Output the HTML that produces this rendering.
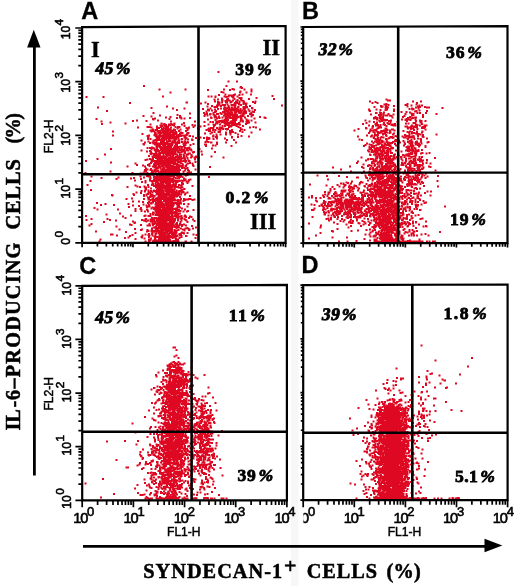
<!DOCTYPE html>
<html lang="en">
<head>
<meta charset="utf-8">
<title>Flow cytometry: IL-6-producing vs syndecan-1+ cells</title>
<style>
html,body{margin:0;padding:0;background:#fff}
body{width:520px;height:586px;overflow:hidden}
svg{display:block}
text{fill:#000}
</style>
</head>
<body>
<svg width="520" height="586" viewBox="0 0 520 586">
<rect width="520" height="586" fill="#fff"/>
<rect x="291" y="0" width="7.5" height="586" fill="#f7f7f7"/>
<path d="M84.5 173h2.0M85 161h2.0M85 216h2.0M85.5 97h2.0M85.5 220h2.0M86.5 185h2.0M88.5 225.5h2.0M89.5 181h2.0M90 190h2.0M90.5 176.5h2.0M90.5 219h2.0M90.5 224h2.0M93.5 208h2.0M95 231.5h2.0M95.5 119h2.0M96 203h2.0M96.5 159h2.0M96.5 209.5h2.0M97 107.5h2.0M98.5 241.5h2.0M99.5 239.5h2.0M100 205h2.0M100.5 121.5h2.0M100.5 178h2.0M101 124h2.0M102.5 97h2.0M103 222h2.0M104 154.5h2.0M104.5 204h2.0M105.5 214.5h2.0M106 111h2.0M106.5 219h2.0M109 220h2.0M109.5 122.5h2.0M109.5 171.5h2.0M110 149h2.0M110 162.5h2.0M110 234.5h2.0M111 195h2.0M111.5 195.5h2.0M111.5 234.5h2.0M112 131.5h2.0M112 135.5h2.0M113 205h2.0M115 220.5h2.0M115.5 179h2.0M115.5 226.5h2.0M116 235.5h2.0M117 209.5h2.0M117.5 177.5h2.0M118.5 229.5h2.0M119 213.5h2.0M122 216.5h2.0M124 238h2.0M124.5 123.5h2.0M124.5 218h2.0M125 232h2.0M125.5 199h2.0M126.5 166.5h2.0M126.5 187h2.0M127.5 204h2.0M127.5 237.5h2.0M128 207h2.0M129 103h2.0M129 224.5h2.0M129 236h2.0M130 178.5h2.0M130 215.5h2.0M130.5 225h2.0M131 198.5h2.0M131.5 173h2.0M131.5 235h2.0M132 121h2.0M132 201.5h2.0M132 205.5h2.0M132 221.5h2.0M132.5 194h2.0M133 178h2.0M133 195h2.0M133.5 223h2.0M134 180.5h2.0M134 222.5h2.0M134 229h2.0M134.5 163.5h2.0M134.5 185.5h2.0M134.5 209h2.0M134.5 211h2.0M134.5 233h2.0M134.5 239h2.0M135.5 192.5h2.0M136 120.5h2.0M136 165h2.0M136.5 186.5h2.0M137 127.5h2.0M138 201.5h2.0M138 206h2.0M139 187h2.0M139.5 173.5h2.0M139.5 176.5h2.0M139.5 209h2.0M140 179h2.0M140 193h2.0M140 208h2.0M140 225h2.0M140 230h2.0M140.5 140.5h2.0M140.5 150.5h2.0M140.5 173.5h2.0M140.5 191h2.0M140.5 210h2.0M140.5 211h2.0M140.5 237h2.0M141 182h2.0M141 220h2.0M141 229.5h2.0M141 237.5h2.0M141.5 134h2.0M141.5 235.5h2.0M142 165.5h2.0M142 202h2.0M142.5 116h2.0M142.5 144h2.0M142.5 173.5h2.0M142.5 204.5h2.0M143 86h2.0M143 144.5h2.0M143 177.5h2.0M143 195h2.0M143 196h2.0M143 199h2.0M143 220.5h2.0M143.5 171.5h2.0M143.5 186.5h2.0M143.5 216h2.0M143.5 238.5h2.0M144 142.5h2.0M144 166.5h2.0M144 170h2.0M144 187.5h2.0M144 190.5h2.0M144 191.5h2.0M144 211.5h2.0M144.5 160h2.0M144.5 181h2.0M144.5 182.5h2.0M144.5 215.5h2.0M144.5 219.5h2.0M144.5 221h2.0M144.5 234.5h2.0M144.5 241.5h2.0M145 168.5h2.0M145 171h2.0M145 173.5h2.0M145 187.5h2.0M145 189.5h2.0M145 219h2.0M145.5 121h2.0M145.5 169.5h2.0M145.5 194.5h2.0M145.5 195.5h2.0M145.5 205.5h2.0M145.5 221.5h2.0M146 151.5h2.0M146 176h2.0M146 207h2.0M146 209.5h2.0M146 231.5h2.0M146.5 127h2.0M146.5 136h2.0M146.5 148h2.0M146.5 159.5h2.0M146.5 169.5h2.0M146.5 173h2.0M146.5 210h2.0M146.5 225.5h2.0M146.5 230h2.0M147 137h2.0M147 139h2.0M147 165h2.0M147 185h2.0M147 194h2.0M147 197.5h2.0M147 203h2.0M147 211.5h2.0M147 220.5h2.0M147 225.5h2.0M147.5 136h2.0M147.5 137h2.0M147.5 137.5h2.0M147.5 141.5h2.0M147.5 176.5h2.0M147.5 187h2.0M147.5 190.5h2.0M147.5 191h2.0M147.5 192.5h2.0M147.5 199.5h2.0M147.5 206.5h2.0M147.5 216h2.0M147.5 231h2.0M147.5 235h2.0M148 135.5h2.0M148 156h2.0M148 175.5h2.0M148 198h2.0M148 202h2.0M148 205h2.0M148 225.5h2.0M148 234h2.0M148 237h2.0M148 239.5h2.0M148 241.5h2.0M148.5 127h2.0M148.5 164h2.0M148.5 166h2.0M148.5 176.5h2.0M148.5 206.5h2.0M148.5 224h2.0M148.5 235.5h2.0M148.5 239.5h2.0M148.5 241.5h2.0M149 143h2.0M149 148h2.0M149 151h2.0M149 159h2.0M149 176.5h2.0M149 179.5h2.0M149 180.5h2.0M149 192.5h2.0M149 197h2.0M149 225.5h2.0M149.5 124.5h2.0M149.5 130.5h2.0M149.5 139h2.0M149.5 153.5h2.0M149.5 170h2.0M149.5 178h2.0M149.5 193.5h2.0M149.5 195h2.0M149.5 200h2.0M149.5 200.5h2.0M149.5 203.5h2.0M149.5 214h2.0M149.5 216h2.0M149.5 219.5h2.0M149.5 221.5h2.0M149.5 240h2.0M150 152h2.0M150 154h2.0M150 159.5h2.0M150 163h2.0M150 169h2.0M150 188.5h2.0M150 191h2.0M150 238.5h2.0M150.5 108h2.0M150.5 116.5h2.0M150.5 127.5h2.0M150.5 131.5h2.0M150.5 149.5h2.0M150.5 162h2.0M150.5 173h2.0M150.5 181h2.0M150.5 196.5h2.0M150.5 203h2.0M150.5 203.5h2.0M150.5 208.5h2.0M150.5 220h2.0M150.5 230.5h2.0M150.5 231.5h2.0M151 147.5h2.0M151 153.5h2.0M151 161.5h2.0M151 170.5h2.0M151 171.5h2.0M151 184.5h2.0M151 185h2.0M151 195h2.0M151 196h2.0M151 199.5h2.0M151 218h2.0M151 221.5h2.0M151 228.5h2.0M151 230h2.0M151 234h2.0M151.5 130h2.0M151.5 142.5h2.0M151.5 156.5h2.0M151.5 161h2.0M151.5 174h2.0M151.5 174.5h2.0M151.5 182h2.0M151.5 192.5h2.0M151.5 195h2.0M151.5 207.5h2.0M151.5 219.5h2.0M151.5 223.5h2.0M151.5 233h2.0M151.5 235.5h2.0M152 119h2.0M152 129.5h2.0M152 131h2.0M152 148h2.0M152 157h2.0M152 158.5h2.0M152 159.5h2.0M152 166.5h2.0M152 173h2.0M152 184h2.0M152 196h2.0M152 199h2.0M152 201.5h2.0M152 202.5h2.0M152 212.5h2.0M152 213h2.0M152 214.5h2.0M152 225h2.0M152 231h2.0M152 241.5h2.0M152.5 113h2.0M152.5 119.5h2.0M152.5 140.5h2.0M152.5 142.5h2.0M152.5 143.5h2.0M152.5 161h2.0M152.5 181h2.0M152.5 191h2.0M152.5 197h2.0M152.5 199.5h2.0M152.5 213h2.0M152.5 227.5h2.0M152.5 240.5h2.0M153 143h2.0M153 154h2.0M153 155h2.0M153 156h2.0M153 157h2.0M153 164.5h2.0M153 165h2.0M153 171.5h2.0M153 176.5h2.0M153 177.5h2.0M153 180h2.0M153 186h2.0M153 190.5h2.0M153 201h2.0M153 209h2.0M153 218.5h2.0M153 221h2.0M153 221.5h2.0M153 224h2.0M153 231.5h2.0M153 241.5h2.0M153.5 131.5h2.0M153.5 135h2.0M153.5 148.5h2.0M153.5 149.5h2.0M153.5 164h2.0M153.5 166h2.0M153.5 167h2.0M153.5 169.5h2.0M153.5 178.5h2.0M153.5 180.5h2.0M153.5 196h2.0M153.5 208h2.0M153.5 218h2.0M153.5 219h2.0M153.5 227.5h2.0M153.5 236.5h2.0M153.5 240.5h2.0M154 118.5h2.0M154 133.5h2.0M154 134h2.0M154 135h2.0M154 144.5h2.0M154 150h2.0M154 155.5h2.0M154 162h2.0M154 163.5h2.0M154 167h2.0M154 170h2.0M154 199.5h2.0M154 222.5h2.0M154 231h2.0M154 238.5h2.0M154 240h2.0M154 241h2.0M154.5 130h2.0M154.5 133h2.0M154.5 136h2.0M154.5 140h2.0M154.5 142.5h2.0M154.5 144h2.0M154.5 144.5h2.0M154.5 151.5h2.0M154.5 161h2.0M154.5 163.5h2.0M154.5 172.5h2.0M154.5 173.5h2.0M154.5 177h2.0M154.5 179.5h2.0M154.5 181h2.0M154.5 183.5h2.0M154.5 185.5h2.0M154.5 191.5h2.0M154.5 201h2.0M154.5 204.5h2.0M154.5 207h2.0M154.5 207.5h2.0M154.5 210.5h2.0M154.5 211.5h2.0M154.5 214.5h2.0M154.5 215h2.0M154.5 223h2.0M154.5 227h2.0M154.5 228.5h2.0M154.5 233.5h2.0M154.5 235h2.0M154.5 239.5h2.0M155 142.5h2.0M155 150.5h2.0M155 153h2.0M155 154.5h2.0M155 156.5h2.0M155 157h2.0M155 158h2.0M155 162.5h2.0M155 164.5h2.0M155 165.5h2.0M155 167.5h2.0M155 170.5h2.0M155 178.5h2.0M155 179h2.0M155 181.5h2.0M155 182.5h2.0M155 187.5h2.0M155 191h2.0M155 192h2.0M155 198.5h2.0M155 199.5h2.0M155 202.5h2.0M155 207.5h2.0M155 208.5h2.0M155 218h2.0M155 221.5h2.0M155 229h2.0M155 230.5h2.0M155 233.5h2.0M155 240.5h2.0M155.5 134.5h2.0M155.5 136.5h2.0M155.5 137.5h2.0M155.5 140.5h2.0M155.5 142h2.0M155.5 144h2.0M155.5 146.5h2.0M155.5 150.5h2.0M155.5 153h2.0M155.5 153.5h2.0M155.5 154h2.0M155.5 155h2.0M155.5 164h2.0M155.5 169h2.0M155.5 169.5h2.0M155.5 171.5h2.0M155.5 177h2.0M155.5 182h2.0M155.5 185h2.0M155.5 194.5h2.0M155.5 200h2.0M155.5 202.5h2.0M155.5 203h2.0M155.5 204h2.0M155.5 206h2.0M155.5 208h2.0M155.5 213h2.0M155.5 224h2.0M155.5 225.5h2.0M155.5 227h2.0M155.5 227.5h2.0M155.5 231h2.0M155.5 231.5h2.0M155.5 233.5h2.0M155.5 237h2.0M155.5 241.5h2.0M156 126.5h2.0M156 128.5h2.0M156 130h2.0M156 138.5h2.0M156 147.5h2.0M156 149.5h2.0M156 162.5h2.0M156 175h2.0M156 176h2.0M156 176.5h2.0M156 186.5h2.0M156 190h2.0M156 193h2.0M156 198.5h2.0M156 205h2.0M156 208h2.0M156 210h2.0M156 213.5h2.0M156 218.5h2.0M156 220h2.0M156 221.5h2.0M156 224.5h2.0M156 229h2.0M156 231.5h2.0M156.5 131.5h2.0M156.5 144.5h2.0M156.5 151h2.0M156.5 154.5h2.0M156.5 155.5h2.0M156.5 157.5h2.0M156.5 159.5h2.0M156.5 160.5h2.0M156.5 164.5h2.0M156.5 167.5h2.0M156.5 171.5h2.0M156.5 174.5h2.0M156.5 177.5h2.0M156.5 181h2.0M156.5 181.5h2.0M156.5 182h2.0M156.5 185.5h2.0M156.5 187h2.0M156.5 189h2.0M156.5 191h2.0M156.5 194.5h2.0M156.5 198h2.0M156.5 208h2.0M156.5 209h2.0M156.5 210.5h2.0M156.5 212h2.0M156.5 213h2.0M156.5 213.5h2.0M156.5 215h2.0M156.5 219.5h2.0M156.5 237h2.0M156.5 240.5h2.0M156.5 241.5h2.0M157 120.5h2.0M157 136.5h2.0M157 139h2.0M157 144h2.0M157 146.5h2.0M157 150h2.0M157 151h2.0M157 159h2.0M157 160h2.0M157 163.5h2.0M157 168.5h2.0M157 171h2.0M157 171.5h2.0M157 179.5h2.0M157 180h2.0M157 183h2.0M157 184h2.0M157 190.5h2.0M157 198h2.0M157 200.5h2.0M157 202h2.0M157 203.5h2.0M157 204h2.0M157 207h2.0M157 208.5h2.0M157 212h2.0M157 214.5h2.0M157 220h2.0M157 220.5h2.0M157 222.5h2.0M157 229h2.0M157 230.5h2.0M157 241.5h2.0M157.5 128h2.0M157.5 131h2.0M157.5 132h2.0M157.5 133.5h2.0M157.5 137h2.0M157.5 137.5h2.0M157.5 140h2.0M157.5 143.5h2.0M157.5 145.5h2.0M157.5 146h2.0M157.5 154.5h2.0M157.5 155.5h2.0M157.5 159.5h2.0M157.5 161h2.0M157.5 164.5h2.0M157.5 167h2.0M157.5 177h2.0M157.5 179.5h2.0M157.5 180.5h2.0M157.5 186.5h2.0M157.5 187.5h2.0M157.5 188h2.0M157.5 188.5h2.0M157.5 191.5h2.0M157.5 194h2.0M157.5 197h2.0M157.5 199h2.0M157.5 200.5h2.0M157.5 204h2.0M157.5 205.5h2.0M157.5 206h2.0M157.5 210h2.0M157.5 210.5h2.0M157.5 213h2.0M157.5 217.5h2.0M157.5 219.5h2.0M157.5 220.5h2.0M157.5 222h2.0M157.5 224.5h2.0M157.5 225h2.0M157.5 228h2.0M157.5 229h2.0M157.5 229.5h2.0M157.5 231.5h2.0M157.5 237h2.0M157.5 241.5h2.0M158 128h2.0M158 136h2.0M158 138h2.0M158 139.5h2.0M158 146h2.0M158 146.5h2.0M158 151h2.0M158 151.5h2.0M158 154h2.0M158 154.5h2.0M158 156h2.0M158 157h2.0M158 162.5h2.0M158 166h2.0M158 173h2.0M158 174.5h2.0M158 178h2.0M158 179.5h2.0M158 180.5h2.0M158 184.5h2.0M158 185.5h2.0M158 186h2.0M158 189h2.0M158 190.5h2.0M158 192h2.0M158 195h2.0M158 197.5h2.0M158 198.5h2.0M158 205.5h2.0M158 208.5h2.0M158 209.5h2.0M158 210h2.0M158 211.5h2.0M158 220h2.0M158 225h2.0M158 226.5h2.0M158 232h2.0M158 233.5h2.0M158 237.5h2.0M158 238.5h2.0M158 240.5h2.0M158 241.5h2.0M158.5 89.5h2.0M158.5 132h2.0M158.5 132.5h2.0M158.5 133.5h2.0M158.5 138h2.0M158.5 143.5h2.0M158.5 145h2.0M158.5 145.5h2.0M158.5 146.5h2.0M158.5 153.5h2.0M158.5 158.5h2.0M158.5 163.5h2.0M158.5 172.5h2.0M158.5 173h2.0M158.5 176.5h2.0M158.5 178.5h2.0M158.5 184h2.0M158.5 187h2.0M158.5 194h2.0M158.5 196.5h2.0M158.5 202h2.0M158.5 205h2.0M158.5 212h2.0M158.5 214.5h2.0M158.5 215.5h2.0M158.5 217.5h2.0M158.5 218h2.0M158.5 218.5h2.0M158.5 219h2.0M158.5 222h2.0M158.5 224h2.0M158.5 231h2.0M158.5 236h2.0M158.5 237.5h2.0M158.5 238h2.0M158.5 241.5h2.0M159 115.5h2.0M159 132.5h2.0M159 134.5h2.0M159 143.5h2.0M159 144h2.0M159 146h2.0M159 147.5h2.0M159 152.5h2.0M159 155h2.0M159 163.5h2.0M159 172.5h2.0M159 173.5h2.0M159 177h2.0M159 177.5h2.0M159 179.5h2.0M159 184h2.0M159 184.5h2.0M159 191h2.0M159 192h2.0M159 193.5h2.0M159 196h2.0M159 196.5h2.0M159 197h2.0M159 198.5h2.0M159 199h2.0M159 208h2.0M159 212h2.0M159 213h2.0M159 215.5h2.0M159 218h2.0M159 218.5h2.0M159 219h2.0M159 219.5h2.0M159 223.5h2.0M159 228h2.0M159 234.5h2.0M159 235h2.0M159.5 125.5h2.0M159.5 131h2.0M159.5 133h2.0M159.5 140h2.0M159.5 153h2.0M159.5 156.5h2.0M159.5 157.5h2.0M159.5 160.5h2.0M159.5 164.5h2.0M159.5 167h2.0M159.5 168.5h2.0M159.5 171.5h2.0M159.5 180.5h2.0M159.5 182.5h2.0M159.5 184.5h2.0M159.5 186.5h2.0M159.5 189.5h2.0M159.5 194h2.0M159.5 194.5h2.0M159.5 197.5h2.0M159.5 199h2.0M159.5 200.5h2.0M159.5 203.5h2.0M159.5 204h2.0M159.5 204.5h2.0M159.5 207h2.0M159.5 211h2.0M159.5 212.5h2.0M159.5 214h2.0M159.5 215.5h2.0M159.5 219h2.0M159.5 227h2.0M159.5 233h2.0M159.5 233.5h2.0M159.5 237h2.0M159.5 241h2.0M159.5 241.5h2.0M160 127h2.0M160 130.5h2.0M160 133h2.0M160 136.5h2.0M160 141h2.0M160 142.5h2.0M160 144h2.0M160 148.5h2.0M160 150h2.0M160 152.5h2.0M160 157h2.0M160 158h2.0M160 158.5h2.0M160 162.5h2.0M160 163.5h2.0M160 164h2.0M160 164.5h2.0M160 172h2.0M160 173.5h2.0M160 174h2.0M160 174.5h2.0M160 175h2.0M160 176h2.0M160 177.5h2.0M160 186h2.0M160 187.5h2.0M160 190h2.0M160 192.5h2.0M160 193.5h2.0M160 195.5h2.0M160 196.5h2.0M160 197h2.0M160 198.5h2.0M160 200h2.0M160 200.5h2.0M160 202h2.0M160 206.5h2.0M160 210h2.0M160 217.5h2.0M160 218.5h2.0M160 219.5h2.0M160 221h2.0M160 222h2.0M160 223h2.0M160 224.5h2.0M160 225.5h2.0M160 228.5h2.0M160 230h2.0M160 231.5h2.0M160 233.5h2.0M160 240h2.0M160 241.5h2.0M160.5 123.5h2.0M160.5 130.5h2.0M160.5 136.5h2.0M160.5 142h2.0M160.5 143h2.0M160.5 143.5h2.0M160.5 147h2.0M160.5 149.5h2.0M160.5 153h2.0M160.5 156.5h2.0M160.5 158.5h2.0M160.5 160h2.0M160.5 160.5h2.0M160.5 162h2.0M160.5 164h2.0M160.5 166.5h2.0M160.5 170.5h2.0M160.5 171.5h2.0M160.5 173.5h2.0M160.5 178h2.0M160.5 178.5h2.0M160.5 179.5h2.0M160.5 180h2.0M160.5 181.5h2.0M160.5 183h2.0M160.5 187.5h2.0M160.5 189.5h2.0M160.5 190h2.0M160.5 191h2.0M160.5 194h2.0M160.5 194.5h2.0M160.5 197h2.0M160.5 202h2.0M160.5 203.5h2.0M160.5 207h2.0M160.5 212h2.0M160.5 213.5h2.0M160.5 215.5h2.0M160.5 217h2.0M160.5 223.5h2.0M160.5 227.5h2.0M160.5 228h2.0M160.5 231h2.0M160.5 234.5h2.0M160.5 235h2.0M160.5 235.5h2.0M160.5 238h2.0M160.5 240h2.0M160.5 241.5h2.0M161 126h2.0M161 129h2.0M161 135.5h2.0M161 139h2.0M161 139.5h2.0M161 140.5h2.0M161 141h2.0M161 142h2.0M161 148.5h2.0M161 149h2.0M161 150.5h2.0M161 151h2.0M161 151.5h2.0M161 153h2.0M161 159h2.0M161 161.5h2.0M161 162h2.0M161 174.5h2.0M161 175h2.0M161 176h2.0M161 187h2.0M161 191h2.0M161 195h2.0M161 195.5h2.0M161 196h2.0M161 197h2.0M161 198h2.0M161 202.5h2.0M161 205h2.0M161 213h2.0M161 215.5h2.0M161 217h2.0M161 219.5h2.0M161 220h2.0M161 221.5h2.0M161 222h2.0M161 222.5h2.0M161 225h2.0M161 226h2.0M161 226.5h2.0M161 227h2.0M161 228.5h2.0M161 230h2.0M161 230.5h2.0M161 234h2.0M161 236h2.0M161 238h2.0M161 239.5h2.0M161.5 129h2.0M161.5 138h2.0M161.5 138.5h2.0M161.5 142.5h2.0M161.5 143h2.0M161.5 151.5h2.0M161.5 157.5h2.0M161.5 159h2.0M161.5 159.5h2.0M161.5 162.5h2.0M161.5 165h2.0M161.5 169.5h2.0M161.5 170h2.0M161.5 172h2.0M161.5 172.5h2.0M161.5 173h2.0M161.5 174h2.0M161.5 174.5h2.0M161.5 177h2.0M161.5 178.5h2.0M161.5 179h2.0M161.5 182h2.0M161.5 182.5h2.0M161.5 183.5h2.0M161.5 185h2.0M161.5 186h2.0M161.5 187.5h2.0M161.5 188h2.0M161.5 190h2.0M161.5 191h2.0M161.5 191.5h2.0M161.5 193h2.0M161.5 198.5h2.0M161.5 205h2.0M161.5 206h2.0M161.5 207.5h2.0M161.5 208h2.0M161.5 208.5h2.0M161.5 209h2.0M161.5 211h2.0M161.5 213h2.0M161.5 214h2.0M161.5 215h2.0M161.5 216.5h2.0M161.5 218.5h2.0M161.5 220h2.0M161.5 223.5h2.0M161.5 224.5h2.0M161.5 226.5h2.0M161.5 228.5h2.0M161.5 229.5h2.0M161.5 233h2.0M161.5 236h2.0M161.5 240h2.0M162 96.5h2.0M162 129.5h2.0M162 131.5h2.0M162 132.5h2.0M162 136h2.0M162 139.5h2.0M162 144.5h2.0M162 145.5h2.0M162 149h2.0M162 150.5h2.0M162 151h2.0M162 156.5h2.0M162 160.5h2.0M162 161.5h2.0M162 162h2.0M162 163.5h2.0M162 165h2.0M162 166.5h2.0M162 169h2.0M162 170.5h2.0M162 171.5h2.0M162 172h2.0M162 175.5h2.0M162 179.5h2.0M162 180.5h2.0M162 181.5h2.0M162 182h2.0M162 184.5h2.0M162 190.5h2.0M162 194.5h2.0M162 195h2.0M162 195.5h2.0M162 199h2.0M162 203.5h2.0M162 207.5h2.0M162 209h2.0M162 212h2.0M162 213.5h2.0M162 214.5h2.0M162 215h2.0M162 216.5h2.0M162 225h2.0M162 231.5h2.0M162 233h2.0M162 233.5h2.0M162 235h2.0M162 235.5h2.0M162 236.5h2.0M162 241.5h2.0M162.5 124.5h2.0M162.5 127.5h2.0M162.5 128.5h2.0M162.5 134.5h2.0M162.5 135.5h2.0M162.5 137h2.0M162.5 142.5h2.0M162.5 143h2.0M162.5 143.5h2.0M162.5 148h2.0M162.5 152h2.0M162.5 154.5h2.0M162.5 156h2.0M162.5 157h2.0M162.5 158h2.0M162.5 161h2.0M162.5 161.5h2.0M162.5 162.5h2.0M162.5 163.5h2.0M162.5 164.5h2.0M162.5 165.5h2.0M162.5 168.5h2.0M162.5 170.5h2.0M162.5 172h2.0M162.5 173h2.0M162.5 174h2.0M162.5 174.5h2.0M162.5 175.5h2.0M162.5 179.5h2.0M162.5 180h2.0M162.5 181h2.0M162.5 183.5h2.0M162.5 184.5h2.0M162.5 186.5h2.0M162.5 190.5h2.0M162.5 191.5h2.0M162.5 192.5h2.0M162.5 193.5h2.0M162.5 194h2.0M162.5 196.5h2.0M162.5 198.5h2.0M162.5 204.5h2.0M162.5 209.5h2.0M162.5 215h2.0M162.5 216.5h2.0M162.5 226.5h2.0M162.5 227.5h2.0M162.5 229.5h2.0M162.5 231.5h2.0M162.5 237.5h2.0M162.5 239h2.0M162.5 240h2.0M163 135.5h2.0M163 140.5h2.0M163 141.5h2.0M163 142.5h2.0M163 143h2.0M163 146.5h2.0M163 149h2.0M163 152.5h2.0M163 153h2.0M163 156.5h2.0M163 161h2.0M163 161.5h2.0M163 163h2.0M163 165h2.0M163 171h2.0M163 172h2.0M163 172.5h2.0M163 177.5h2.0M163 178.5h2.0M163 185.5h2.0M163 186h2.0M163 187.5h2.0M163 188h2.0M163 193.5h2.0M163 196.5h2.0M163 198.5h2.0M163 201h2.0M163 204.5h2.0M163 205h2.0M163 205.5h2.0M163 209.5h2.0M163 210h2.0M163 211h2.0M163 212h2.0M163 214h2.0M163 215h2.0M163 218h2.0M163 218.5h2.0M163 220.5h2.0M163 222.5h2.0M163 223.5h2.0M163 224h2.0M163 224.5h2.0M163 226h2.0M163 230.5h2.0M163 234h2.0M163 235h2.0M163 238h2.0M163 241h2.0M163 241.5h2.0M163.5 124h2.0M163.5 125.5h2.0M163.5 126h2.0M163.5 126.5h2.0M163.5 131h2.0M163.5 133h2.0M163.5 134.5h2.0M163.5 137h2.0M163.5 137.5h2.0M163.5 143h2.0M163.5 144h2.0M163.5 144.5h2.0M163.5 149h2.0M163.5 150h2.0M163.5 150.5h2.0M163.5 156.5h2.0M163.5 157.5h2.0M163.5 160.5h2.0M163.5 161h2.0M163.5 161.5h2.0M163.5 162.5h2.0M163.5 163h2.0M163.5 164h2.0M163.5 164.5h2.0M163.5 168h2.0M163.5 169h2.0M163.5 171h2.0M163.5 174.5h2.0M163.5 177h2.0M163.5 194.5h2.0M163.5 198h2.0M163.5 199h2.0M163.5 200h2.0M163.5 205.5h2.0M163.5 206h2.0M163.5 206.5h2.0M163.5 213.5h2.0M163.5 215.5h2.0M163.5 217h2.0M163.5 218.5h2.0M163.5 221.5h2.0M163.5 222h2.0M163.5 230h2.0M163.5 233h2.0M163.5 236.5h2.0M163.5 239.5h2.0M163.5 241h2.0M163.5 241.5h2.0M164 134h2.0M164 134.5h2.0M164 135.5h2.0M164 136h2.0M164 136.5h2.0M164 137h2.0M164 137.5h2.0M164 139h2.0M164 145h2.0M164 147h2.0M164 147.5h2.0M164 150h2.0M164 158h2.0M164 158.5h2.0M164 160.5h2.0M164 172h2.0M164 174.5h2.0M164 178h2.0M164 181h2.0M164 182h2.0M164 185.5h2.0M164 187h2.0M164 187.5h2.0M164 190.5h2.0M164 195h2.0M164 200.5h2.0M164 208.5h2.0M164 209.5h2.0M164 210.5h2.0M164 213.5h2.0M164 214h2.0M164 215h2.0M164 218h2.0M164 219.5h2.0M164 223.5h2.0M164 228.5h2.0M164 229.5h2.0M164 230h2.0M164 234h2.0M164 234.5h2.0M164 235h2.0M164 236h2.0M164 236.5h2.0M164 237h2.0M164 241.5h2.0M164.5 129h2.0M164.5 131h2.0M164.5 132.5h2.0M164.5 133h2.0M164.5 135.5h2.0M164.5 138.5h2.0M164.5 143.5h2.0M164.5 144.5h2.0M164.5 147h2.0M164.5 147.5h2.0M164.5 149.5h2.0M164.5 152h2.0M164.5 156.5h2.0M164.5 157h2.0M164.5 158h2.0M164.5 158.5h2.0M164.5 160h2.0M164.5 164.5h2.0M164.5 165h2.0M164.5 166.5h2.0M164.5 170.5h2.0M164.5 171h2.0M164.5 171.5h2.0M164.5 179h2.0M164.5 180h2.0M164.5 180.5h2.0M164.5 181.5h2.0M164.5 185.5h2.0M164.5 189h2.0M164.5 189.5h2.0M164.5 193.5h2.0M164.5 197h2.0M164.5 199h2.0M164.5 202h2.0M164.5 203.5h2.0M164.5 205h2.0M164.5 208h2.0M164.5 209.5h2.0M164.5 210h2.0M164.5 214.5h2.0M164.5 222h2.0M164.5 222.5h2.0M164.5 226.5h2.0M164.5 227h2.0M164.5 228h2.0M164.5 229h2.0M164.5 237.5h2.0M164.5 241.5h2.0M165 117.5h2.0M165 125h2.0M165 127h2.0M165 132.5h2.0M165 135h2.0M165 135.5h2.0M165 137.5h2.0M165 143h2.0M165 147.5h2.0M165 149h2.0M165 151h2.0M165 151.5h2.0M165 154h2.0M165 156.5h2.0M165 157.5h2.0M165 158.5h2.0M165 159.5h2.0M165 161h2.0M165 161.5h2.0M165 163.5h2.0M165 164.5h2.0M165 170h2.0M165 170.5h2.0M165 171.5h2.0M165 174.5h2.0M165 175h2.0M165 176.5h2.0M165 178.5h2.0M165 179h2.0M165 179.5h2.0M165 180h2.0M165 180.5h2.0M165 182h2.0M165 183h2.0M165 185.5h2.0M165 187h2.0M165 187.5h2.0M165 191h2.0M165 194h2.0M165 198.5h2.0M165 201.5h2.0M165 202h2.0M165 203h2.0M165 203.5h2.0M165 204.5h2.0M165 205.5h2.0M165 210h2.0M165 211.5h2.0M165 213h2.0M165 213.5h2.0M165 214.5h2.0M165 215h2.0M165 216.5h2.0M165 221h2.0M165 221.5h2.0M165 224.5h2.0M165 225.5h2.0M165 227.5h2.0M165 228h2.0M165 230.5h2.0M165 232.5h2.0M165 236.5h2.0M165 238h2.0M165 239h2.0M165 240h2.0M165 241.5h2.0M165.5 131h2.0M165.5 131.5h2.0M165.5 132.5h2.0M165.5 133h2.0M165.5 138.5h2.0M165.5 140h2.0M165.5 143.5h2.0M165.5 144h2.0M165.5 144.5h2.0M165.5 147h2.0M165.5 151h2.0M165.5 151.5h2.0M165.5 152h2.0M165.5 155h2.0M165.5 156h2.0M165.5 158.5h2.0M165.5 159h2.0M165.5 164h2.0M165.5 164.5h2.0M165.5 172h2.0M165.5 174.5h2.0M165.5 177h2.0M165.5 177.5h2.0M165.5 180h2.0M165.5 187.5h2.0M165.5 188h2.0M165.5 189.5h2.0M165.5 190h2.0M165.5 190.5h2.0M165.5 193.5h2.0M165.5 194h2.0M165.5 196.5h2.0M165.5 197.5h2.0M165.5 198h2.0M165.5 198.5h2.0M165.5 199.5h2.0M165.5 205h2.0M165.5 209h2.0M165.5 210.5h2.0M165.5 212.5h2.0M165.5 214h2.0M165.5 216.5h2.0M165.5 217h2.0M165.5 219.5h2.0M165.5 220.5h2.0M165.5 221.5h2.0M165.5 222.5h2.0M165.5 223.5h2.0M165.5 225.5h2.0M165.5 226.5h2.0M165.5 227.5h2.0M165.5 228.5h2.0M165.5 230.5h2.0M165.5 232h2.0M165.5 233h2.0M165.5 235.5h2.0M165.5 237h2.0M165.5 238.5h2.0M165.5 241.5h2.0M166 106.5h2.0M166 127h2.0M166 127.5h2.0M166 133.5h2.0M166 134h2.0M166 142h2.0M166 143h2.0M166 143.5h2.0M166 144.5h2.0M166 147.5h2.0M166 148h2.0M166 151.5h2.0M166 154h2.0M166 155h2.0M166 160h2.0M166 161.5h2.0M166 162.5h2.0M166 163.5h2.0M166 164.5h2.0M166 165h2.0M166 167h2.0M166 167.5h2.0M166 170h2.0M166 171.5h2.0M166 173.5h2.0M166 176.5h2.0M166 178h2.0M166 181h2.0M166 182h2.0M166 185h2.0M166 187.5h2.0M166 188h2.0M166 189.5h2.0M166 190h2.0M166 192.5h2.0M166 193h2.0M166 194.5h2.0M166 195h2.0M166 198h2.0M166 198.5h2.0M166 200h2.0M166 200.5h2.0M166 202h2.0M166 207.5h2.0M166 208.5h2.0M166 209h2.0M166 212.5h2.0M166 214h2.0M166 218h2.0M166 219h2.0M166 220.5h2.0M166 225.5h2.0M166 226.5h2.0M166 227.5h2.0M166 231h2.0M166 231.5h2.0M166 236h2.0M166 238.5h2.0M166 240h2.0M166 240.5h2.0M166 241.5h2.0M166.5 127.5h2.0M166.5 128h2.0M166.5 130h2.0M166.5 131.5h2.0M166.5 134.5h2.0M166.5 141.5h2.0M166.5 142h2.0M166.5 148h2.0M166.5 149.5h2.0M166.5 151h2.0M166.5 154.5h2.0M166.5 156h2.0M166.5 158.5h2.0M166.5 161h2.0M166.5 163h2.0M166.5 164.5h2.0M166.5 167.5h2.0M166.5 168.5h2.0M166.5 174.5h2.0M166.5 178h2.0M166.5 180h2.0M166.5 180.5h2.0M166.5 181h2.0M166.5 182.5h2.0M166.5 184h2.0M166.5 184.5h2.0M166.5 191.5h2.0M166.5 200h2.0M166.5 201h2.0M166.5 202.5h2.0M166.5 204h2.0M166.5 209h2.0M166.5 210h2.0M166.5 211.5h2.0M166.5 214h2.0M166.5 214.5h2.0M166.5 215.5h2.0M166.5 218h2.0M166.5 224.5h2.0M166.5 226.5h2.0M166.5 228.5h2.0M166.5 229.5h2.0M166.5 230h2.0M166.5 231h2.0M166.5 233.5h2.0M166.5 234h2.0M166.5 236.5h2.0M166.5 241.5h2.0M167 128h2.0M167 128.5h2.0M167 132.5h2.0M167 135h2.0M167 135.5h2.0M167 137h2.0M167 137.5h2.0M167 138h2.0M167 144.5h2.0M167 146.5h2.0M167 147h2.0M167 148.5h2.0M167 149h2.0M167 159h2.0M167 160h2.0M167 162h2.0M167 164.5h2.0M167 165.5h2.0M167 172.5h2.0M167 173.5h2.0M167 174h2.0M167 175h2.0M167 176.5h2.0M167 181.5h2.0M167 182h2.0M167 182.5h2.0M167 183h2.0M167 185h2.0M167 185.5h2.0M167 189h2.0M167 190.5h2.0M167 191h2.0M167 192.5h2.0M167 193h2.0M167 194h2.0M167 195h2.0M167 195.5h2.0M167 200.5h2.0M167 205h2.0M167 207h2.0M167 209h2.0M167 210h2.0M167 212.5h2.0M167 214h2.0M167 215h2.0M167 215.5h2.0M167 219.5h2.0M167 220h2.0M167 223.5h2.0M167 226h2.0M167 228.5h2.0M167 230.5h2.0M167 234h2.0M167 236.5h2.0M167 237h2.0M167 241.5h2.0M167.5 126h2.0M167.5 129.5h2.0M167.5 132h2.0M167.5 149.5h2.0M167.5 150.5h2.0M167.5 151.5h2.0M167.5 153.5h2.0M167.5 159h2.0M167.5 159.5h2.0M167.5 163.5h2.0M167.5 164h2.0M167.5 164.5h2.0M167.5 165h2.0M167.5 165.5h2.0M167.5 166.5h2.0M167.5 172h2.0M167.5 176h2.0M167.5 177.5h2.0M167.5 178h2.0M167.5 181.5h2.0M167.5 182h2.0M167.5 185.5h2.0M167.5 186h2.0M167.5 186.5h2.0M167.5 188h2.0M167.5 189h2.0M167.5 191h2.0M167.5 192.5h2.0M167.5 193.5h2.0M167.5 194.5h2.0M167.5 195h2.0M167.5 198h2.0M167.5 201h2.0M167.5 201.5h2.0M167.5 204h2.0M167.5 205.5h2.0M167.5 206h2.0M167.5 207.5h2.0M167.5 209h2.0M167.5 216.5h2.0M167.5 224h2.0M167.5 225.5h2.0M167.5 227h2.0M167.5 229h2.0M167.5 229.5h2.0M167.5 230h2.0M167.5 235.5h2.0M167.5 239.5h2.0M167.5 241.5h2.0M168 124.5h2.0M168 129.5h2.0M168 130h2.0M168 133h2.0M168 133.5h2.0M168 135.5h2.0M168 136h2.0M168 139h2.0M168 141h2.0M168 143.5h2.0M168 144.5h2.0M168 147h2.0M168 153.5h2.0M168 155h2.0M168 157.5h2.0M168 159.5h2.0M168 160.5h2.0M168 161.5h2.0M168 162.5h2.0M168 164h2.0M168 165.5h2.0M168 167.5h2.0M168 169h2.0M168 170.5h2.0M168 171h2.0M168 172.5h2.0M168 176.5h2.0M168 177h2.0M168 179h2.0M168 180h2.0M168 182h2.0M168 184h2.0M168 188h2.0M168 189.5h2.0M168 190.5h2.0M168 191h2.0M168 191.5h2.0M168 192h2.0M168 194h2.0M168 195.5h2.0M168 198h2.0M168 199.5h2.0M168 202.5h2.0M168 203h2.0M168 204h2.0M168 205.5h2.0M168 208h2.0M168 210h2.0M168 210.5h2.0M168 212.5h2.0M168 213h2.0M168 217.5h2.0M168 218h2.0M168 227h2.0M168 228h2.0M168 229h2.0M168 229.5h2.0M168 233.5h2.0M168 236h2.0M168 237.5h2.0M168 238h2.0M168 240h2.0M168 241.5h2.0M168.5 119h2.0M168.5 137h2.0M168.5 139.5h2.0M168.5 140h2.0M168.5 144.5h2.0M168.5 145.5h2.0M168.5 148.5h2.0M168.5 150h2.0M168.5 151.5h2.0M168.5 152h2.0M168.5 158h2.0M168.5 159h2.0M168.5 166.5h2.0M168.5 170h2.0M168.5 172.5h2.0M168.5 173.5h2.0M168.5 177.5h2.0M168.5 178.5h2.0M168.5 179h2.0M168.5 185.5h2.0M168.5 186h2.0M168.5 186.5h2.0M168.5 187h2.0M168.5 190h2.0M168.5 191.5h2.0M168.5 192h2.0M168.5 192.5h2.0M168.5 193.5h2.0M168.5 195h2.0M168.5 196h2.0M168.5 196.5h2.0M168.5 197h2.0M168.5 198h2.0M168.5 199h2.0M168.5 201h2.0M168.5 202.5h2.0M168.5 208.5h2.0M168.5 210.5h2.0M168.5 211.5h2.0M168.5 214.5h2.0M168.5 215.5h2.0M168.5 217.5h2.0M168.5 220h2.0M168.5 221h2.0M168.5 222h2.0M168.5 222.5h2.0M168.5 224h2.0M168.5 226.5h2.0M168.5 227h2.0M168.5 227.5h2.0M168.5 230.5h2.0M168.5 231.5h2.0M168.5 233h2.0M168.5 235.5h2.0M168.5 238h2.0M168.5 240.5h2.0M168.5 241.5h2.0M169 130.5h2.0M169 133h2.0M169 135h2.0M169 138.5h2.0M169 144.5h2.0M169 149h2.0M169 149.5h2.0M169 153.5h2.0M169 155h2.0M169 161h2.0M169 163h2.0M169 165h2.0M169 165.5h2.0M169 166h2.0M169 166.5h2.0M169 167h2.0M169 167.5h2.0M169 173h2.0M169 173.5h2.0M169 175h2.0M169 179.5h2.0M169 181h2.0M169 182.5h2.0M169 184h2.0M169 185.5h2.0M169 186.5h2.0M169 187h2.0M169 188.5h2.0M169 189h2.0M169 192h2.0M169 195.5h2.0M169 196.5h2.0M169 201h2.0M169 204.5h2.0M169 210.5h2.0M169 217.5h2.0M169 218h2.0M169 219.5h2.0M169 221.5h2.0M169 222.5h2.0M169 225.5h2.0M169 227h2.0M169 230h2.0M169 236h2.0M169 240h2.0M169 241.5h2.0M169.5 92.5h2.0M169.5 117h2.0M169.5 125h2.0M169.5 129h2.0M169.5 135.5h2.0M169.5 136h2.0M169.5 138h2.0M169.5 141h2.0M169.5 145.5h2.0M169.5 156.5h2.0M169.5 157h2.0M169.5 165h2.0M169.5 172h2.0M169.5 178.5h2.0M169.5 181.5h2.0M169.5 182h2.0M169.5 185h2.0M169.5 186h2.0M169.5 187h2.0M169.5 188h2.0M169.5 194.5h2.0M169.5 197.5h2.0M169.5 198.5h2.0M169.5 199h2.0M169.5 202h2.0M169.5 202.5h2.0M169.5 203h2.0M169.5 204h2.0M169.5 204.5h2.0M169.5 206.5h2.0M169.5 208.5h2.0M169.5 210h2.0M169.5 212.5h2.0M169.5 213h2.0M169.5 213.5h2.0M169.5 217.5h2.0M169.5 220.5h2.0M169.5 223.5h2.0M169.5 227.5h2.0M169.5 229h2.0M169.5 233h2.0M169.5 236.5h2.0M170 121.5h2.0M170 124h2.0M170 127.5h2.0M170 131.5h2.0M170 135h2.0M170 137h2.0M170 144h2.0M170 144.5h2.0M170 145h2.0M170 147.5h2.0M170 148h2.0M170 148.5h2.0M170 149h2.0M170 150h2.0M170 152h2.0M170 152.5h2.0M170 154.5h2.0M170 157.5h2.0M170 159h2.0M170 159.5h2.0M170 160h2.0M170 161.5h2.0M170 166.5h2.0M170 167.5h2.0M170 169h2.0M170 175h2.0M170 176h2.0M170 179h2.0M170 181h2.0M170 181.5h2.0M170 189h2.0M170 191h2.0M170 191.5h2.0M170 192h2.0M170 197h2.0M170 198.5h2.0M170 200h2.0M170 200.5h2.0M170 202.5h2.0M170 203h2.0M170 205.5h2.0M170 209h2.0M170 210h2.0M170 217h2.0M170 218.5h2.0M170 222h2.0M170 223h2.0M170 228h2.0M170 230h2.0M170 231.5h2.0M170 232h2.0M170 233h2.0M170 236.5h2.0M170 237h2.0M170 241.5h2.0M170.5 132h2.0M170.5 137.5h2.0M170.5 138h2.0M170.5 138.5h2.0M170.5 142.5h2.0M170.5 145h2.0M170.5 148.5h2.0M170.5 149.5h2.0M170.5 157h2.0M170.5 157.5h2.0M170.5 158h2.0M170.5 167.5h2.0M170.5 169h2.0M170.5 170.5h2.0M170.5 172.5h2.0M170.5 173.5h2.0M170.5 175.5h2.0M170.5 176h2.0M170.5 179h2.0M170.5 187h2.0M170.5 189h2.0M170.5 190.5h2.0M170.5 192h2.0M170.5 195.5h2.0M170.5 196.5h2.0M170.5 200h2.0M170.5 201h2.0M170.5 204h2.0M170.5 206.5h2.0M170.5 209.5h2.0M170.5 213h2.0M170.5 219.5h2.0M170.5 222.5h2.0M170.5 223h2.0M170.5 225.5h2.0M170.5 232h2.0M170.5 232.5h2.0M170.5 241.5h2.0M171 130.5h2.0M171 136h2.0M171 138h2.0M171 144.5h2.0M171 145.5h2.0M171 150h2.0M171 151.5h2.0M171 152h2.0M171 152.5h2.0M171 154.5h2.0M171 163h2.0M171 166h2.0M171 169.5h2.0M171 171.5h2.0M171 181.5h2.0M171 187h2.0M171 190.5h2.0M171 194h2.0M171 196h2.0M171 197h2.0M171 199h2.0M171 200h2.0M171 202h2.0M171 205.5h2.0M171 207.5h2.0M171 212h2.0M171 213.5h2.0M171 215.5h2.0M171 219h2.0M171 220.5h2.0M171 221h2.0M171 221.5h2.0M171 222.5h2.0M171 223.5h2.0M171 226h2.0M171 226.5h2.0M171 227.5h2.0M171 228.5h2.0M171 230.5h2.0M171 234h2.0M171 236.5h2.0M171 241.5h2.0M171.5 124.5h2.0M171.5 132h2.0M171.5 134h2.0M171.5 135.5h2.0M171.5 136.5h2.0M171.5 144h2.0M171.5 149h2.0M171.5 151h2.0M171.5 158h2.0M171.5 160.5h2.0M171.5 162.5h2.0M171.5 168.5h2.0M171.5 171.5h2.0M171.5 173.5h2.0M171.5 175.5h2.0M171.5 176h2.0M171.5 178.5h2.0M171.5 180.5h2.0M171.5 181.5h2.0M171.5 185.5h2.0M171.5 186.5h2.0M171.5 187h2.0M171.5 189.5h2.0M171.5 192h2.0M171.5 193.5h2.0M171.5 197h2.0M171.5 198.5h2.0M171.5 199.5h2.0M171.5 201.5h2.0M171.5 203h2.0M171.5 206.5h2.0M171.5 210h2.0M171.5 212.5h2.0M171.5 213.5h2.0M171.5 216h2.0M171.5 218h2.0M171.5 218.5h2.0M171.5 227h2.0M171.5 232.5h2.0M171.5 233h2.0M171.5 234.5h2.0M171.5 235.5h2.0M171.5 236.5h2.0M171.5 238h2.0M171.5 241.5h2.0M172 108.5h2.0M172 125h2.0M172 131h2.0M172 133.5h2.0M172 135h2.0M172 138h2.0M172 141.5h2.0M172 151.5h2.0M172 152h2.0M172 153.5h2.0M172 154h2.0M172 155.5h2.0M172 157h2.0M172 157.5h2.0M172 158.5h2.0M172 160.5h2.0M172 162.5h2.0M172 167h2.0M172 169.5h2.0M172 170h2.0M172 173.5h2.0M172 178.5h2.0M172 181.5h2.0M172 182h2.0M172 185h2.0M172 185.5h2.0M172 186.5h2.0M172 192h2.0M172 200h2.0M172 205.5h2.0M172 206.5h2.0M172 209.5h2.0M172 216.5h2.0M172 219h2.0M172 222.5h2.0M172 224.5h2.0M172 226h2.0M172 226.5h2.0M172 233.5h2.0M172 234h2.0M172 237.5h2.0M172 241.5h2.0M172.5 131.5h2.0M172.5 133.5h2.0M172.5 136.5h2.0M172.5 138h2.0M172.5 138.5h2.0M172.5 141h2.0M172.5 142.5h2.0M172.5 152h2.0M172.5 153h2.0M172.5 154h2.0M172.5 160.5h2.0M172.5 165h2.0M172.5 167h2.0M172.5 170.5h2.0M172.5 171.5h2.0M172.5 184h2.0M172.5 193h2.0M172.5 193.5h2.0M172.5 194.5h2.0M172.5 196h2.0M172.5 204.5h2.0M172.5 205h2.0M172.5 209h2.0M172.5 213.5h2.0M172.5 223.5h2.0M172.5 226.5h2.0M172.5 237.5h2.0M172.5 241h2.0M173 125.5h2.0M173 129.5h2.0M173 136h2.0M173 138h2.0M173 141.5h2.0M173 147.5h2.0M173 152h2.0M173 153.5h2.0M173 159.5h2.0M173 164h2.0M173 167h2.0M173 167.5h2.0M173 169.5h2.0M173 172h2.0M173 176.5h2.0M173 177h2.0M173 180.5h2.0M173 184.5h2.0M173 185h2.0M173 189.5h2.0M173 191.5h2.0M173 198h2.0M173 198.5h2.0M173 203h2.0M173 203.5h2.0M173 209h2.0M173 221h2.0M173 222h2.0M173 225.5h2.0M173 226h2.0M173 234.5h2.0M173 237h2.0M173 241.5h2.0M173.5 123.5h2.0M173.5 124h2.0M173.5 132.5h2.0M173.5 138.5h2.0M173.5 139h2.0M173.5 139.5h2.0M173.5 149.5h2.0M173.5 151.5h2.0M173.5 152h2.0M173.5 160.5h2.0M173.5 162.5h2.0M173.5 169.5h2.0M173.5 172h2.0M173.5 172.5h2.0M173.5 175h2.0M173.5 181h2.0M173.5 186h2.0M173.5 189h2.0M173.5 194.5h2.0M173.5 203.5h2.0M173.5 212h2.0M173.5 220h2.0M173.5 230h2.0M173.5 231.5h2.0M173.5 232.5h2.0M173.5 236h2.0M173.5 241.5h2.0M174 130h2.0M174 134h2.0M174 137.5h2.0M174 138h2.0M174 140.5h2.0M174 146h2.0M174 147h2.0M174 150h2.0M174 150.5h2.0M174 152.5h2.0M174 154.5h2.0M174 157.5h2.0M174 158h2.0M174 160.5h2.0M174 161.5h2.0M174 163.5h2.0M174 164h2.0M174 168h2.0M174 172.5h2.0M174 175h2.0M174 184.5h2.0M174 185.5h2.0M174 186h2.0M174 187h2.0M174 187.5h2.0M174 195.5h2.0M174 199.5h2.0M174 200h2.0M174 200.5h2.0M174 209h2.0M174 216h2.0M174 219h2.0M174 220h2.0M174 220.5h2.0M174 227h2.0M174 233h2.0M174 235.5h2.0M174.5 127h2.0M174.5 136.5h2.0M174.5 142h2.0M174.5 143h2.0M174.5 143.5h2.0M174.5 148h2.0M174.5 148.5h2.0M174.5 152.5h2.0M174.5 154.5h2.0M174.5 159.5h2.0M174.5 164h2.0M174.5 168h2.0M174.5 171.5h2.0M174.5 178h2.0M174.5 178.5h2.0M174.5 182h2.0M174.5 186h2.0M174.5 193h2.0M174.5 194.5h2.0M174.5 195.5h2.0M174.5 196.5h2.0M174.5 208.5h2.0M174.5 213h2.0M174.5 214.5h2.0M174.5 216.5h2.0M174.5 236h2.0M174.5 237.5h2.0M174.5 240.5h2.0M174.5 241.5h2.0M175 132h2.0M175 134h2.0M175 138h2.0M175 138.5h2.0M175 139.5h2.0M175 143.5h2.0M175 144h2.0M175 144.5h2.0M175 147h2.0M175 157h2.0M175 167h2.0M175 172.5h2.0M175 173h2.0M175 173.5h2.0M175 181h2.0M175 184h2.0M175 184.5h2.0M175 192h2.0M175 196.5h2.0M175 203h2.0M175 211h2.0M175 224.5h2.0M175 233.5h2.0M175 238.5h2.0M175 240h2.0M175.5 133h2.0M175.5 137.5h2.0M175.5 143.5h2.0M175.5 150.5h2.0M175.5 160h2.0M175.5 160.5h2.0M175.5 164.5h2.0M175.5 166h2.0M175.5 168h2.0M175.5 169h2.0M175.5 170h2.0M175.5 170.5h2.0M175.5 175h2.0M175.5 190.5h2.0M175.5 193h2.0M175.5 200.5h2.0M175.5 203h2.0M175.5 214h2.0M175.5 217.5h2.0M175.5 224h2.0M175.5 226h2.0M175.5 228h2.0M175.5 230.5h2.0M175.5 232.5h2.0M175.5 240h2.0M175.5 241.5h2.0M176 110h2.0M176 118h2.0M176 136h2.0M176 136.5h2.0M176 137.5h2.0M176 143h2.0M176 145h2.0M176 146h2.0M176 150h2.0M176 154.5h2.0M176 160.5h2.0M176 164h2.0M176 165.5h2.0M176 167.5h2.0M176 172.5h2.0M176 175.5h2.0M176 181.5h2.0M176 187h2.0M176 193.5h2.0M176 195.5h2.0M176 196h2.0M176 196.5h2.0M176 204h2.0M176 210h2.0M176 212.5h2.0M176 213.5h2.0M176 223h2.0M176 224h2.0M176 241.5h2.0M176.5 115h2.0M176.5 128.5h2.0M176.5 135.5h2.0M176.5 136h2.0M176.5 148h2.0M176.5 156.5h2.0M176.5 158h2.0M176.5 159.5h2.0M176.5 160.5h2.0M176.5 161h2.0M176.5 162.5h2.0M176.5 164.5h2.0M176.5 166.5h2.0M176.5 168.5h2.0M176.5 171h2.0M176.5 175.5h2.0M176.5 176h2.0M176.5 178.5h2.0M176.5 181h2.0M176.5 182h2.0M176.5 203.5h2.0M176.5 206h2.0M176.5 207.5h2.0M176.5 208.5h2.0M176.5 213.5h2.0M176.5 216h2.0M176.5 227.5h2.0M176.5 235.5h2.0M176.5 236h2.0M176.5 241.5h2.0M177 127h2.0M177 127.5h2.0M177 136.5h2.0M177 141.5h2.0M177 142.5h2.0M177 152h2.0M177 156.5h2.0M177 168h2.0M177 169h2.0M177 171h2.0M177 181h2.0M177 193.5h2.0M177 200h2.0M177 200.5h2.0M177 202h2.0M177 203h2.0M177 213.5h2.0M177 214h2.0M177 214.5h2.0M177 218h2.0M177 219h2.0M177 220.5h2.0M177 227h2.0M177 239.5h2.0M177 241.5h2.0M177.5 135h2.0M177.5 137h2.0M177.5 138.5h2.0M177.5 139h2.0M177.5 151h2.0M177.5 158.5h2.0M177.5 160.5h2.0M177.5 165h2.0M177.5 167h2.0M177.5 172h2.0M177.5 176.5h2.0M177.5 177.5h2.0M177.5 187h2.0M177.5 187.5h2.0M177.5 191.5h2.0M177.5 195.5h2.0M177.5 206h2.0M177.5 211h2.0M177.5 226h2.0M177.5 227h2.0M177.5 227.5h2.0M177.5 230h2.0M177.5 241.5h2.0M178 131h2.0M178 140.5h2.0M178 143h2.0M178 147h2.0M178 148.5h2.0M178 162h2.0M178 167h2.0M178 168h2.0M178 170h2.0M178 171.5h2.0M178 178.5h2.0M178 185h2.0M178 193.5h2.0M178 194.5h2.0M178 200.5h2.0M178 203.5h2.0M178 205.5h2.0M178 207h2.0M178 210h2.0M178 227.5h2.0M178.5 127h2.0M178.5 135h2.0M178.5 136h2.0M178.5 142.5h2.0M178.5 150.5h2.0M178.5 153h2.0M178.5 155.5h2.0M178.5 157.5h2.0M178.5 159h2.0M178.5 162h2.0M178.5 167h2.0M178.5 173.5h2.0M178.5 175h2.0M178.5 181h2.0M178.5 191h2.0M178.5 203h2.0M178.5 216.5h2.0M178.5 225h2.0M178.5 234h2.0M178.5 238h2.0M179 116h2.0M179 117.5h2.0M179 133.5h2.0M179 134.5h2.0M179 149.5h2.0M179 155h2.0M179 155.5h2.0M179 165.5h2.0M179 170h2.0M179 177h2.0M179 191.5h2.0M179 197h2.0M179 207.5h2.0M179 213.5h2.0M179 224h2.0M179 235.5h2.0M179.5 129.5h2.0M179.5 134.5h2.0M179.5 146.5h2.0M179.5 149.5h2.0M179.5 155.5h2.0M179.5 156.5h2.0M179.5 157h2.0M179.5 158.5h2.0M179.5 161.5h2.0M179.5 163h2.0M179.5 188h2.0M179.5 200h2.0M179.5 202h2.0M179.5 211h2.0M179.5 218.5h2.0M179.5 222h2.0M179.5 224.5h2.0M179.5 235h2.0M180 117.5h2.0M180 132.5h2.0M180 136h2.0M180 150h2.0M180 154.5h2.0M180 157h2.0M180 159h2.0M180 159.5h2.0M180 161.5h2.0M180 174h2.0M180 175.5h2.0M180 176h2.0M180 185.5h2.0M180 194.5h2.0M180 199h2.0M180 203.5h2.0M180 228.5h2.0M180 234h2.0M180.5 118.5h2.0M180.5 139.5h2.0M180.5 148.5h2.0M180.5 151h2.0M180.5 152h2.0M180.5 157.5h2.0M180.5 158h2.0M180.5 161.5h2.0M180.5 166h2.0M180.5 180.5h2.0M180.5 186.5h2.0M180.5 190h2.0M180.5 190.5h2.0M180.5 192.5h2.0M180.5 216h2.0M180.5 220h2.0M180.5 220.5h2.0M180.5 233h2.0M180.5 236h2.0M180.5 237h2.0M181 124.5h2.0M181 135.5h2.0M181 139h2.0M181 142h2.0M181 147h2.0M181 149.5h2.0M181 150.5h2.0M181 168h2.0M181 183h2.0M181 184.5h2.0M181 208.5h2.0M181 218h2.0M181 225h2.0M181 226h2.0M181 232.5h2.0M181.5 133h2.0M181.5 164h2.0M181.5 165.5h2.0M181.5 167.5h2.0M181.5 177h2.0M181.5 181h2.0M181.5 181.5h2.0M181.5 182.5h2.0M181.5 187.5h2.0M181.5 190h2.0M181.5 192h2.0M182 135.5h2.0M182 151.5h2.0M182 158.5h2.0M182 165.5h2.0M182 184h2.0M182 192.5h2.0M182 229.5h2.0M182.5 144h2.0M182.5 150.5h2.0M182.5 154.5h2.0M182.5 161h2.0M182.5 171.5h2.0M182.5 173h2.0M182.5 192h2.0M182.5 201h2.0M182.5 211.5h2.0M182.5 233h2.0M183 123h2.0M183 143.5h2.0M183 146h2.0M183 149.5h2.0M183 150.5h2.0M183 155.5h2.0M183 157h2.0M183 178.5h2.0M183 180.5h2.0M183 199h2.0M183 204h2.0M183 224.5h2.0M183 233.5h2.0M183.5 108.5h2.0M183.5 118.5h2.0M183.5 125.5h2.0M183.5 126h2.0M183.5 135.5h2.0M183.5 136.5h2.0M183.5 137.5h2.0M183.5 141.5h2.0M183.5 147h2.0M183.5 168h2.0M183.5 189h2.0M183.5 216.5h2.0M183.5 219h2.0M183.5 229.5h2.0M183.5 230.5h2.0M184 142h2.0M184 144.5h2.0M184 148h2.0M184 151.5h2.0M184 153h2.0M184 158.5h2.0M184 160h2.0M184 170.5h2.0M184 180h2.0M184 194.5h2.0M184 200h2.0M184 209.5h2.0M184 215.5h2.0M184.5 89.5h2.0M184.5 136.5h2.0M184.5 139.5h2.0M184.5 143.5h2.0M184.5 144h2.0M184.5 145h2.0M184.5 162h2.0M184.5 166h2.0M184.5 175h2.0M184.5 179.5h2.0M184.5 193.5h2.0M184.5 220h2.0M184.5 228.5h2.0M184.5 241.5h2.0M185 131h2.0M185 143h2.0M185 161h2.0M185 166h2.0M185 168.5h2.0M185 175.5h2.0M185 199.5h2.0M185 216.5h2.0M185 217h2.0M185 225.5h2.0M185 236h2.0M185 241.5h2.0M185.5 102.5h2.0M185.5 128h2.0M185.5 135h2.0M185.5 138h2.0M185.5 150h2.0M185.5 154.5h2.0M185.5 156.5h2.0M185.5 164.5h2.0M185.5 181.5h2.0M185.5 220.5h2.0M185.5 236h2.0M186 102.5h2.0M186 133.5h2.0M186 134.5h2.0M186 148.5h2.0M186 211.5h2.0M186.5 130h2.0M186.5 134h2.0M186.5 142h2.0M186.5 148h2.0M186.5 150.5h2.0M186.5 158h2.0M186.5 158.5h2.0M186.5 168h2.0M186.5 172.5h2.0M186.5 175h2.0M186.5 183h2.0M186.5 192.5h2.0M186.5 206.5h2.0M186.5 222h2.0M186.5 228h2.0M186.5 233h2.0M187 133h2.0M187 139.5h2.0M187 142.5h2.0M187 154.5h2.0M187 163.5h2.0M187 170h2.0M187 172.5h2.0M187 199.5h2.0M187 211h2.0M187.5 128.5h2.0M187.5 133h2.0M187.5 150.5h2.0M187.5 153.5h2.0M187.5 160.5h2.0M187.5 181.5h2.0M187.5 204h2.0M187.5 229h2.0M188 127.5h2.0M188 161h2.0M188 171h2.0M188 180h2.0M188 199h2.0M188 218h2.0M188 230h2.0M188.5 136h2.0M188.5 147.5h2.0M188.5 149h2.0M188.5 161h2.0M188.5 229.5h2.0M189 113.5h2.0M189 118h2.0M189 136h2.0M189 153.5h2.0M189 163h2.0M189 173h2.0M189 196h2.0M189 216.5h2.0M189.5 145h2.0M189.5 179.5h2.0M189.5 199h2.0M190 149.5h2.0M190 157.5h2.0M190 172.5h2.0M190.5 150.5h2.0M190.5 155h2.0M190.5 217h2.0M190.5 241.5h2.0M191 139.5h2.0M191 156.5h2.0M191 226h2.0M191.5 125h2.0M191.5 140h2.0M191.5 163.5h2.0M191.5 186h2.0M191.5 200h2.0M192 136.5h2.0M192 152.5h2.0M192 165h2.0M192 219.5h2.0M192 228.5h2.0M192.5 127h2.0M192.5 144h2.0M192.5 166h2.0M192.5 210h2.0M192.5 234.5h2.0M193 152h2.0M193.5 157.5h2.0M193.5 199.5h2.0M193.5 221h2.0M194 121.5h2.0M194 125.5h2.0M194 159.5h2.0M194.5 157.5h2.0M194.5 162h2.0M194.5 169.5h2.0M194.5 238h2.0M195 138h2.0M195 156.5h2.0M195 227.5h2.0M195.5 235h2.0M196 157h2.0M197 128.5h2.0M197.5 129h2.0M197.5 157.5h2.0M198 139h2.0M198.5 149h2.0M199.5 126.5h2.0M199.5 137.5h2.0M200 103.5h2.0M200.5 151.5h2.0M201 154.5h2.0M202 109h2.0M203 113h2.0M203 138h2.0M203.5 116h2.0M203.5 122h2.0M203.5 126h2.0M204 114.5h2.0M204 133.5h2.0M204 144.5h2.0M204.5 102.5h2.0M204.5 142h2.0M205 144.5h2.0M205 146h2.0M205.5 111.5h2.0M205.5 114h2.0M205.5 130h2.0M205.5 141.5h2.0M206 113.5h2.0M206 137.5h2.0M206 139.5h2.0M206.5 106.5h2.0M206.5 115.5h2.0M206.5 139h2.0M207 90h2.0M207 104h2.0M207 109.5h2.0M207 119.5h2.0M207 129.5h2.0M207.5 96.5h2.0M207.5 110h2.0M207.5 124.5h2.0M207.5 139h2.0M207.5 142h2.0M208 110.5h2.0M208 128.5h2.0M208 131h2.0M208 138h2.0M208 177h2.0M208.5 138.5h2.0M209 114.5h2.0M209 129.5h2.0M209 131h2.0M209 167h2.0M209.5 108.5h2.0M209.5 114h2.0M209.5 122h2.0M209.5 133.5h2.0M210 117.5h2.0M210 128h2.0M210 142.5h2.0M210.5 96.5h2.0M210.5 118h2.0M210.5 142.5h2.0M210.5 156.5h2.0M211 106h2.0M211 110.5h2.0M211 132.5h2.0M211 148.5h2.0M212 122h2.0M212 128h2.0M212 130h2.0M212 136.5h2.0M212 145.5h2.0M212.5 113h2.0M212.5 114.5h2.0M212.5 124.5h2.0M212.5 129.5h2.0M212.5 135.5h2.0M212.5 136.5h2.0M212.5 139h2.0M213 126.5h2.0M213.5 99.5h2.0M213.5 107h2.0M213.5 115h2.0M213.5 116.5h2.0M213.5 132h2.0M214 101.5h2.0M214 109.5h2.0M214 112h2.0M214 117.5h2.0M214 125h2.0M214 152h2.0M214.5 96.5h2.0M214.5 97h2.0M214.5 112h2.0M214.5 116h2.0M214.5 120h2.0M214.5 130h2.0M214.5 145.5h2.0M215 111h2.0M215 117h2.0M215 123.5h2.0M215 137h2.0M215.5 107h2.0M215.5 122h2.0M215.5 134.5h2.0M216 105.5h2.0M216 107h2.0M216 114h2.0M216 118.5h2.0M216 128h2.0M216 136.5h2.0M216 137h2.0M216 138.5h2.0M216 142.5h2.0M216 144h2.0M216.5 121.5h2.0M216.5 123.5h2.0M217 99.5h2.0M217 102h2.0M217 103.5h2.0M217 109h2.0M217 114h2.0M217.5 72h2.0M217.5 105.5h2.0M217.5 117.5h2.0M217.5 129.5h2.0M217.5 132h2.0M218 95h2.0M218 102.5h2.0M218 116.5h2.0M218 122h2.0M218.5 104.5h2.0M218.5 118h2.0M218.5 121h2.0M218.5 127.5h2.0M218.5 129h2.0M219 124.5h2.0M219 127.5h2.0M219 129.5h2.0M219 132h2.0M219.5 113h2.0M219.5 130h2.0M219.5 134.5h2.0M220 106h2.0M220 108.5h2.0M220 121h2.0M220.5 92h2.0M220.5 102.5h2.0M220.5 114h2.0M220.5 121h2.0M220.5 122.5h2.0M221 98.5h2.0M221 100h2.0M221 102.5h2.0M221 128h2.0M221.5 100h2.0M221.5 100.5h2.0M221.5 105h2.0M221.5 117.5h2.0M221.5 120.5h2.0M221.5 122h2.0M221.5 126h2.0M222 112h2.0M222 129h2.0M222.5 92.5h2.0M222.5 105h2.0M222.5 112.5h2.0M222.5 120.5h2.0M222.5 121.5h2.0M222.5 128.5h2.0M222.5 157.5h2.0M223 89.5h2.0M223 105.5h2.0M223 108.5h2.0M223 115.5h2.0M223.5 96.5h2.0M223.5 110h2.0M223.5 110.5h2.0M223.5 121.5h2.0M223.5 123.5h2.0M224 105h2.0M224 107.5h2.0M224 111.5h2.0M224 113.5h2.0M224 114.5h2.0M224 119.5h2.0M224 126h2.0M224 138.5h2.0M224.5 94.5h2.0M224.5 101h2.0M224.5 107.5h2.0M224.5 109h2.0M224.5 112.5h2.0M224.5 116h2.0M224.5 117h2.0M224.5 123h2.0M224.5 124h2.0M225 102.5h2.0M225 111.5h2.0M225 118.5h2.0M225 120h2.0M225 123h2.0M225 124.5h2.0M225 129h2.0M225 132.5h2.0M225 134.5h2.0M225 142.5h2.0M225.5 86h2.0M225.5 97h2.0M225.5 101.5h2.0M225.5 102.5h2.0M225.5 109.5h2.0M225.5 114h2.0M225.5 121h2.0M225.5 129h2.0M226 99.5h2.0M226 100h2.0M226 102h2.0M226 108.5h2.0M226 114h2.0M226 117h2.0M226 118.5h2.0M226 129.5h2.0M226 140h2.0M226.5 100.5h2.0M226.5 104.5h2.0M226.5 111h2.0M226.5 115.5h2.0M226.5 116.5h2.0M226.5 121h2.0M226.5 123h2.0M226.5 125h2.0M227 99h2.0M227 108h2.0M227 112h2.0M227 120h2.0M227 129h2.0M227.5 81.5h2.0M227.5 96.5h2.0M227.5 106h2.0M227.5 108h2.0M227.5 113h2.0M227.5 113.5h2.0M227.5 114h2.0M228 95.5h2.0M228 109.5h2.0M228 117h2.0M228 117.5h2.0M228 124.5h2.0M228 126.5h2.0M228 127h2.0M228.5 100.5h2.0M228.5 107.5h2.0M228.5 110h2.0M228.5 110.5h2.0M228.5 114h2.0M228.5 114.5h2.0M228.5 115.5h2.0M228.5 118h2.0M228.5 123h2.0M229 90h2.0M229 95.5h2.0M229 115h2.0M229 122.5h2.0M229 131h2.0M229 132.5h2.0M229.5 101.5h2.0M229.5 102.5h2.0M229.5 112h2.0M229.5 116h2.0M229.5 117.5h2.0M229.5 131h2.0M229.5 132.5h2.0M229.5 134.5h2.0M230 110h2.0M230 118h2.0M230 121.5h2.0M230 126h2.0M230 126.5h2.0M230 132h2.0M230.5 102h2.0M230.5 105h2.0M230.5 109h2.0M230.5 110.5h2.0M230.5 112h2.0M230.5 113h2.0M230.5 114h2.0M230.5 124h2.0M230.5 131.5h2.0M230.5 146h2.0M231 95.5h2.0M231 96.5h2.0M231 107.5h2.0M231 109h2.0M231 112.5h2.0M231 114h2.0M231 115h2.0M231 118h2.0M231 122.5h2.0M231 125.5h2.0M231 130h2.0M231 137h2.0M231 137.5h2.0M231.5 89h2.0M231.5 108h2.0M231.5 109h2.0M231.5 109.5h2.0M231.5 121h2.0M231.5 124.5h2.0M232 97.5h2.0M232 100.5h2.0M232 105h2.0M232 116h2.0M232 118h2.0M232 120h2.0M232 124h2.0M232 132h2.0M232.5 97h2.0M232.5 110h2.0M232.5 119h2.0M232.5 121.5h2.0M233 89.5h2.0M233 95h2.0M233 104.5h2.0M233 114.5h2.0M233 116.5h2.0M233 123h2.0M233 125h2.0M233 140h2.0M233.5 99h2.0M233.5 106h2.0M233.5 109h2.0M233.5 110h2.0M233.5 111.5h2.0M233.5 116.5h2.0M233.5 119h2.0M233.5 119.5h2.0M233.5 121.5h2.0M234 94.5h2.0M234 103h2.0M234 104h2.0M234 107.5h2.0M234 108h2.0M234 112h2.0M234 112.5h2.0M234 113h2.0M234 118h2.0M234 119h2.0M234 120h2.0M234 121.5h2.0M234 122h2.0M234 125h2.0M234.5 103.5h2.0M234.5 105.5h2.0M234.5 111h2.0M234.5 113h2.0M234.5 115h2.0M234.5 124h2.0M234.5 133h2.0M235 101.5h2.0M235 109h2.0M235 110.5h2.0M235 112.5h2.0M235 116h2.0M235 120h2.0M235 124h2.0M235 142.5h2.0M235.5 109h2.0M235.5 110h2.0M235.5 116h2.0M235.5 117h2.0M235.5 118h2.0M235.5 118.5h2.0M235.5 126h2.0M236 81.5h2.0M236 102h2.0M236 103h2.0M236 115h2.0M236 116h2.0M236.5 96.5h2.0M236.5 100h2.0M236.5 108h2.0M236.5 111h2.0M236.5 117h2.0M236.5 117.5h2.0M237 107.5h2.0M237 110h2.0M237 117h2.0M237 124h2.0M237 134.5h2.0M237 137h2.0M237.5 107h2.0M237.5 112.5h2.0M237.5 126.5h2.0M237.5 127h2.0M238 103.5h2.0M238 104.5h2.0M238 111h2.0M238 123h2.0M238 123.5h2.0M238.5 95h2.0M238.5 98h2.0M238.5 101.5h2.0M238.5 102.5h2.0M238.5 112.5h2.0M238.5 113h2.0M238.5 116.5h2.0M239 92.5h2.0M239 110.5h2.0M239 111.5h2.0M239 113h2.0M239 116.5h2.0M239 124.5h2.0M239 131h2.0M239.5 87.5h2.0M239.5 91.5h2.0M239.5 109h2.0M239.5 111.5h2.0M239.5 117.5h2.0M239.5 121.5h2.0M239.5 128h2.0M240 87h2.0M240 99.5h2.0M240 105h2.0M240 110.5h2.0M240 115.5h2.0M240 119.5h2.0M240 129.5h2.0M240.5 98h2.0M240.5 112.5h2.0M240.5 116h2.0M240.5 117.5h2.0M240.5 119.5h2.0M240.5 136h2.0M241 88h2.0M241 100.5h2.0M241 110.5h2.0M241 129.5h2.0M241.5 94.5h2.0M241.5 110.5h2.0M241.5 113.5h2.0M241.5 114h2.0M241.5 116h2.0M241.5 120.5h2.0M241.5 132h2.0M242 121.5h2.0M242 126h2.0M242.5 101h2.0M242.5 102.5h2.0M242.5 104h2.0M242.5 107h2.0M242.5 108.5h2.0M242.5 114.5h2.0M242.5 115h2.0M242.5 116h2.0M243 102h2.0M243 107.5h2.0M243 111.5h2.0M243.5 89.5h2.0M243.5 109h2.0M243.5 113.5h2.0M243.5 130h2.0M244 108h2.0M244 110.5h2.0M244 117.5h2.0M244.5 103.5h2.0M244.5 107h2.0M245 105h2.0M245 111.5h2.0M245 113h2.0M245 124h2.0M245.5 92.5h2.0M245.5 103.5h2.0M245.5 107.5h2.0M245.5 119.5h2.0M245.5 122h2.0M246 107h2.0M246 121.5h2.0M246.5 123h2.0M247 116h2.0M247.5 109.5h2.0M247.5 120.5h2.0M248 99h2.0M248 122.5h2.0M248 136.5h2.0M248.5 111h2.0M249 106h2.0M249 114h2.0M249 127.5h2.0M249.5 113.5h2.0M250 94.5h2.0M250.5 89.5h2.0M250.5 91.5h2.0M250.5 113h2.0M250.5 113.5h2.0M250.5 115h2.0M250.5 116.5h2.0M250.5 120.5h2.0M250.5 132.5h2.0M251 108h2.0M251.5 108.5h2.0M251.5 111.5h2.0M252 102h2.0M252 115h2.0M252.5 127h2.0M253 112h2.0M253.5 118.5h2.0M254 103h2.0M254 110h2.0M254.5 101.5h2.0M254.5 122.5h2.0M255 127.5h2.0M255.5 98h2.0M259 117h2.0M259 129.5h2.0M263.5 117.5h2.0M264.5 118h2.0M271.5 96h2.0M273 99h2.0M281 105.5h2.0" stroke="#de0822" stroke-width="2.0" fill="none"/>
<path d="M308 197.5h2.0M308 223.5h2.0M308 238.5h2.0M309 184.5h2.0M310.5 204.5h2.0M311 196h2.0M311 197.5h2.0M311 210h2.0M311.5 217h2.0M312.5 210h2.0M313.5 205h2.0M313.5 208.5h2.0M315 198h2.0M315 200.5h2.0M315 235.5h2.0M316 201.5h2.0M316.5 175.5h2.0M318.5 206h2.0M319.5 198h2.0M319.5 227.5h2.0M319.5 233h2.0M320 225.5h2.0M320.5 204.5h2.0M321 205h2.0M321.5 206h2.0M322 195.5h2.0M322 206.5h2.0M322 210h2.0M322.5 203h2.0M322.5 209h2.0M323 197h2.0M323 201h2.0M323 202h2.0M323 208h2.0M323 212h2.0M323.5 213h2.0M323.5 214.5h2.0M324 192h2.0M324 194.5h2.0M324 204h2.0M324 205.5h2.0M324 213h2.0M324 214.5h2.0M324.5 202h2.0M324.5 209.5h2.0M325.5 185.5h2.0M325.5 212.5h2.0M325.5 219h2.0M326 176h2.0M326 206h2.0M326.5 195.5h2.0M326.5 196h2.0M326.5 208h2.0M327 179.5h2.0M327 204h2.0M327 206h2.0M327.5 192.5h2.0M327.5 194h2.0M327.5 198.5h2.0M327.5 203.5h2.0M327.5 211h2.0M327.5 215.5h2.0M327.5 218.5h2.0M328 198h2.0M328 202h2.0M328 205.5h2.0M328 212.5h2.0M328 220.5h2.0M328.5 192.5h2.0M328.5 202h2.0M329 206h2.0M329.5 189h2.0M329.5 190.5h2.0M329.5 198.5h2.0M330 202h2.0M330 203h2.0M330 209.5h2.0M330 210.5h2.0M330 218h2.0M330 219.5h2.0M330.5 205h2.0M330.5 205.5h2.0M330.5 208.5h2.0M330.5 215.5h2.0M331 196h2.0M331 204.5h2.0M331 210.5h2.0M331 231h2.0M331.5 187h2.0M331.5 201.5h2.0M331.5 237.5h2.0M332 167.5h2.0M332 202h2.0M332 214h2.0M332 231.5h2.0M332.5 197.5h2.0M332.5 209h2.0M332.5 213h2.0M333 173h2.0M333 194h2.0M333 201.5h2.0M333 202.5h2.0M333 215.5h2.0M333 222.5h2.0M333.5 189h2.0M333.5 194.5h2.0M333.5 209.5h2.0M333.5 217h2.0M334 193h2.0M334 198.5h2.0M334 212h2.0M334 217h2.0M334.5 192h2.0M334.5 196h2.0M334.5 201h2.0M334.5 206.5h2.0M335 196h2.0M335 199.5h2.0M335 213.5h2.0M335.5 193.5h2.0M335.5 202h2.0M335.5 202.5h2.0M335.5 205h2.0M335.5 209h2.0M335.5 215h2.0M336 200h2.0M336 204.5h2.0M336 208.5h2.0M336 210.5h2.0M336 212h2.0M336 215h2.0M336.5 185h2.0M336.5 195.5h2.0M336.5 196.5h2.0M336.5 200.5h2.0M336.5 201h2.0M336.5 201.5h2.0M336.5 208h2.0M336.5 219h2.0M336.5 224h2.0M336.5 229h2.0M337 199h2.0M337 200.5h2.0M337 204h2.0M337 211h2.0M337 214.5h2.0M337 217h2.0M337.5 199h2.0M337.5 201h2.0M337.5 201.5h2.0M337.5 206.5h2.0M337.5 207h2.0M337.5 211.5h2.0M337.5 213.5h2.0M338 176h2.0M338 202.5h2.0M338 203.5h2.0M338 214h2.0M338 241.5h2.0M338.5 186.5h2.0M338.5 195h2.0M338.5 202.5h2.0M338.5 207.5h2.0M339 196h2.0M339 200.5h2.0M339 203.5h2.0M339 208.5h2.0M339 213.5h2.0M339.5 196h2.0M339.5 196.5h2.0M339.5 199.5h2.0M339.5 201h2.0M339.5 204.5h2.0M339.5 209.5h2.0M339.5 211.5h2.0M339.5 221h2.0M340 169.5h2.0M340 183.5h2.0M340 193.5h2.0M340 199h2.0M340 201.5h2.0M340 204h2.0M340 206.5h2.0M340 208h2.0M340 211.5h2.0M340.5 191h2.0M340.5 197.5h2.0M340.5 200h2.0M340.5 202h2.0M340.5 204h2.0M340.5 205h2.0M340.5 206.5h2.0M340.5 207h2.0M340.5 209h2.0M341 190.5h2.0M341 194.5h2.0M341 203h2.0M341 203.5h2.0M341 204h2.0M341 211h2.0M341 216h2.0M341 219h2.0M341.5 190.5h2.0M341.5 192.5h2.0M341.5 193.5h2.0M341.5 195h2.0M341.5 205h2.0M341.5 206.5h2.0M342 203.5h2.0M342 205.5h2.0M342 208.5h2.0M342.5 183.5h2.0M342.5 184h2.0M342.5 187.5h2.0M342.5 197.5h2.0M342.5 207.5h2.0M342.5 208.5h2.0M342.5 221.5h2.0M343 190.5h2.0M343 203.5h2.0M343 214.5h2.0M343.5 186h2.0M343.5 191.5h2.0M343.5 201.5h2.0M343.5 209.5h2.0M343.5 213h2.0M343.5 220h2.0M344 200.5h2.0M344 214h2.0M344.5 185h2.0M344.5 190.5h2.0M344.5 200.5h2.0M344.5 201h2.0M344.5 202h2.0M344.5 204h2.0M344.5 205.5h2.0M344.5 211.5h2.0M344.5 213.5h2.0M345 195.5h2.0M345 199.5h2.0M345 203h2.0M345 206h2.0M345 206.5h2.0M345 207.5h2.0M345.5 182.5h2.0M345.5 201.5h2.0M345.5 217.5h2.0M345.5 224.5h2.0M346 177h2.0M346 199.5h2.0M346 202h2.0M346 205.5h2.0M346 207.5h2.0M346 209h2.0M346 214h2.0M346 237.5h2.0M346.5 193.5h2.0M346.5 194h2.0M346.5 203.5h2.0M346.5 204h2.0M346.5 206h2.0M346.5 207.5h2.0M346.5 213h2.0M346.5 215.5h2.0M346.5 241.5h2.0M347 183h2.0M347 205h2.0M347 206h2.0M347 211.5h2.0M347 217.5h2.0M347 218h2.0M347.5 200.5h2.0M347.5 202h2.0M347.5 205.5h2.0M347.5 212.5h2.0M347.5 213h2.0M347.5 214.5h2.0M347.5 215h2.0M347.5 227.5h2.0M348 187h2.0M348 190h2.0M348 190.5h2.0M348 193.5h2.0M348 195.5h2.0M348 203h2.0M348 210.5h2.0M348 222.5h2.0M348.5 185.5h2.0M348.5 189.5h2.0M348.5 190.5h2.0M348.5 194.5h2.0M348.5 199.5h2.0M348.5 201h2.0M348.5 202.5h2.0M348.5 203.5h2.0M348.5 206h2.0M348.5 207.5h2.0M348.5 210.5h2.0M348.5 213h2.0M348.5 222h2.0M349 166.5h2.0M349 188h2.0M349 192h2.0M349 197h2.0M349 201h2.0M349 204.5h2.0M349 210h2.0M349 212h2.0M349 213.5h2.0M349 217h2.0M349.5 192h2.0M349.5 205h2.0M349.5 209.5h2.0M349.5 221h2.0M350 171.5h2.0M350 183.5h2.0M350 187h2.0M350 202h2.0M350 204.5h2.0M350 205h2.0M350 205.5h2.0M350 215h2.0M350 216.5h2.0M350 217h2.0M350 219.5h2.0M350 223h2.0M350 226h2.0M350.5 190.5h2.0M350.5 196h2.0M350.5 197h2.0M350.5 199h2.0M350.5 202.5h2.0M350.5 204.5h2.0M350.5 207h2.0M350.5 210.5h2.0M350.5 211h2.0M350.5 231h2.0M351 181.5h2.0M351 187.5h2.0M351 194.5h2.0M351 199h2.0M351 200.5h2.0M351 201h2.0M351 202h2.0M351 203.5h2.0M351 208h2.0M351 222.5h2.0M351.5 189h2.0M351.5 195.5h2.0M351.5 199.5h2.0M351.5 200.5h2.0M351.5 208.5h2.0M351.5 209h2.0M351.5 223h2.0M352 191.5h2.0M352 198.5h2.0M352 202h2.0M352 203.5h2.0M352 211.5h2.0M352 221h2.0M352.5 187.5h2.0M352.5 194h2.0M352.5 197.5h2.0M352.5 202.5h2.0M352.5 208.5h2.0M352.5 212.5h2.0M353 188.5h2.0M353 198h2.0M353 199h2.0M353 206h2.0M353 209h2.0M353 209.5h2.0M353 214h2.0M353 217h2.0M353.5 130.5h2.0M353.5 185.5h2.0M353.5 186h2.0M353.5 198h2.0M353.5 202.5h2.0M353.5 204.5h2.0M353.5 207.5h2.0M354 196h2.0M354 199h2.0M354 208h2.0M354 210h2.0M354 214.5h2.0M354 215.5h2.0M354 216.5h2.0M354.5 203.5h2.0M354.5 207h2.0M354.5 209h2.0M354.5 212.5h2.0M354.5 214h2.0M354.5 217h2.0M355 186h2.0M355 199h2.0M355 206h2.0M355 217.5h2.0M355.5 198h2.0M355.5 201.5h2.0M355.5 204h2.0M355.5 204.5h2.0M355.5 241h2.0M356 163h2.0M356 177.5h2.0M356 201.5h2.0M356 202.5h2.0M356 208h2.0M356 217h2.0M356 219.5h2.0M356 220.5h2.0M356.5 187.5h2.0M356.5 199h2.0M356.5 203h2.0M356.5 205h2.0M356.5 207.5h2.0M356.5 209h2.0M356.5 211h2.0M356.5 217h2.0M357 136.5h2.0M357 161.5h2.0M357 177.5h2.0M357 190.5h2.0M357 212.5h2.0M357 230.5h2.0M357.5 129h2.0M357.5 200.5h2.0M357.5 203.5h2.0M357.5 204h2.0M357.5 204.5h2.0M357.5 206.5h2.0M357.5 213h2.0M357.5 216.5h2.0M357.5 217.5h2.0M357.5 223h2.0M358 188.5h2.0M358 198h2.0M358 202.5h2.0M358 205.5h2.0M358 209.5h2.0M358.5 139.5h2.0M358.5 184.5h2.0M358.5 199h2.0M358.5 205h2.0M358.5 205.5h2.0M358.5 206.5h2.0M358.5 207.5h2.0M358.5 209h2.0M358.5 210h2.0M358.5 223.5h2.0M359 183h2.0M359 203h2.0M359 204.5h2.0M359 210h2.0M359 216h2.0M359 216.5h2.0M359.5 192.5h2.0M359.5 204.5h2.0M359.5 208.5h2.0M359.5 210h2.0M359.5 210.5h2.0M359.5 211.5h2.0M359.5 212h2.0M359.5 215.5h2.0M359.5 217.5h2.0M360 182h2.0M360 202h2.0M360 204.5h2.0M360 210.5h2.0M360 212h2.0M360 226h2.0M360.5 157.5h2.0M360.5 193h2.0M360.5 199.5h2.0M360.5 201h2.0M360.5 209h2.0M360.5 213.5h2.0M361 140h2.0M361 167h2.0M361 173h2.0M361 195h2.0M361 197.5h2.0M361 205h2.0M361 207.5h2.0M361 216h2.0M361.5 182.5h2.0M361.5 200.5h2.0M361.5 203.5h2.0M361.5 204h2.0M361.5 212.5h2.0M361.5 221h2.0M362 124h2.0M362 195.5h2.0M362 197h2.0M362 198.5h2.0M362 200.5h2.0M362.5 164.5h2.0M362.5 168h2.0M362.5 192h2.0M362.5 201.5h2.0M362.5 202.5h2.0M362.5 215h2.0M362.5 224.5h2.0M363 146h2.0M363 171.5h2.0M363 190.5h2.0M363 203h2.0M363 205.5h2.0M363 206h2.0M363 214h2.0M363.5 186h2.0M363.5 194.5h2.0M363.5 214.5h2.0M363.5 218.5h2.0M363.5 222h2.0M363.5 239h2.0M364 186.5h2.0M364 196h2.0M364 204h2.0M364 210.5h2.0M364 211h2.0M364.5 120.5h2.0M364.5 145h2.0M364.5 175.5h2.0M364.5 193.5h2.0M364.5 213.5h2.0M364.5 216h2.0M364.5 223.5h2.0M364.5 234.5h2.0M365 128h2.0M365 160.5h2.0M365 177.5h2.0M365 201.5h2.0M365 216h2.0M365.5 123h2.0M365.5 128.5h2.0M365.5 184h2.0M365.5 203.5h2.0M365.5 205h2.0M365.5 209h2.0M365.5 211.5h2.0M365.5 230h2.0M366 135.5h2.0M366 143.5h2.0M366 178h2.0M366 193.5h2.0M366 212.5h2.0M366 214h2.0M366 216h2.0M366.5 188h2.0M366.5 199h2.0M366.5 200.5h2.0M366.5 202.5h2.0M367 150.5h2.0M367 159.5h2.0M367 166h2.0M367 180.5h2.0M367 190h2.0M367 196h2.0M367 206h2.0M367 219h2.0M367.5 159h2.0M367.5 165.5h2.0M367.5 186h2.0M367.5 194.5h2.0M367.5 199h2.0M367.5 208h2.0M367.5 209h2.0M367.5 212.5h2.0M367.5 221.5h2.0M368 109.5h2.0M368 125.5h2.0M368 133h2.0M368 151.5h2.0M368 175h2.0M368 190h2.0M368 198h2.0M368 207.5h2.0M368 209.5h2.0M368 211.5h2.0M368 225h2.0M368.5 110.5h2.0M368.5 121.5h2.0M368.5 144.5h2.0M368.5 147h2.0M368.5 149h2.0M368.5 165h2.0M368.5 171.5h2.0M368.5 174.5h2.0M368.5 185h2.0M368.5 195h2.0M368.5 201.5h2.0M368.5 202.5h2.0M368.5 212h2.0M368.5 234.5h2.0M369 101.5h2.0M369 111h2.0M369 131.5h2.0M369 154.5h2.0M369 169h2.0M369 172.5h2.0M369 173h2.0M369 175.5h2.0M369 178.5h2.0M369 186h2.0M369 189.5h2.0M369 191.5h2.0M369 195h2.0M369 199.5h2.0M369 207.5h2.0M369 211h2.0M369 216h2.0M369 223.5h2.0M369 229.5h2.0M369 240.5h2.0M369.5 129.5h2.0M369.5 130h2.0M369.5 155h2.0M369.5 168h2.0M369.5 190.5h2.0M369.5 195h2.0M369.5 203.5h2.0M369.5 204h2.0M369.5 205h2.0M369.5 207.5h2.0M369.5 214h2.0M369.5 216.5h2.0M369.5 223h2.0M369.5 232.5h2.0M369.5 236.5h2.0M370 114.5h2.0M370 130.5h2.0M370 136.5h2.0M370 148h2.0M370 159h2.0M370 173h2.0M370 174h2.0M370 185h2.0M370 188.5h2.0M370 192h2.0M370 194.5h2.0M370 196.5h2.0M370 201.5h2.0M370 203h2.0M370 208.5h2.0M370 211h2.0M370.5 145h2.0M370.5 150h2.0M370.5 152h2.0M370.5 166h2.0M370.5 174.5h2.0M370.5 184.5h2.0M370.5 185.5h2.0M370.5 188.5h2.0M370.5 194h2.0M370.5 195.5h2.0M370.5 204h2.0M370.5 220.5h2.0M371 135.5h2.0M371 141.5h2.0M371 146.5h2.0M371 150h2.0M371 162.5h2.0M371 163.5h2.0M371 176.5h2.0M371 177h2.0M371 183.5h2.0M371 184h2.0M371 192h2.0M371 196h2.0M371 199h2.0M371 202h2.0M371 206h2.0M371 208.5h2.0M371 209.5h2.0M371.5 103h2.0M371.5 127h2.0M371.5 128h2.0M371.5 130.5h2.0M371.5 150.5h2.0M371.5 159h2.0M371.5 162h2.0M371.5 169.5h2.0M371.5 173.5h2.0M371.5 180.5h2.0M371.5 189h2.0M371.5 194.5h2.0M371.5 197.5h2.0M371.5 201h2.0M371.5 208.5h2.0M371.5 209h2.0M371.5 214h2.0M371.5 214.5h2.0M371.5 227h2.0M371.5 231.5h2.0M372 126h2.0M372 126.5h2.0M372 145.5h2.0M372 147h2.0M372 152h2.0M372 168h2.0M372 178.5h2.0M372 179.5h2.0M372 193h2.0M372 207h2.0M372 209.5h2.0M372 210h2.0M372 213.5h2.0M372 214.5h2.0M372 215.5h2.0M372 230.5h2.0M372.5 132h2.0M372.5 137.5h2.0M372.5 143h2.0M372.5 159.5h2.0M372.5 161h2.0M372.5 170h2.0M372.5 173h2.0M372.5 175h2.0M372.5 179h2.0M372.5 186.5h2.0M372.5 196h2.0M372.5 202.5h2.0M372.5 207h2.0M372.5 209h2.0M372.5 213.5h2.0M372.5 236.5h2.0M373 118h2.0M373 118.5h2.0M373 122h2.0M373 138h2.0M373 146h2.0M373 147.5h2.0M373 151.5h2.0M373 154.5h2.0M373 163.5h2.0M373 172.5h2.0M373 178h2.0M373 195h2.0M373 208h2.0M373 208.5h2.0M373 210.5h2.0M373 212h2.0M373 217h2.0M373 220.5h2.0M373 228h2.0M373.5 107h2.0M373.5 130h2.0M373.5 132.5h2.0M373.5 136h2.0M373.5 166h2.0M373.5 177.5h2.0M373.5 184.5h2.0M373.5 186.5h2.0M373.5 187h2.0M373.5 188h2.0M373.5 189.5h2.0M373.5 190.5h2.0M373.5 208h2.0M373.5 214.5h2.0M373.5 218.5h2.0M373.5 225h2.0M373.5 227h2.0M373.5 235.5h2.0M373.5 239.5h2.0M373.5 241.5h2.0M374 118h2.0M374 134.5h2.0M374 141.5h2.0M374 148.5h2.0M374 150h2.0M374 150.5h2.0M374 151.5h2.0M374 165h2.0M374 172h2.0M374 174.5h2.0M374 183h2.0M374 185h2.0M374 187h2.0M374 191.5h2.0M374 195h2.0M374 196h2.0M374 198h2.0M374 198.5h2.0M374 212h2.0M374 215h2.0M374 227.5h2.0M374 230h2.0M374 236.5h2.0M374 241.5h2.0M374.5 102h2.0M374.5 117h2.0M374.5 124h2.0M374.5 139h2.0M374.5 149h2.0M374.5 153h2.0M374.5 155h2.0M374.5 155.5h2.0M374.5 160.5h2.0M374.5 161.5h2.0M374.5 169h2.0M374.5 170h2.0M374.5 172h2.0M374.5 178.5h2.0M374.5 184.5h2.0M374.5 190h2.0M374.5 190.5h2.0M374.5 193.5h2.0M374.5 196h2.0M374.5 199h2.0M374.5 205.5h2.0M374.5 208.5h2.0M374.5 210h2.0M374.5 221.5h2.0M374.5 226.5h2.0M375 113h2.0M375 125.5h2.0M375 135h2.0M375 145.5h2.0M375 158.5h2.0M375 172.5h2.0M375 174h2.0M375 175h2.0M375 191.5h2.0M375 194.5h2.0M375 195h2.0M375 197h2.0M375 200h2.0M375 200.5h2.0M375 201h2.0M375 206.5h2.0M375 211h2.0M375 214.5h2.0M375 215h2.0M375 219h2.0M375 223h2.0M375 226.5h2.0M375 232.5h2.0M375 235.5h2.0M375 241.5h2.0M375.5 109.5h2.0M375.5 113h2.0M375.5 118.5h2.0M375.5 124h2.0M375.5 129.5h2.0M375.5 131.5h2.0M375.5 140.5h2.0M375.5 142h2.0M375.5 150h2.0M375.5 151.5h2.0M375.5 154h2.0M375.5 156.5h2.0M375.5 161h2.0M375.5 168.5h2.0M375.5 171h2.0M375.5 172.5h2.0M375.5 176.5h2.0M375.5 187h2.0M375.5 192h2.0M375.5 196.5h2.0M375.5 201h2.0M375.5 201.5h2.0M375.5 202h2.0M375.5 205h2.0M375.5 205.5h2.0M375.5 206h2.0M375.5 208.5h2.0M375.5 213h2.0M375.5 214h2.0M375.5 217.5h2.0M375.5 220h2.0M375.5 221h2.0M375.5 225.5h2.0M375.5 233.5h2.0M375.5 239.5h2.0M376 119.5h2.0M376 122.5h2.0M376 124.5h2.0M376 135h2.0M376 148h2.0M376 153h2.0M376 157.5h2.0M376 158.5h2.0M376 167.5h2.0M376 169.5h2.0M376 176h2.0M376 181.5h2.0M376 185h2.0M376 185.5h2.0M376 189.5h2.0M376 190.5h2.0M376 200.5h2.0M376 203h2.0M376 203.5h2.0M376 210h2.0M376 223h2.0M376 234h2.0M376.5 103h2.0M376.5 118h2.0M376.5 119.5h2.0M376.5 128.5h2.0M376.5 136h2.0M376.5 136.5h2.0M376.5 139.5h2.0M376.5 140.5h2.0M376.5 142.5h2.0M376.5 144.5h2.0M376.5 149h2.0M376.5 151.5h2.0M376.5 164h2.0M376.5 170.5h2.0M376.5 183.5h2.0M376.5 193.5h2.0M376.5 194.5h2.0M376.5 201.5h2.0M376.5 202.5h2.0M376.5 210.5h2.0M376.5 211h2.0M376.5 219.5h2.0M376.5 224.5h2.0M376.5 233.5h2.0M376.5 238h2.0M377 125h2.0M377 125.5h2.0M377 133h2.0M377 135h2.0M377 138h2.0M377 140.5h2.0M377 141.5h2.0M377 148.5h2.0M377 155.5h2.0M377 162.5h2.0M377 166.5h2.0M377 172h2.0M377 175h2.0M377 177h2.0M377 178.5h2.0M377 179h2.0M377 188h2.0M377 188.5h2.0M377 189h2.0M377 190.5h2.0M377 191h2.0M377 192h2.0M377 192.5h2.0M377 194.5h2.0M377 201.5h2.0M377 203h2.0M377 206h2.0M377 207h2.0M377 209h2.0M377 212.5h2.0M377 213h2.0M377 214h2.0M377 234h2.0M377 241.5h2.0M377.5 126.5h2.0M377.5 128h2.0M377.5 132h2.0M377.5 143.5h2.0M377.5 144.5h2.0M377.5 149h2.0M377.5 150h2.0M377.5 173h2.0M377.5 176.5h2.0M377.5 178.5h2.0M377.5 179.5h2.0M377.5 180.5h2.0M377.5 182h2.0M377.5 183h2.0M377.5 183.5h2.0M377.5 186.5h2.0M377.5 189.5h2.0M377.5 192h2.0M377.5 201h2.0M377.5 207.5h2.0M377.5 211.5h2.0M377.5 213h2.0M377.5 216h2.0M377.5 218.5h2.0M377.5 219.5h2.0M377.5 223h2.0M377.5 232.5h2.0M377.5 233.5h2.0M378 115h2.0M378 127.5h2.0M378 140h2.0M378 143h2.0M378 150.5h2.0M378 153.5h2.0M378 154.5h2.0M378 172h2.0M378 177.5h2.0M378 181h2.0M378 188h2.0M378 188.5h2.0M378 189.5h2.0M378 190h2.0M378 192.5h2.0M378 194h2.0M378 196.5h2.0M378 202h2.0M378 208.5h2.0M378 215h2.0M378 217.5h2.0M378 222.5h2.0M378 225h2.0M378 225.5h2.0M378 226.5h2.0M378 231.5h2.0M378 241.5h2.0M378.5 115.5h2.0M378.5 121h2.0M378.5 133h2.0M378.5 141.5h2.0M378.5 142h2.0M378.5 143h2.0M378.5 144h2.0M378.5 148h2.0M378.5 148.5h2.0M378.5 149.5h2.0M378.5 154h2.0M378.5 157.5h2.0M378.5 162h2.0M378.5 162.5h2.0M378.5 165.5h2.0M378.5 167.5h2.0M378.5 170h2.0M378.5 170.5h2.0M378.5 171.5h2.0M378.5 178h2.0M378.5 180h2.0M378.5 181h2.0M378.5 184.5h2.0M378.5 190.5h2.0M378.5 200.5h2.0M378.5 201.5h2.0M378.5 202h2.0M378.5 203h2.0M378.5 207.5h2.0M378.5 209h2.0M378.5 218h2.0M378.5 220h2.0M378.5 221.5h2.0M378.5 222.5h2.0M378.5 223.5h2.0M378.5 225.5h2.0M378.5 231.5h2.0M378.5 235.5h2.0M378.5 241.5h2.0M379 112.5h2.0M379 116h2.0M379 117.5h2.0M379 118.5h2.0M379 121.5h2.0M379 140h2.0M379 148.5h2.0M379 149h2.0M379 156.5h2.0M379 158h2.0M379 160.5h2.0M379 171.5h2.0M379 173h2.0M379 173.5h2.0M379 175.5h2.0M379 187h2.0M379 187.5h2.0M379 192h2.0M379 195h2.0M379 196h2.0M379 197h2.0M379 197.5h2.0M379 200h2.0M379 214h2.0M379 217h2.0M379 218h2.0M379 218.5h2.0M379 220h2.0M379 220.5h2.0M379 222h2.0M379 223.5h2.0M379 228h2.0M379 235h2.0M379 238.5h2.0M379.5 110h2.0M379.5 113.5h2.0M379.5 117h2.0M379.5 125h2.0M379.5 125.5h2.0M379.5 138h2.0M379.5 143h2.0M379.5 147h2.0M379.5 163.5h2.0M379.5 172h2.0M379.5 176.5h2.0M379.5 177.5h2.0M379.5 178.5h2.0M379.5 182.5h2.0M379.5 183h2.0M379.5 183.5h2.0M379.5 188h2.0M379.5 190h2.0M379.5 190.5h2.0M379.5 192.5h2.0M379.5 193h2.0M379.5 193.5h2.0M379.5 195h2.0M379.5 197h2.0M379.5 202h2.0M379.5 202.5h2.0M379.5 205h2.0M379.5 211h2.0M379.5 216.5h2.0M379.5 219.5h2.0M379.5 220h2.0M379.5 224h2.0M379.5 235h2.0M379.5 237h2.0M379.5 241.5h2.0M380 106h2.0M380 113h2.0M380 115h2.0M380 115.5h2.0M380 119h2.0M380 127.5h2.0M380 131.5h2.0M380 151.5h2.0M380 159h2.0M380 163h2.0M380 169h2.0M380 184.5h2.0M380 187h2.0M380 187.5h2.0M380 193h2.0M380 195h2.0M380 196h2.0M380 197h2.0M380 200.5h2.0M380 206.5h2.0M380 207h2.0M380 211.5h2.0M380 212h2.0M380 214h2.0M380 219.5h2.0M380 221.5h2.0M380 225.5h2.0M380 233h2.0M380 235h2.0M380 237h2.0M380 239h2.0M380 241.5h2.0M380.5 107h2.0M380.5 113.5h2.0M380.5 131h2.0M380.5 132.5h2.0M380.5 137h2.0M380.5 140.5h2.0M380.5 151h2.0M380.5 153h2.0M380.5 154h2.0M380.5 154.5h2.0M380.5 161.5h2.0M380.5 169h2.0M380.5 170h2.0M380.5 171.5h2.0M380.5 172.5h2.0M380.5 173h2.0M380.5 177.5h2.0M380.5 178h2.0M380.5 179h2.0M380.5 181.5h2.0M380.5 182.5h2.0M380.5 183.5h2.0M380.5 184h2.0M380.5 190.5h2.0M380.5 192.5h2.0M380.5 193h2.0M380.5 197.5h2.0M380.5 200h2.0M380.5 202h2.0M380.5 205.5h2.0M380.5 207h2.0M380.5 207.5h2.0M380.5 210h2.0M380.5 212h2.0M380.5 213h2.0M380.5 213.5h2.0M380.5 214h2.0M380.5 216h2.0M380.5 219.5h2.0M380.5 220.5h2.0M380.5 221h2.0M380.5 222.5h2.0M380.5 223.5h2.0M380.5 230h2.0M380.5 236.5h2.0M380.5 241.5h2.0M381 118h2.0M381 121h2.0M381 131.5h2.0M381 141h2.0M381 142.5h2.0M381 145h2.0M381 145.5h2.0M381 154h2.0M381 155h2.0M381 156.5h2.0M381 165h2.0M381 166h2.0M381 167h2.0M381 168h2.0M381 172.5h2.0M381 174h2.0M381 182h2.0M381 182.5h2.0M381 185h2.0M381 190.5h2.0M381 194h2.0M381 195h2.0M381 195.5h2.0M381 196.5h2.0M381 197h2.0M381 197.5h2.0M381 200h2.0M381 205.5h2.0M381 207h2.0M381 215h2.0M381 220h2.0M381 223.5h2.0M381 224h2.0M381 226h2.0M381 227h2.0M381 231h2.0M381 236h2.0M381 236.5h2.0M381 239.5h2.0M381 240h2.0M381 241h2.0M381 241.5h2.0M381.5 106.5h2.0M381.5 120.5h2.0M381.5 142.5h2.0M381.5 146h2.0M381.5 148h2.0M381.5 148.5h2.0M381.5 151.5h2.0M381.5 153.5h2.0M381.5 158.5h2.0M381.5 159.5h2.0M381.5 163h2.0M381.5 167.5h2.0M381.5 168h2.0M381.5 169h2.0M381.5 170h2.0M381.5 172h2.0M381.5 173.5h2.0M381.5 174.5h2.0M381.5 176.5h2.0M381.5 178h2.0M381.5 183.5h2.0M381.5 184h2.0M381.5 185h2.0M381.5 186.5h2.0M381.5 189.5h2.0M381.5 193.5h2.0M381.5 196h2.0M381.5 201h2.0M381.5 202.5h2.0M381.5 206.5h2.0M381.5 210.5h2.0M381.5 213.5h2.0M381.5 218.5h2.0M381.5 219.5h2.0M381.5 220h2.0M381.5 221h2.0M381.5 227h2.0M381.5 228h2.0M381.5 228.5h2.0M381.5 229h2.0M381.5 233.5h2.0M381.5 235h2.0M381.5 237.5h2.0M381.5 238h2.0M381.5 241.5h2.0M382 116.5h2.0M382 118.5h2.0M382 131h2.0M382 134.5h2.0M382 149h2.0M382 150.5h2.0M382 151.5h2.0M382 155h2.0M382 159h2.0M382 159.5h2.0M382 167.5h2.0M382 172h2.0M382 177.5h2.0M382 178.5h2.0M382 181h2.0M382 182.5h2.0M382 185.5h2.0M382 199h2.0M382 199.5h2.0M382 205h2.0M382 208h2.0M382 209.5h2.0M382 210h2.0M382 214.5h2.0M382 215h2.0M382 216.5h2.0M382 217.5h2.0M382 220h2.0M382 223h2.0M382 223.5h2.0M382 229h2.0M382 229.5h2.0M382 236h2.0M382 237.5h2.0M382 241.5h2.0M382.5 114.5h2.0M382.5 119.5h2.0M382.5 120h2.0M382.5 124.5h2.0M382.5 134h2.0M382.5 137.5h2.0M382.5 141.5h2.0M382.5 149h2.0M382.5 151h2.0M382.5 154.5h2.0M382.5 167.5h2.0M382.5 170h2.0M382.5 173.5h2.0M382.5 189.5h2.0M382.5 190h2.0M382.5 192h2.0M382.5 193.5h2.0M382.5 194.5h2.0M382.5 200.5h2.0M382.5 201h2.0M382.5 206h2.0M382.5 211h2.0M382.5 212h2.0M382.5 216h2.0M382.5 219.5h2.0M382.5 221.5h2.0M382.5 222.5h2.0M382.5 223.5h2.0M382.5 224h2.0M382.5 224.5h2.0M382.5 226h2.0M382.5 227h2.0M382.5 229h2.0M382.5 230h2.0M382.5 233h2.0M382.5 233.5h2.0M382.5 236h2.0M382.5 237.5h2.0M383 112.5h2.0M383 120.5h2.0M383 123h2.0M383 130.5h2.0M383 133.5h2.0M383 146.5h2.0M383 151h2.0M383 167h2.0M383 168.5h2.0M383 176.5h2.0M383 183.5h2.0M383 184h2.0M383 192.5h2.0M383 194h2.0M383 198.5h2.0M383 203h2.0M383 203.5h2.0M383 208h2.0M383 210h2.0M383 210.5h2.0M383 213h2.0M383 213.5h2.0M383 214.5h2.0M383 215.5h2.0M383 219.5h2.0M383 220.5h2.0M383 225h2.0M383 235.5h2.0M383 238.5h2.0M383 240h2.0M383 241.5h2.0M383.5 104.5h2.0M383.5 144.5h2.0M383.5 146.5h2.0M383.5 148.5h2.0M383.5 156.5h2.0M383.5 166h2.0M383.5 167h2.0M383.5 167.5h2.0M383.5 168.5h2.0M383.5 171h2.0M383.5 172h2.0M383.5 182.5h2.0M383.5 183.5h2.0M383.5 188h2.0M383.5 189h2.0M383.5 191.5h2.0M383.5 193.5h2.0M383.5 195.5h2.0M383.5 197h2.0M383.5 198.5h2.0M383.5 199.5h2.0M383.5 200.5h2.0M383.5 207.5h2.0M383.5 213.5h2.0M383.5 216h2.0M383.5 216.5h2.0M383.5 217h2.0M383.5 217.5h2.0M383.5 219h2.0M383.5 225h2.0M383.5 227h2.0M383.5 228.5h2.0M383.5 231h2.0M383.5 236.5h2.0M383.5 240h2.0M383.5 241.5h2.0M384 120h2.0M384 125h2.0M384 131.5h2.0M384 133h2.0M384 143.5h2.0M384 144h2.0M384 153h2.0M384 156.5h2.0M384 157h2.0M384 158.5h2.0M384 167.5h2.0M384 172h2.0M384 173h2.0M384 180h2.0M384 180.5h2.0M384 182.5h2.0M384 185.5h2.0M384 187h2.0M384 189.5h2.0M384 190.5h2.0M384 194h2.0M384 198.5h2.0M384 205h2.0M384 209.5h2.0M384 215h2.0M384 216h2.0M384 221h2.0M384 228h2.0M384 230h2.0M384 233.5h2.0M384 238.5h2.0M384 239h2.0M384 241.5h2.0M384.5 107.5h2.0M384.5 110h2.0M384.5 115.5h2.0M384.5 120.5h2.0M384.5 128.5h2.0M384.5 158h2.0M384.5 161h2.0M384.5 168.5h2.0M384.5 171h2.0M384.5 172h2.0M384.5 181.5h2.0M384.5 182.5h2.0M384.5 183h2.0M384.5 187.5h2.0M384.5 188h2.0M384.5 191.5h2.0M384.5 193h2.0M384.5 195.5h2.0M384.5 201h2.0M384.5 210.5h2.0M384.5 211.5h2.0M384.5 212.5h2.0M384.5 214.5h2.0M384.5 218h2.0M384.5 218.5h2.0M384.5 219.5h2.0M384.5 221.5h2.0M384.5 222h2.0M384.5 224.5h2.0M384.5 225h2.0M384.5 225.5h2.0M384.5 226.5h2.0M384.5 229h2.0M384.5 229.5h2.0M384.5 232.5h2.0M384.5 233h2.0M384.5 235h2.0M384.5 236h2.0M384.5 241.5h2.0M385 106h2.0M385 108.5h2.0M385 110h2.0M385 128.5h2.0M385 130.5h2.0M385 131h2.0M385 135h2.0M385 139h2.0M385 147.5h2.0M385 148h2.0M385 156h2.0M385 157.5h2.0M385 159.5h2.0M385 164h2.0M385 166h2.0M385 166.5h2.0M385 169h2.0M385 170h2.0M385 181h2.0M385 186h2.0M385 188h2.0M385 194.5h2.0M385 195h2.0M385 197.5h2.0M385 202h2.0M385 206.5h2.0M385 210h2.0M385 213.5h2.0M385 214h2.0M385 217h2.0M385 220h2.0M385 221h2.0M385 223h2.0M385 226.5h2.0M385 229h2.0M385 229.5h2.0M385 235.5h2.0M385.5 99.5h2.0M385.5 104h2.0M385.5 126h2.0M385.5 128.5h2.0M385.5 136h2.0M385.5 139.5h2.0M385.5 142h2.0M385.5 144.5h2.0M385.5 150.5h2.0M385.5 152h2.0M385.5 153.5h2.0M385.5 156h2.0M385.5 158h2.0M385.5 159h2.0M385.5 161h2.0M385.5 163.5h2.0M385.5 166h2.0M385.5 167h2.0M385.5 169h2.0M385.5 173h2.0M385.5 176h2.0M385.5 180h2.0M385.5 181.5h2.0M385.5 183.5h2.0M385.5 187.5h2.0M385.5 192h2.0M385.5 193.5h2.0M385.5 200.5h2.0M385.5 201h2.0M385.5 202h2.0M385.5 203h2.0M385.5 204.5h2.0M385.5 210.5h2.0M385.5 212.5h2.0M385.5 216h2.0M385.5 219.5h2.0M385.5 225.5h2.0M385.5 227h2.0M385.5 228.5h2.0M385.5 229h2.0M385.5 230h2.0M385.5 232.5h2.0M385.5 233h2.0M385.5 233.5h2.0M385.5 235.5h2.0M385.5 236.5h2.0M385.5 238h2.0M385.5 239.5h2.0M385.5 240h2.0M385.5 241.5h2.0M386 107h2.0M386 109.5h2.0M386 115.5h2.0M386 120h2.0M386 132.5h2.0M386 141.5h2.0M386 145h2.0M386 148h2.0M386 151.5h2.0M386 155.5h2.0M386 158.5h2.0M386 168h2.0M386 174h2.0M386 179.5h2.0M386 180h2.0M386 181h2.0M386 187.5h2.0M386 192h2.0M386 192.5h2.0M386 197.5h2.0M386 198h2.0M386 201h2.0M386 203h2.0M386 204h2.0M386 205h2.0M386 209h2.0M386 209.5h2.0M386 212.5h2.0M386 217h2.0M386 218.5h2.0M386 219h2.0M386 222.5h2.0M386 223.5h2.0M386 227h2.0M386 229.5h2.0M386 231.5h2.0M386 238h2.0M386 239.5h2.0M386 241.5h2.0M386.5 123h2.0M386.5 130h2.0M386.5 145h2.0M386.5 152.5h2.0M386.5 155h2.0M386.5 164.5h2.0M386.5 169h2.0M386.5 171.5h2.0M386.5 172.5h2.0M386.5 177.5h2.0M386.5 178h2.0M386.5 182.5h2.0M386.5 184.5h2.0M386.5 185h2.0M386.5 191.5h2.0M386.5 192h2.0M386.5 195.5h2.0M386.5 196h2.0M386.5 203.5h2.0M386.5 205.5h2.0M386.5 206h2.0M386.5 206.5h2.0M386.5 212.5h2.0M386.5 219.5h2.0M386.5 220h2.0M386.5 226h2.0M386.5 226.5h2.0M386.5 230.5h2.0M386.5 232.5h2.0M386.5 233.5h2.0M386.5 235.5h2.0M386.5 236h2.0M386.5 237h2.0M386.5 238.5h2.0M386.5 239.5h2.0M386.5 240.5h2.0M386.5 241.5h2.0M387 100.5h2.0M387 107.5h2.0M387 123.5h2.0M387 142.5h2.0M387 144h2.0M387 148h2.0M387 148.5h2.0M387 150.5h2.0M387 151.5h2.0M387 154.5h2.0M387 158.5h2.0M387 162.5h2.0M387 163h2.0M387 166.5h2.0M387 182h2.0M387 184.5h2.0M387 188h2.0M387 191.5h2.0M387 193h2.0M387 194h2.0M387 195h2.0M387 199.5h2.0M387 201.5h2.0M387 203.5h2.0M387 206.5h2.0M387 207h2.0M387 207.5h2.0M387 209h2.0M387 211.5h2.0M387 219h2.0M387 222h2.0M387 224h2.0M387 228h2.0M387 228.5h2.0M387 229h2.0M387 234.5h2.0M387 236.5h2.0M387 239h2.0M387 239.5h2.0M387 240h2.0M387 241.5h2.0M387.5 105h2.0M387.5 114h2.0M387.5 138.5h2.0M387.5 142.5h2.0M387.5 145h2.0M387.5 149.5h2.0M387.5 152.5h2.0M387.5 156h2.0M387.5 160h2.0M387.5 161h2.0M387.5 169h2.0M387.5 170.5h2.0M387.5 181h2.0M387.5 185h2.0M387.5 189.5h2.0M387.5 190h2.0M387.5 193.5h2.0M387.5 194.5h2.0M387.5 195h2.0M387.5 200h2.0M387.5 201h2.0M387.5 202.5h2.0M387.5 203h2.0M387.5 205.5h2.0M387.5 209h2.0M387.5 210.5h2.0M387.5 211h2.0M387.5 212h2.0M387.5 212.5h2.0M387.5 215.5h2.0M387.5 216.5h2.0M387.5 217.5h2.0M387.5 219h2.0M387.5 226.5h2.0M387.5 227.5h2.0M387.5 235h2.0M387.5 238h2.0M387.5 238.5h2.0M387.5 240.5h2.0M387.5 241.5h2.0M388 121h2.0M388 124h2.0M388 143h2.0M388 157.5h2.0M388 166.5h2.0M388 168h2.0M388 170.5h2.0M388 172.5h2.0M388 175.5h2.0M388 177.5h2.0M388 178.5h2.0M388 180h2.0M388 181h2.0M388 189h2.0M388 190h2.0M388 191.5h2.0M388 193.5h2.0M388 197h2.0M388 200h2.0M388 201.5h2.0M388 208.5h2.0M388 211.5h2.0M388 214h2.0M388 219.5h2.0M388 220.5h2.0M388 223h2.0M388 232.5h2.0M388 235h2.0M388 236h2.0M388 236.5h2.0M388 239h2.0M388 240h2.0M388 241.5h2.0M388.5 115.5h2.0M388.5 133h2.0M388.5 138h2.0M388.5 145h2.0M388.5 146h2.0M388.5 157h2.0M388.5 161.5h2.0M388.5 163.5h2.0M388.5 168.5h2.0M388.5 178.5h2.0M388.5 185h2.0M388.5 187h2.0M388.5 189h2.0M388.5 191.5h2.0M388.5 194h2.0M388.5 203h2.0M388.5 203.5h2.0M388.5 204.5h2.0M388.5 208h2.0M388.5 214.5h2.0M388.5 216h2.0M388.5 217h2.0M388.5 219.5h2.0M388.5 220.5h2.0M388.5 222.5h2.0M388.5 230h2.0M388.5 231.5h2.0M388.5 234.5h2.0M388.5 235.5h2.0M388.5 236h2.0M388.5 236.5h2.0M388.5 237h2.0M388.5 241.5h2.0M389 100.5h2.0M389 130.5h2.0M389 131h2.0M389 149h2.0M389 158h2.0M389 159.5h2.0M389 160.5h2.0M389 166h2.0M389 166.5h2.0M389 168.5h2.0M389 176.5h2.0M389 187h2.0M389 192.5h2.0M389 195h2.0M389 202.5h2.0M389 204.5h2.0M389 205.5h2.0M389 208h2.0M389 210.5h2.0M389 216h2.0M389 222.5h2.0M389 228h2.0M389 229h2.0M389 230.5h2.0M389 237.5h2.0M389 241.5h2.0M389.5 121.5h2.0M389.5 123.5h2.0M389.5 132.5h2.0M389.5 137h2.0M389.5 143h2.0M389.5 143.5h2.0M389.5 146h2.0M389.5 151h2.0M389.5 159.5h2.0M389.5 161h2.0M389.5 164.5h2.0M389.5 169h2.0M389.5 171.5h2.0M389.5 175h2.0M389.5 175.5h2.0M389.5 176.5h2.0M389.5 186.5h2.0M389.5 188h2.0M389.5 190h2.0M389.5 196.5h2.0M389.5 197.5h2.0M389.5 198.5h2.0M389.5 201h2.0M389.5 205.5h2.0M389.5 207h2.0M389.5 209.5h2.0M389.5 211h2.0M389.5 211.5h2.0M389.5 218.5h2.0M389.5 219.5h2.0M389.5 221.5h2.0M389.5 224.5h2.0M389.5 227h2.0M389.5 230h2.0M389.5 232h2.0M389.5 236h2.0M389.5 238h2.0M389.5 239.5h2.0M389.5 241.5h2.0M390 120.5h2.0M390 143.5h2.0M390 148.5h2.0M390 153h2.0M390 156h2.0M390 162.5h2.0M390 175.5h2.0M390 178h2.0M390 182h2.0M390 187h2.0M390 187.5h2.0M390 191h2.0M390 193.5h2.0M390 194.5h2.0M390 195h2.0M390 195.5h2.0M390 196h2.0M390 198h2.0M390 200h2.0M390 204h2.0M390 205h2.0M390 207h2.0M390 207.5h2.0M390 212h2.0M390 218h2.0M390 222h2.0M390 226h2.0M390 230h2.0M390 234.5h2.0M390 239.5h2.0M390 240.5h2.0M390 241.5h2.0M390.5 116h2.0M390.5 125h2.0M390.5 147.5h2.0M390.5 148.5h2.0M390.5 156h2.0M390.5 165.5h2.0M390.5 166.5h2.0M390.5 167.5h2.0M390.5 176.5h2.0M390.5 180h2.0M390.5 185h2.0M390.5 191h2.0M390.5 193h2.0M390.5 193.5h2.0M390.5 194.5h2.0M390.5 195h2.0M390.5 198h2.0M390.5 201h2.0M390.5 206h2.0M390.5 206.5h2.0M390.5 207h2.0M390.5 207.5h2.0M390.5 208.5h2.0M390.5 209.5h2.0M390.5 212h2.0M390.5 214.5h2.0M390.5 225.5h2.0M390.5 236h2.0M390.5 239h2.0M390.5 240h2.0M391 129.5h2.0M391 137h2.0M391 143h2.0M391 153h2.0M391 162h2.0M391 166h2.0M391 170.5h2.0M391 176h2.0M391 176.5h2.0M391 180.5h2.0M391 184h2.0M391 185.5h2.0M391 191h2.0M391 192h2.0M391 195h2.0M391 198h2.0M391 201.5h2.0M391 203h2.0M391 205h2.0M391 206.5h2.0M391 208h2.0M391 210.5h2.0M391 211h2.0M391 213h2.0M391 217.5h2.0M391 218h2.0M391 228h2.0M391 229.5h2.0M391 230h2.0M391 232.5h2.0M391 233h2.0M391 238h2.0M391 240h2.0M391 240.5h2.0M391 241.5h2.0M391.5 117.5h2.0M391.5 138h2.0M391.5 148.5h2.0M391.5 159h2.0M391.5 160.5h2.0M391.5 163h2.0M391.5 183h2.0M391.5 184h2.0M391.5 186h2.0M391.5 186.5h2.0M391.5 188h2.0M391.5 192.5h2.0M391.5 194h2.0M391.5 195h2.0M391.5 197.5h2.0M391.5 201.5h2.0M391.5 202h2.0M391.5 204.5h2.0M391.5 205.5h2.0M391.5 207.5h2.0M391.5 212.5h2.0M391.5 215h2.0M391.5 218.5h2.0M391.5 223h2.0M391.5 225h2.0M391.5 225.5h2.0M391.5 229h2.0M391.5 230.5h2.0M391.5 233h2.0M391.5 238.5h2.0M391.5 241.5h2.0M392 124.5h2.0M392 129.5h2.0M392 134.5h2.0M392 137.5h2.0M392 142h2.0M392 148h2.0M392 166h2.0M392 172h2.0M392 174.5h2.0M392 175.5h2.0M392 178.5h2.0M392 184h2.0M392 184.5h2.0M392 185.5h2.0M392 191h2.0M392 194.5h2.0M392 200.5h2.0M392 215h2.0M392 216h2.0M392 218h2.0M392 223h2.0M392 225.5h2.0M392 241h2.0M392 241.5h2.0M392.5 114.5h2.0M392.5 125.5h2.0M392.5 137.5h2.0M392.5 157.5h2.0M392.5 159h2.0M392.5 159.5h2.0M392.5 163h2.0M392.5 165h2.0M392.5 176h2.0M392.5 177.5h2.0M392.5 182.5h2.0M392.5 183.5h2.0M392.5 189h2.0M392.5 189.5h2.0M392.5 191.5h2.0M392.5 195.5h2.0M392.5 198h2.0M392.5 201h2.0M392.5 204.5h2.0M392.5 211.5h2.0M392.5 213h2.0M392.5 217h2.0M392.5 222.5h2.0M392.5 226h2.0M392.5 226.5h2.0M392.5 227h2.0M392.5 232.5h2.0M392.5 241h2.0M393 106h2.0M393 109.5h2.0M393 111h2.0M393 133.5h2.0M393 155h2.0M393 156.5h2.0M393 169.5h2.0M393 173.5h2.0M393 177h2.0M393 180h2.0M393 181.5h2.0M393 184h2.0M393 188.5h2.0M393 199.5h2.0M393 207.5h2.0M393 210h2.0M393 211h2.0M393 215.5h2.0M393 220h2.0M393 220.5h2.0M393 222h2.0M393 226.5h2.0M393 228.5h2.0M393 239.5h2.0M393.5 130.5h2.0M393.5 170h2.0M393.5 170.5h2.0M393.5 172.5h2.0M393.5 190h2.0M393.5 196.5h2.0M393.5 197h2.0M393.5 203.5h2.0M393.5 205.5h2.0M393.5 209h2.0M393.5 209.5h2.0M393.5 210.5h2.0M393.5 216h2.0M393.5 217.5h2.0M393.5 225.5h2.0M393.5 230h2.0M393.5 239.5h2.0M393.5 240.5h2.0M394 124h2.0M394 140.5h2.0M394 141.5h2.0M394 144h2.0M394 154.5h2.0M394 164.5h2.0M394 167.5h2.0M394 169h2.0M394 179h2.0M394 183h2.0M394 184h2.0M394 187.5h2.0M394 196h2.0M394 198.5h2.0M394 199h2.0M394 204.5h2.0M394 208h2.0M394 210h2.0M394 212h2.0M394 218.5h2.0M394 234h2.0M394 235h2.0M394 235.5h2.0M394 239.5h2.0M394 241.5h2.0M394.5 125.5h2.0M394.5 136h2.0M394.5 158.5h2.0M394.5 166.5h2.0M394.5 168h2.0M394.5 182h2.0M394.5 189.5h2.0M394.5 194h2.0M394.5 204h2.0M394.5 204.5h2.0M394.5 211.5h2.0M394.5 213.5h2.0M394.5 215h2.0M394.5 219h2.0M394.5 220.5h2.0M394.5 221h2.0M394.5 221.5h2.0M394.5 225h2.0M394.5 228h2.0M394.5 234.5h2.0M394.5 239.5h2.0M395 140h2.0M395 145.5h2.0M395 150.5h2.0M395 171.5h2.0M395 174.5h2.0M395 178h2.0M395 181h2.0M395 184.5h2.0M395 186h2.0M395 203.5h2.0M395 207h2.0M395 210h2.0M395 212.5h2.0M395 219.5h2.0M395 220.5h2.0M395 221h2.0M395 222.5h2.0M395 224h2.0M395 229.5h2.0M395 234h2.0M395 234.5h2.0M395 236.5h2.0M395 239h2.0M395 241h2.0M395 241.5h2.0M395.5 141h2.0M395.5 157h2.0M395.5 187.5h2.0M395.5 188.5h2.0M395.5 194.5h2.0M395.5 197h2.0M395.5 198h2.0M395.5 199.5h2.0M395.5 205.5h2.0M395.5 207h2.0M395.5 207.5h2.0M395.5 208.5h2.0M395.5 210.5h2.0M395.5 213h2.0M395.5 213.5h2.0M395.5 215.5h2.0M395.5 219h2.0M395.5 221.5h2.0M395.5 222.5h2.0M395.5 223.5h2.0M395.5 225h2.0M395.5 225.5h2.0M395.5 230h2.0M395.5 231.5h2.0M395.5 233.5h2.0M395.5 236h2.0M395.5 238h2.0M396 136.5h2.0M396 166.5h2.0M396 170.5h2.0M396 180h2.0M396 191.5h2.0M396 199.5h2.0M396 211h2.0M396 217h2.0M396 232.5h2.0M396 233h2.0M396 234h2.0M396.5 122h2.0M396.5 179h2.0M396.5 180h2.0M396.5 180.5h2.0M396.5 182h2.0M396.5 185h2.0M396.5 192h2.0M396.5 201.5h2.0M396.5 203h2.0M396.5 208h2.0M396.5 212h2.0M396.5 220h2.0M396.5 221h2.0M396.5 221.5h2.0M396.5 225h2.0M396.5 226.5h2.0M397 168.5h2.0M397 182.5h2.0M397 189h2.0M397 195h2.0M397 198h2.0M397 200h2.0M397 202.5h2.0M397 204h2.0M397 213.5h2.0M397 224.5h2.0M397 229h2.0M397 232h2.0M397 241.5h2.0M397.5 140h2.0M397.5 155.5h2.0M397.5 179.5h2.0M397.5 184.5h2.0M397.5 193.5h2.0M397.5 199h2.0M397.5 202h2.0M397.5 206h2.0M397.5 213h2.0M397.5 215.5h2.0M397.5 224.5h2.0M397.5 225h2.0M397.5 233.5h2.0M397.5 234h2.0M397.5 234.5h2.0M398 141h2.0M398 186h2.0M398 211.5h2.0M398 219h2.0M398 219.5h2.0M398 224h2.0M398 241.5h2.0M398.5 170.5h2.0M398.5 178h2.0M398.5 180.5h2.0M398.5 185.5h2.0M398.5 198h2.0M398.5 199.5h2.0M398.5 202h2.0M398.5 206.5h2.0M398.5 209.5h2.0M398.5 223.5h2.0M398.5 231.5h2.0M398.5 233.5h2.0M398.5 241.5h2.0M399 142.5h2.0M399 173h2.0M399 190.5h2.0M399 191h2.0M399 193h2.0M399 217.5h2.0M399 225h2.0M399 227h2.0M399 241.5h2.0M399.5 169h2.0M399.5 179.5h2.0M399.5 186h2.0M399.5 187.5h2.0M399.5 188.5h2.0M399.5 189.5h2.0M399.5 216.5h2.0M399.5 218.5h2.0M399.5 223.5h2.0M399.5 225h2.0M399.5 241.5h2.0M400 157h2.0M400 176.5h2.0M400 179h2.0M400 188.5h2.0M400 196.5h2.0M400 209h2.0M400 213h2.0M400 215.5h2.0M400 237.5h2.0M400 241.5h2.0M400.5 112h2.0M400.5 151.5h2.0M400.5 157h2.0M400.5 159h2.0M400.5 165h2.0M400.5 181h2.0M400.5 224.5h2.0M400.5 235.5h2.0M400.5 239h2.0M401 119.5h2.0M401 163h2.0M401 186.5h2.0M401 190h2.0M401 190.5h2.0M401 193h2.0M401 196.5h2.0M401 197.5h2.0M401 202.5h2.0M401 203h2.0M401 205.5h2.0M401 206.5h2.0M401 220h2.0M401 223h2.0M401 224.5h2.0M401 237h2.0M401.5 136.5h2.0M401.5 160.5h2.0M401.5 182.5h2.0M401.5 196.5h2.0M401.5 199h2.0M401.5 215.5h2.0M401.5 220.5h2.0M401.5 227h2.0M401.5 236h2.0M401.5 241.5h2.0M402 117h2.0M402 155h2.0M402 163.5h2.0M402 189h2.0M402 196h2.0M402 211.5h2.0M402 213.5h2.0M402 219.5h2.0M402 223.5h2.0M402 238.5h2.0M402 240h2.0M402.5 131h2.0M402.5 141h2.0M402.5 165h2.0M402.5 173.5h2.0M402.5 204.5h2.0M402.5 208.5h2.0M402.5 209.5h2.0M402.5 214.5h2.0M402.5 218h2.0M402.5 230h2.0M402.5 238.5h2.0M402.5 241.5h2.0M403 137.5h2.0M403 145.5h2.0M403 179h2.0M403 203.5h2.0M403 204.5h2.0M403 241.5h2.0M403.5 116h2.0M403.5 142.5h2.0M403.5 155.5h2.0M403.5 157h2.0M403.5 178h2.0M403.5 180h2.0M403.5 194h2.0M403.5 196h2.0M403.5 202h2.0M403.5 222h2.0M403.5 229h2.0M403.5 233.5h2.0M403.5 241.5h2.0M404 135h2.0M404 144h2.0M404 163h2.0M404 170.5h2.0M404 172h2.0M404 173h2.0M404 177h2.0M404 180h2.0M404 187h2.0M404 197.5h2.0M404 201h2.0M404 204h2.0M404 222.5h2.0M404 223h2.0M404 241.5h2.0M404.5 105h2.0M404.5 114h2.0M404.5 119.5h2.0M404.5 120h2.0M404.5 126.5h2.0M404.5 135.5h2.0M404.5 137.5h2.0M404.5 155.5h2.0M404.5 162.5h2.0M404.5 201h2.0M404.5 207.5h2.0M404.5 209h2.0M404.5 218.5h2.0M404.5 224.5h2.0M404.5 232h2.0M404.5 241.5h2.0M405 123.5h2.0M405 150.5h2.0M405 158.5h2.0M405 160.5h2.0M405 161h2.0M405 165.5h2.0M405 166.5h2.0M405 196.5h2.0M405 211h2.0M405 224h2.0M405.5 112h2.0M405.5 147h2.0M405.5 154.5h2.0M405.5 173.5h2.0M405.5 175h2.0M405.5 190h2.0M405.5 191.5h2.0M405.5 192.5h2.0M405.5 202h2.0M405.5 218h2.0M405.5 219h2.0M405.5 241.5h2.0M406 105h2.0M406 119h2.0M406 121h2.0M406 126.5h2.0M406 136h2.0M406 167.5h2.0M406 173.5h2.0M406 177.5h2.0M406 184.5h2.0M406 199.5h2.0M406 215h2.0M406 217h2.0M406 219h2.0M406.5 104h2.0M406.5 106.5h2.0M406.5 119.5h2.0M406.5 127.5h2.0M406.5 132h2.0M406.5 138.5h2.0M406.5 149h2.0M406.5 155h2.0M406.5 155.5h2.0M406.5 186h2.0M406.5 193.5h2.0M406.5 195.5h2.0M406.5 204h2.0M406.5 206.5h2.0M406.5 222h2.0M406.5 226.5h2.0M406.5 232.5h2.0M406.5 241.5h2.0M407 118h2.0M407 128.5h2.0M407 136h2.0M407 139.5h2.0M407 142h2.0M407 146.5h2.0M407 147h2.0M407 150h2.0M407 151h2.0M407 164h2.0M407 170h2.0M407 171h2.0M407 174.5h2.0M407 184h2.0M407 190h2.0M407 207.5h2.0M407 226h2.0M407 241h2.0M407.5 123.5h2.0M407.5 137.5h2.0M407.5 148h2.0M407.5 154h2.0M407.5 155.5h2.0M407.5 156h2.0M407.5 167.5h2.0M407.5 169h2.0M407.5 171h2.0M407.5 171.5h2.0M407.5 175.5h2.0M407.5 177.5h2.0M407.5 181h2.0M407.5 198h2.0M407.5 223h2.0M407.5 241.5h2.0M408 119.5h2.0M408 132.5h2.0M408 147.5h2.0M408 151.5h2.0M408 155h2.0M408 158.5h2.0M408 163.5h2.0M408 168h2.0M408 169h2.0M408 179.5h2.0M408 182h2.0M408 184h2.0M408 185h2.0M408 185.5h2.0M408 198h2.0M408 214.5h2.0M408 223h2.0M408 224.5h2.0M408 235.5h2.0M408 241.5h2.0M408.5 109h2.0M408.5 127.5h2.0M408.5 134h2.0M408.5 135.5h2.0M408.5 143.5h2.0M408.5 146.5h2.0M408.5 156h2.0M408.5 161.5h2.0M408.5 169.5h2.0M408.5 173h2.0M408.5 180h2.0M408.5 182.5h2.0M408.5 184h2.0M408.5 190.5h2.0M408.5 194.5h2.0M408.5 210.5h2.0M408.5 230h2.0M408.5 231.5h2.0M408.5 241.5h2.0M409 112.5h2.0M409 117h2.0M409 131.5h2.0M409 137.5h2.0M409 141h2.0M409 149.5h2.0M409 158.5h2.0M409 165h2.0M409 166.5h2.0M409 168.5h2.0M409 173h2.0M409 182.5h2.0M409 202h2.0M409 207h2.0M409 209h2.0M409 220h2.0M409 224h2.0M409 240.5h2.0M409 241.5h2.0M409.5 117.5h2.0M409.5 120h2.0M409.5 137.5h2.0M409.5 141.5h2.0M409.5 143.5h2.0M409.5 146.5h2.0M409.5 150h2.0M409.5 154h2.0M409.5 158.5h2.0M409.5 164.5h2.0M409.5 165.5h2.0M409.5 167h2.0M409.5 170.5h2.0M409.5 176.5h2.0M409.5 199h2.0M409.5 201h2.0M410 126.5h2.0M410 128.5h2.0M410 129h2.0M410 143.5h2.0M410 144.5h2.0M410 152.5h2.0M410 161h2.0M410 182.5h2.0M410 184.5h2.0M410 193h2.0M410 196h2.0M410 241.5h2.0M410.5 105.5h2.0M410.5 113.5h2.0M410.5 118.5h2.0M410.5 137h2.0M410.5 140h2.0M410.5 142h2.0M410.5 157h2.0M410.5 162h2.0M410.5 163h2.0M410.5 169h2.0M410.5 178.5h2.0M410.5 179.5h2.0M410.5 180.5h2.0M410.5 186h2.0M410.5 186.5h2.0M410.5 190.5h2.0M410.5 212.5h2.0M410.5 216h2.0M410.5 218.5h2.0M410.5 233.5h2.0M410.5 234.5h2.0M410.5 235.5h2.0M411 108.5h2.0M411 115.5h2.0M411 125.5h2.0M411 126h2.0M411 132h2.0M411 133.5h2.0M411 136.5h2.0M411 137.5h2.0M411 142h2.0M411 144h2.0M411 146h2.0M411 147.5h2.0M411 149.5h2.0M411 152.5h2.0M411 154h2.0M411 171.5h2.0M411 180h2.0M411 182h2.0M411 184h2.0M411 187h2.0M411 203h2.0M411 204h2.0M411 211.5h2.0M411.5 109.5h2.0M411.5 115.5h2.0M411.5 126h2.0M411.5 142.5h2.0M411.5 151h2.0M411.5 168.5h2.0M411.5 171h2.0M411.5 184h2.0M411.5 198h2.0M411.5 201h2.0M411.5 218h2.0M411.5 230h2.0M411.5 241.5h2.0M412 101.5h2.0M412 118h2.0M412 128.5h2.0M412 146.5h2.0M412 149.5h2.0M412 162.5h2.0M412 176.5h2.0M412 213h2.0M412 221.5h2.0M412 223.5h2.0M412 241.5h2.0M412.5 109h2.0M412.5 114h2.0M412.5 115h2.0M412.5 123h2.0M412.5 127h2.0M412.5 128h2.0M412.5 136h2.0M412.5 137.5h2.0M412.5 145.5h2.0M412.5 150.5h2.0M412.5 156.5h2.0M412.5 159h2.0M412.5 159.5h2.0M412.5 161.5h2.0M412.5 163h2.0M412.5 172.5h2.0M412.5 197.5h2.0M412.5 226h2.0M412.5 232h2.0M412.5 233.5h2.0M412.5 241.5h2.0M413 123h2.0M413 130h2.0M413 133h2.0M413 137.5h2.0M413 163.5h2.0M413 177.5h2.0M413 179h2.0M413 184.5h2.0M413 191h2.0M413 193.5h2.0M413 235.5h2.0M413.5 139h2.0M413.5 148h2.0M413.5 152.5h2.0M413.5 153h2.0M413.5 163.5h2.0M413.5 166h2.0M413.5 169h2.0M413.5 169.5h2.0M413.5 170h2.0M413.5 188.5h2.0M413.5 194h2.0M413.5 209h2.0M413.5 231.5h2.0M414 111.5h2.0M414 117.5h2.0M414 127h2.0M414 148.5h2.0M414 151.5h2.0M414 152.5h2.0M414 156.5h2.0M414 160h2.0M414 165h2.0M414 180h2.0M414 184h2.0M414 241.5h2.0M414.5 111.5h2.0M414.5 119.5h2.0M414.5 123h2.0M414.5 125.5h2.0M414.5 143h2.0M414.5 148.5h2.0M414.5 153h2.0M414.5 154.5h2.0M414.5 158.5h2.0M414.5 161h2.0M414.5 164h2.0M414.5 165h2.0M414.5 175h2.0M414.5 178.5h2.0M414.5 199.5h2.0M414.5 201h2.0M414.5 202h2.0M414.5 204.5h2.0M414.5 215.5h2.0M415 107.5h2.0M415 111.5h2.0M415 117.5h2.0M415 121h2.0M415 125h2.0M415 125.5h2.0M415 133.5h2.0M415 142h2.0M415 143h2.0M415 143.5h2.0M415 144h2.0M415 144.5h2.0M415 150.5h2.0M415 151h2.0M415 153h2.0M415 153.5h2.0M415 155.5h2.0M415 163h2.0M415 164h2.0M415 173h2.0M415 176h2.0M415 176.5h2.0M415 184.5h2.0M415 188h2.0M415 204.5h2.0M415 205h2.0M415 207h2.0M415 222h2.0M415 222.5h2.0M415 228h2.0M415.5 104.5h2.0M415.5 111h2.0M415.5 151h2.0M415.5 152.5h2.0M415.5 171h2.0M415.5 184.5h2.0M415.5 193.5h2.0M415.5 241.5h2.0M416 103h2.0M416 125.5h2.0M416 127.5h2.0M416 131.5h2.0M416 133h2.0M416 141.5h2.0M416 142.5h2.0M416 143.5h2.0M416 165h2.0M416 178.5h2.0M416 181h2.0M416 189h2.0M416 209h2.0M416 231h2.0M416 235.5h2.0M416.5 113h2.0M416.5 125h2.0M416.5 129h2.0M416.5 134.5h2.0M416.5 166.5h2.0M416.5 168h2.0M416.5 176h2.0M416.5 180.5h2.0M416.5 196h2.0M416.5 198h2.0M416.5 206.5h2.0M417 106.5h2.0M417 136h2.0M417 138.5h2.0M417 145h2.0M417 159.5h2.0M417 170h2.0M417 175h2.0M417 178h2.0M417 182.5h2.0M417 197h2.0M417 202h2.0M417 205h2.0M417.5 108.5h2.0M417.5 134h2.0M417.5 150h2.0M417.5 150.5h2.0M417.5 151h2.0M417.5 160h2.0M417.5 165h2.0M417.5 170.5h2.0M417.5 194.5h2.0M417.5 215h2.0M417.5 241.5h2.0M418 143.5h2.0M418 146.5h2.0M418 166h2.0M418 169h2.0M418 169.5h2.0M418 174h2.0M418 175h2.0M418 180h2.0M418 192.5h2.0M418 224.5h2.0M418.5 105.5h2.0M418.5 110.5h2.0M418.5 145.5h2.0M418.5 157h2.0M418.5 158h2.0M418.5 159h2.0M418.5 166h2.0M418.5 167.5h2.0M418.5 182h2.0M418.5 199h2.0M418.5 239.5h2.0M419 107h2.0M419 113h2.0M419 120.5h2.0M419 125.5h2.0M419 145h2.0M419 159.5h2.0M419 161.5h2.0M419 166h2.0M419 170h2.0M419 170.5h2.0M419 172h2.0M419 188.5h2.0M419 200h2.0M419 210h2.0M419.5 122.5h2.0M419.5 134.5h2.0M419.5 139h2.0M419.5 159h2.0M419.5 165h2.0M419.5 173.5h2.0M419.5 179.5h2.0M419.5 184h2.0M419.5 210h2.0M419.5 219h2.0M419.5 241.5h2.0M420 101.5h2.0M420 121h2.0M420 139.5h2.0M420 140.5h2.0M420 141.5h2.0M420 153.5h2.0M420 159.5h2.0M420 172.5h2.0M420 195.5h2.0M420 241.5h2.0M420.5 121h2.0M420.5 122h2.0M420.5 122.5h2.0M420.5 143.5h2.0M420.5 173h2.0M420.5 177.5h2.0M420.5 204.5h2.0M420.5 234.5h2.0M421 105.5h2.0M421 124h2.0M421 128h2.0M421 132.5h2.0M421 150h2.0M421 157h2.0M421 161.5h2.0M421 168.5h2.0M421 169h2.0M421 176.5h2.0M421 182h2.0M421.5 127h2.0M421.5 131.5h2.0M421.5 136.5h2.0M421.5 153h2.0M421.5 165.5h2.0M421.5 174.5h2.0M421.5 218.5h2.0M421.5 241.5h2.0M422 115h2.0M422 117h2.0M422 135h2.0M422 160.5h2.0M422 163.5h2.0M422 168.5h2.0M422 183h2.0M422.5 137h2.0M422.5 167.5h2.0M422.5 201h2.0M422.5 226.5h2.0M423 128h2.0M423 186h2.0M423.5 125.5h2.0M423.5 126h2.0M423.5 175.5h2.0M423.5 203h2.0M424 107h2.0M424 127h2.0M424 193h2.0M424.5 121h2.0M424.5 129.5h2.0M424.5 146h2.0M424.5 147h2.0M424.5 178h2.0M424.5 234h2.0M425 113h2.0M425 173.5h2.0M425 202.5h2.0M425 221.5h2.0M425 226h2.0M425.5 125.5h2.0M425.5 153.5h2.0M425.5 163h2.0M425.5 226.5h2.0M426 107.5h2.0M426 111h2.0M426 138.5h2.0M426 160h2.0M426 160.5h2.0M426 241.5h2.0M426.5 142.5h2.0M426.5 176.5h2.0M426.5 191.5h2.0M427.5 142h2.0M427.5 235.5h2.0M428 107.5h2.0M428 166.5h2.0M428.5 153h2.0M428.5 241.5h2.0M429.5 163.5h2.0M429.5 167h2.0M429.5 195.5h2.0M430 191.5h2.0M432 241.5h2.0M434 158h2.0M434 241.5h2.0M434.5 170.5h2.0M435.5 114h2.0M435.5 134.5h2.0M436.5 181h2.0M437 176h2.0M437 186.5h2.0M439 232h2.0M441.5 108h2.0M444 206.5h2.0" stroke="#de0822" stroke-width="2.0" fill="none"/>
<path d="M84.5 483.5h2.0M100 497.5h2.0M102 479h2.0M106 441.5h2.0M113 494h2.0M115.5 460h2.0M124 441h2.0M125.5 467.5h2.0M127 467.5h2.0M131.5 423.5h2.0M134 488.5h2.0M134.5 432.5h2.0M135.5 444.5h2.0M136.5 465.5h2.0M136.5 485h2.0M137 441h2.0M137 493h2.0M138.5 464.5h2.0M139 454.5h2.0M139 463h2.0M139.5 452h2.0M139.5 495h2.0M140 456h2.0M140.5 456.5h2.0M141 469h2.0M141.5 459h2.0M141.5 495h2.0M142 449.5h2.0M142 458h2.0M142.5 432h2.0M142.5 468h2.0M143.5 479.5h2.0M143.5 494.5h2.0M144 417h2.0M144 483h2.0M144.5 464.5h2.0M144.5 498.5h2.0M145 462h2.0M145 462.5h2.0M145 463.5h2.0M145.5 490.5h2.0M145.5 497h2.0M146 485.5h2.0M146.5 437h2.0M146.5 498h2.0M147 452.5h2.0M147 464h2.0M147 473h2.0M147.5 455h2.0M147.5 498.5h2.0M148 410.5h2.0M148 455.5h2.0M148 484.5h2.0M148.5 486.5h2.0M148.5 499h2.0M149 428.5h2.0M149 444.5h2.0M149 463h2.0M149 487.5h2.0M149 494.5h2.0M149.5 434h2.0M149.5 445.5h2.0M149.5 455h2.0M149.5 463h2.0M149.5 473h2.0M149.5 478.5h2.0M150 427h2.0M150 465h2.0M150 493h2.0M150 498.5h2.0M150.5 389.5h2.0M150.5 449h2.0M150.5 461h2.0M150.5 469h2.0M150.5 472.5h2.0M150.5 475.5h2.0M150.5 477.5h2.0M150.5 479.5h2.0M150.5 488h2.0M151 403h2.0M151 451.5h2.0M151 453.5h2.0M151 482h2.0M151 498.5h2.0M151.5 418.5h2.0M151.5 461.5h2.0M151.5 475h2.0M151.5 482.5h2.0M152 446h2.0M152 447.5h2.0M152 452.5h2.0M152 460.5h2.0M152.5 450.5h2.0M152.5 455h2.0M152.5 473h2.0M152.5 480.5h2.0M153 388h2.0M153 407.5h2.0M153 413.5h2.0M153 420h2.0M153 434h2.0M153 437.5h2.0M153 473.5h2.0M153 474.5h2.0M153 477.5h2.0M153 484h2.0M153.5 388h2.0M153.5 448h2.0M153.5 454.5h2.0M153.5 494.5h2.0M153.5 495.5h2.0M154 394.5h2.0M154 403.5h2.0M154 439.5h2.0M154 441.5h2.0M154 447.5h2.0M154 473h2.0M154 481h2.0M154.5 420.5h2.0M154.5 427h2.0M154.5 450.5h2.0M154.5 452.5h2.0M154.5 456h2.0M154.5 469h2.0M154.5 491h2.0M155 375h2.0M155 402.5h2.0M155 466.5h2.0M155 474h2.0M155 474.5h2.0M155 479.5h2.0M155 483h2.0M155.5 376.5h2.0M155.5 391.5h2.0M155.5 410h2.0M155.5 444.5h2.0M155.5 448.5h2.0M155.5 452.5h2.0M155.5 487h2.0M155.5 493h2.0M155.5 494h2.0M155.5 495h2.0M155.5 498h2.0M155.5 498.5h2.0M156 434h2.0M156 446h2.0M156 448.5h2.0M156 450h2.0M156 457h2.0M156 462h2.0M156 465.5h2.0M156 467h2.0M156 496h2.0M156 498.5h2.0M156.5 386.5h2.0M156.5 390h2.0M156.5 392h2.0M156.5 400.5h2.0M156.5 430h2.0M156.5 462h2.0M156.5 464h2.0M156.5 491.5h2.0M156.5 492.5h2.0M157 400.5h2.0M157 435h2.0M157 437h2.0M157 437.5h2.0M157 445h2.0M157 445.5h2.0M157 465.5h2.0M157.5 372.5h2.0M157.5 400h2.0M157.5 416h2.0M157.5 416.5h2.0M157.5 422.5h2.0M157.5 439.5h2.0M157.5 440h2.0M157.5 445h2.0M157.5 456h2.0M157.5 456.5h2.0M157.5 458h2.0M157.5 458.5h2.0M157.5 471h2.0M157.5 477h2.0M157.5 477.5h2.0M157.5 488h2.0M157.5 489h2.0M158 399h2.0M158 409.5h2.0M158 427.5h2.0M158 450h2.0M158 453.5h2.0M158 458.5h2.0M158 471h2.0M158 477h2.0M158 484h2.0M158 485.5h2.0M158 498.5h2.0M158.5 390h2.0M158.5 394h2.0M158.5 400h2.0M158.5 451.5h2.0M158.5 452.5h2.0M158.5 454h2.0M158.5 459h2.0M158.5 465.5h2.0M158.5 477h2.0M158.5 484h2.0M158.5 486.5h2.0M159 387h2.0M159 413.5h2.0M159 434.5h2.0M159 441.5h2.0M159 446.5h2.0M159 448.5h2.0M159 457.5h2.0M159 468h2.0M159 468.5h2.0M159 469h2.0M159 472h2.0M159 473.5h2.0M159 481.5h2.0M159 482h2.0M159 497h2.0M159 498.5h2.0M159.5 392.5h2.0M159.5 416h2.0M159.5 426.5h2.0M159.5 429h2.0M159.5 443.5h2.0M159.5 467.5h2.0M159.5 470.5h2.0M159.5 481.5h2.0M160 389h2.0M160 413h2.0M160 454h2.0M160 454.5h2.0M160 462.5h2.0M160 492h2.0M160 493h2.0M160 498.5h2.0M160.5 382h2.0M160.5 393h2.0M160.5 403.5h2.0M160.5 411.5h2.0M160.5 415.5h2.0M160.5 423h2.0M160.5 438.5h2.0M160.5 442.5h2.0M160.5 455h2.0M160.5 458h2.0M160.5 474h2.0M160.5 478.5h2.0M160.5 483.5h2.0M160.5 484h2.0M160.5 484.5h2.0M160.5 485.5h2.0M160.5 488h2.0M160.5 498h2.0M161 388h2.0M161 398h2.0M161 408.5h2.0M161 418h2.0M161 430.5h2.0M161 431h2.0M161 434h2.0M161 434.5h2.0M161 436h2.0M161 437h2.0M161 438.5h2.0M161 440.5h2.0M161 441.5h2.0M161 443.5h2.0M161 444h2.0M161 448h2.0M161 450h2.0M161 461h2.0M161 473h2.0M161 477h2.0M161 478.5h2.0M161 493h2.0M161 498.5h2.0M161.5 397h2.0M161.5 432.5h2.0M161.5 441h2.0M161.5 443h2.0M161.5 444h2.0M161.5 451h2.0M161.5 464.5h2.0M161.5 467.5h2.0M161.5 468.5h2.0M161.5 476h2.0M161.5 478.5h2.0M161.5 479.5h2.0M161.5 480.5h2.0M161.5 483.5h2.0M161.5 489h2.0M161.5 498.5h2.0M162 370.5h2.0M162 379.5h2.0M162 384h2.0M162 400.5h2.0M162 403h2.0M162 406.5h2.0M162 407.5h2.0M162 408h2.0M162 409.5h2.0M162 427h2.0M162 428.5h2.0M162 438.5h2.0M162 443.5h2.0M162 455h2.0M162 456h2.0M162 474h2.0M162 478.5h2.0M162 482.5h2.0M162.5 377h2.0M162.5 380.5h2.0M162.5 386.5h2.0M162.5 390h2.0M162.5 397.5h2.0M162.5 400h2.0M162.5 402.5h2.0M162.5 409h2.0M162.5 411.5h2.0M162.5 419h2.0M162.5 424h2.0M162.5 429.5h2.0M162.5 436h2.0M162.5 437h2.0M162.5 441.5h2.0M162.5 443h2.0M162.5 445.5h2.0M162.5 450h2.0M162.5 453.5h2.0M162.5 461.5h2.0M162.5 467h2.0M162.5 468.5h2.0M162.5 498.5h2.0M163 380.5h2.0M163 395.5h2.0M163 403h2.0M163 409.5h2.0M163 415h2.0M163 418h2.0M163 429.5h2.0M163 430h2.0M163 446.5h2.0M163 447.5h2.0M163 457.5h2.0M163 458.5h2.0M163 459.5h2.0M163 464h2.0M163 465.5h2.0M163 466h2.0M163 472.5h2.0M163 475h2.0M163 482h2.0M163 487h2.0M163 488h2.0M163 491.5h2.0M163 494h2.0M163 498.5h2.0M163.5 392h2.0M163.5 393h2.0M163.5 394.5h2.0M163.5 406h2.0M163.5 411.5h2.0M163.5 422.5h2.0M163.5 425.5h2.0M163.5 433h2.0M163.5 443h2.0M163.5 447.5h2.0M163.5 452h2.0M163.5 463.5h2.0M163.5 465h2.0M163.5 468h2.0M163.5 476h2.0M163.5 480h2.0M163.5 483.5h2.0M163.5 488h2.0M163.5 498.5h2.0M164 373h2.0M164 386.5h2.0M164 387h2.0M164 396.5h2.0M164 409h2.0M164 411.5h2.0M164 413.5h2.0M164 414h2.0M164 416h2.0M164 417.5h2.0M164 418.5h2.0M164 424.5h2.0M164 431h2.0M164 433h2.0M164 436.5h2.0M164 443h2.0M164 446h2.0M164 449.5h2.0M164 450h2.0M164 456.5h2.0M164 461.5h2.0M164 466.5h2.0M164 469.5h2.0M164 477.5h2.0M164 478h2.0M164 488.5h2.0M164.5 380h2.0M164.5 386.5h2.0M164.5 387.5h2.0M164.5 392h2.0M164.5 396h2.0M164.5 404h2.0M164.5 409.5h2.0M164.5 412h2.0M164.5 418.5h2.0M164.5 420h2.0M164.5 420.5h2.0M164.5 426.5h2.0M164.5 429.5h2.0M164.5 431.5h2.0M164.5 435.5h2.0M164.5 440h2.0M164.5 442h2.0M164.5 443.5h2.0M164.5 447.5h2.0M164.5 448h2.0M164.5 448.5h2.0M164.5 454h2.0M164.5 457.5h2.0M164.5 459h2.0M164.5 460h2.0M164.5 470h2.0M164.5 470.5h2.0M164.5 471.5h2.0M164.5 478h2.0M164.5 481h2.0M164.5 481.5h2.0M164.5 483.5h2.0M164.5 486.5h2.0M164.5 488h2.0M164.5 488.5h2.0M164.5 489.5h2.0M164.5 493h2.0M164.5 498.5h2.0M165 375.5h2.0M165 396.5h2.0M165 401.5h2.0M165 402h2.0M165 407h2.0M165 410.5h2.0M165 412.5h2.0M165 431h2.0M165 431.5h2.0M165 433h2.0M165 442h2.0M165 443.5h2.0M165 446h2.0M165 447h2.0M165 453h2.0M165 455.5h2.0M165 456.5h2.0M165 460.5h2.0M165 464h2.0M165 466h2.0M165 470h2.0M165 470.5h2.0M165 472.5h2.0M165 475h2.0M165 478.5h2.0M165 479h2.0M165 498h2.0M165.5 376h2.0M165.5 381h2.0M165.5 382h2.0M165.5 387h2.0M165.5 389h2.0M165.5 393h2.0M165.5 393.5h2.0M165.5 397h2.0M165.5 400.5h2.0M165.5 407h2.0M165.5 410h2.0M165.5 411h2.0M165.5 423h2.0M165.5 425h2.0M165.5 428.5h2.0M165.5 431h2.0M165.5 434h2.0M165.5 438.5h2.0M165.5 440h2.0M165.5 449.5h2.0M165.5 453.5h2.0M165.5 462h2.0M165.5 462.5h2.0M165.5 472h2.0M165.5 475h2.0M165.5 478.5h2.0M165.5 482.5h2.0M165.5 497h2.0M165.5 498.5h2.0M166 373h2.0M166 376.5h2.0M166 384.5h2.0M166 385h2.0M166 394h2.0M166 395h2.0M166 396.5h2.0M166 398h2.0M166 399h2.0M166 425.5h2.0M166 426h2.0M166 433.5h2.0M166 434.5h2.0M166 435.5h2.0M166 436h2.0M166 439h2.0M166 442.5h2.0M166 449.5h2.0M166 450.5h2.0M166 454h2.0M166 455.5h2.0M166 456h2.0M166 457.5h2.0M166 460h2.0M166 460.5h2.0M166 464h2.0M166 469.5h2.0M166 470.5h2.0M166 471.5h2.0M166 485h2.0M166 494.5h2.0M166.5 365.5h2.0M166.5 369.5h2.0M166.5 370h2.0M166.5 384.5h2.0M166.5 386.5h2.0M166.5 389.5h2.0M166.5 392.5h2.0M166.5 398h2.0M166.5 402h2.0M166.5 404h2.0M166.5 412.5h2.0M166.5 415h2.0M166.5 417.5h2.0M166.5 420h2.0M166.5 423h2.0M166.5 428h2.0M166.5 431h2.0M166.5 433h2.0M166.5 434h2.0M166.5 436h2.0M166.5 441h2.0M166.5 441.5h2.0M166.5 443h2.0M166.5 443.5h2.0M166.5 444.5h2.0M166.5 445h2.0M166.5 446.5h2.0M166.5 447.5h2.0M166.5 450h2.0M166.5 451.5h2.0M166.5 461h2.0M166.5 462.5h2.0M166.5 463.5h2.0M166.5 472.5h2.0M166.5 473.5h2.0M166.5 477.5h2.0M166.5 480.5h2.0M166.5 483h2.0M166.5 487h2.0M166.5 495h2.0M166.5 498.5h2.0M167 366h2.0M167 368.5h2.0M167 384.5h2.0M167 388.5h2.0M167 389.5h2.0M167 404.5h2.0M167 406h2.0M167 406.5h2.0M167 426h2.0M167 429h2.0M167 430.5h2.0M167 432h2.0M167 434h2.0M167 435h2.0M167 435.5h2.0M167 440.5h2.0M167 441.5h2.0M167 443h2.0M167 444.5h2.0M167 455h2.0M167 462.5h2.0M167 468.5h2.0M167 469.5h2.0M167 470.5h2.0M167 471.5h2.0M167 478.5h2.0M167 481h2.0M167 482h2.0M167 483h2.0M167 492.5h2.0M167 495.5h2.0M167 497.5h2.0M167.5 368.5h2.0M167.5 369.5h2.0M167.5 375h2.0M167.5 375.5h2.0M167.5 385.5h2.0M167.5 386h2.0M167.5 387h2.0M167.5 391h2.0M167.5 394.5h2.0M167.5 395h2.0M167.5 396.5h2.0M167.5 397h2.0M167.5 399h2.0M167.5 399.5h2.0M167.5 411h2.0M167.5 415.5h2.0M167.5 417.5h2.0M167.5 420.5h2.0M167.5 421.5h2.0M167.5 424.5h2.0M167.5 426h2.0M167.5 427h2.0M167.5 427.5h2.0M167.5 431.5h2.0M167.5 432.5h2.0M167.5 435h2.0M167.5 436h2.0M167.5 439h2.0M167.5 439.5h2.0M167.5 451.5h2.0M167.5 452h2.0M167.5 453.5h2.0M167.5 455.5h2.0M167.5 456.5h2.0M167.5 458.5h2.0M167.5 462h2.0M167.5 468.5h2.0M167.5 470h2.0M167.5 473.5h2.0M167.5 474.5h2.0M167.5 475.5h2.0M167.5 478.5h2.0M167.5 480h2.0M167.5 484h2.0M167.5 491.5h2.0M167.5 498.5h2.0M168 382h2.0M168 383.5h2.0M168 392h2.0M168 394.5h2.0M168 397h2.0M168 400.5h2.0M168 405.5h2.0M168 407.5h2.0M168 409h2.0M168 409.5h2.0M168 413h2.0M168 415.5h2.0M168 416.5h2.0M168 417.5h2.0M168 423.5h2.0M168 425h2.0M168 428.5h2.0M168 429.5h2.0M168 430.5h2.0M168 431h2.0M168 440.5h2.0M168 445h2.0M168 446h2.0M168 447h2.0M168 449.5h2.0M168 450h2.0M168 456h2.0M168 459h2.0M168 459.5h2.0M168 461.5h2.0M168 463h2.0M168 464h2.0M168 470.5h2.0M168 471.5h2.0M168 474.5h2.0M168 476.5h2.0M168 493.5h2.0M168 498.5h2.0M168.5 364.5h2.0M168.5 367h2.0M168.5 367.5h2.0M168.5 369.5h2.0M168.5 378h2.0M168.5 379.5h2.0M168.5 380.5h2.0M168.5 381.5h2.0M168.5 382.5h2.0M168.5 389h2.0M168.5 390h2.0M168.5 395.5h2.0M168.5 396.5h2.0M168.5 397.5h2.0M168.5 402h2.0M168.5 404.5h2.0M168.5 405.5h2.0M168.5 407.5h2.0M168.5 410h2.0M168.5 413h2.0M168.5 415.5h2.0M168.5 425.5h2.0M168.5 426.5h2.0M168.5 430h2.0M168.5 431.5h2.0M168.5 434.5h2.0M168.5 437h2.0M168.5 437.5h2.0M168.5 440.5h2.0M168.5 441h2.0M168.5 446.5h2.0M168.5 447.5h2.0M168.5 448.5h2.0M168.5 450h2.0M168.5 452.5h2.0M168.5 453h2.0M168.5 456h2.0M168.5 457.5h2.0M168.5 459.5h2.0M168.5 464h2.0M168.5 468h2.0M168.5 476h2.0M168.5 476.5h2.0M168.5 488h2.0M169 366h2.0M169 369h2.0M169 371h2.0M169 372.5h2.0M169 373h2.0M169 378h2.0M169 380h2.0M169 385h2.0M169 386h2.0M169 386.5h2.0M169 387.5h2.0M169 388.5h2.0M169 389h2.0M169 399.5h2.0M169 400h2.0M169 401.5h2.0M169 404h2.0M169 406h2.0M169 410.5h2.0M169 414.5h2.0M169 415.5h2.0M169 417h2.0M169 418.5h2.0M169 425.5h2.0M169 436.5h2.0M169 438h2.0M169 439h2.0M169 439.5h2.0M169 440.5h2.0M169 443h2.0M169 443.5h2.0M169 445h2.0M169 451.5h2.0M169 455.5h2.0M169 456h2.0M169 457.5h2.0M169 459h2.0M169 464.5h2.0M169 469h2.0M169 472h2.0M169 472.5h2.0M169 473h2.0M169 475h2.0M169 477h2.0M169 481h2.0M169 481.5h2.0M169 484h2.0M169 485h2.0M169 489h2.0M169 489.5h2.0M169 490.5h2.0M169 496.5h2.0M169 498.5h2.0M169.5 364h2.0M169.5 375h2.0M169.5 375.5h2.0M169.5 376.5h2.0M169.5 377h2.0M169.5 381.5h2.0M169.5 383.5h2.0M169.5 384h2.0M169.5 387h2.0M169.5 391h2.0M169.5 392.5h2.0M169.5 396h2.0M169.5 399h2.0M169.5 400.5h2.0M169.5 403.5h2.0M169.5 413.5h2.0M169.5 414h2.0M169.5 419h2.0M169.5 424.5h2.0M169.5 425h2.0M169.5 427h2.0M169.5 428.5h2.0M169.5 433h2.0M169.5 434.5h2.0M169.5 435.5h2.0M169.5 438h2.0M169.5 438.5h2.0M169.5 439.5h2.0M169.5 440h2.0M169.5 441h2.0M169.5 443.5h2.0M169.5 446h2.0M169.5 447.5h2.0M169.5 448.5h2.0M169.5 452.5h2.0M169.5 454.5h2.0M169.5 455h2.0M169.5 457h2.0M169.5 461.5h2.0M169.5 462.5h2.0M169.5 466.5h2.0M169.5 469h2.0M169.5 469.5h2.0M169.5 470h2.0M169.5 473h2.0M169.5 475h2.0M169.5 475.5h2.0M169.5 477.5h2.0M169.5 481h2.0M169.5 481.5h2.0M169.5 483.5h2.0M169.5 488.5h2.0M169.5 495h2.0M169.5 498h2.0M169.5 498.5h2.0M170 363.5h2.0M170 367h2.0M170 372h2.0M170 372.5h2.0M170 373.5h2.0M170 385h2.0M170 389h2.0M170 389.5h2.0M170 391.5h2.0M170 392.5h2.0M170 393h2.0M170 396.5h2.0M170 399h2.0M170 405h2.0M170 407h2.0M170 407.5h2.0M170 409.5h2.0M170 414.5h2.0M170 420h2.0M170 436h2.0M170 441.5h2.0M170 442h2.0M170 444h2.0M170 446.5h2.0M170 448.5h2.0M170 454.5h2.0M170 471h2.0M170 471.5h2.0M170 474h2.0M170 476.5h2.0M170 481.5h2.0M170 484h2.0M170 487h2.0M170 498h2.0M170.5 370h2.0M170.5 376.5h2.0M170.5 384h2.0M170.5 386.5h2.0M170.5 388.5h2.0M170.5 390.5h2.0M170.5 391.5h2.0M170.5 392.5h2.0M170.5 393.5h2.0M170.5 394h2.0M170.5 398h2.0M170.5 402.5h2.0M170.5 403h2.0M170.5 404.5h2.0M170.5 405.5h2.0M170.5 406.5h2.0M170.5 408h2.0M170.5 409h2.0M170.5 412.5h2.0M170.5 413h2.0M170.5 414h2.0M170.5 415h2.0M170.5 426h2.0M170.5 427.5h2.0M170.5 430h2.0M170.5 431.5h2.0M170.5 432h2.0M170.5 434.5h2.0M170.5 437h2.0M170.5 437.5h2.0M170.5 441h2.0M170.5 441.5h2.0M170.5 444.5h2.0M170.5 446.5h2.0M170.5 448.5h2.0M170.5 449h2.0M170.5 451.5h2.0M170.5 452h2.0M170.5 455h2.0M170.5 459.5h2.0M170.5 468.5h2.0M170.5 469h2.0M170.5 484h2.0M170.5 485h2.0M170.5 486h2.0M170.5 491.5h2.0M170.5 497h2.0M170.5 498.5h2.0M171 370h2.0M171 371.5h2.0M171 376h2.0M171 377h2.0M171 382.5h2.0M171 386h2.0M171 386.5h2.0M171 389h2.0M171 392.5h2.0M171 393h2.0M171 397h2.0M171 399h2.0M171 399.5h2.0M171 400h2.0M171 404h2.0M171 404.5h2.0M171 405.5h2.0M171 407h2.0M171 413h2.0M171 413.5h2.0M171 418.5h2.0M171 422h2.0M171 424h2.0M171 427h2.0M171 428.5h2.0M171 430h2.0M171 432h2.0M171 433h2.0M171 433.5h2.0M171 435h2.0M171 436h2.0M171 436.5h2.0M171 440.5h2.0M171 442h2.0M171 442.5h2.0M171 446h2.0M171 449h2.0M171 449.5h2.0M171 453h2.0M171 456.5h2.0M171 457h2.0M171 459.5h2.0M171 463h2.0M171 467h2.0M171 471h2.0M171 474.5h2.0M171 476h2.0M171 479.5h2.0M171 492h2.0M171.5 362.5h2.0M171.5 365h2.0M171.5 366.5h2.0M171.5 378.5h2.0M171.5 387h2.0M171.5 387.5h2.0M171.5 390.5h2.0M171.5 393h2.0M171.5 394h2.0M171.5 397.5h2.0M171.5 400h2.0M171.5 401.5h2.0M171.5 403h2.0M171.5 406h2.0M171.5 407h2.0M171.5 408h2.0M171.5 412.5h2.0M171.5 413.5h2.0M171.5 415.5h2.0M171.5 418.5h2.0M171.5 419h2.0M171.5 421h2.0M171.5 421.5h2.0M171.5 424.5h2.0M171.5 426h2.0M171.5 426.5h2.0M171.5 432h2.0M171.5 433h2.0M171.5 435.5h2.0M171.5 436h2.0M171.5 438h2.0M171.5 440h2.0M171.5 442.5h2.0M171.5 445h2.0M171.5 446.5h2.0M171.5 449.5h2.0M171.5 450.5h2.0M171.5 455h2.0M171.5 456h2.0M171.5 465.5h2.0M171.5 466.5h2.0M171.5 467h2.0M171.5 486h2.0M171.5 493.5h2.0M171.5 494h2.0M171.5 494.5h2.0M171.5 498.5h2.0M172 366h2.0M172 370h2.0M172 377.5h2.0M172 381h2.0M172 384h2.0M172 387.5h2.0M172 388h2.0M172 390h2.0M172 393h2.0M172 398.5h2.0M172 402h2.0M172 402.5h2.0M172 410h2.0M172 411.5h2.0M172 412.5h2.0M172 417h2.0M172 418h2.0M172 423.5h2.0M172 424h2.0M172 427h2.0M172 429h2.0M172 429.5h2.0M172 431h2.0M172 431.5h2.0M172 432.5h2.0M172 435.5h2.0M172 436.5h2.0M172 438.5h2.0M172 439.5h2.0M172 443h2.0M172 443.5h2.0M172 444h2.0M172 444.5h2.0M172 446.5h2.0M172 448.5h2.0M172 450h2.0M172 451.5h2.0M172 454h2.0M172 454.5h2.0M172 457.5h2.0M172 459h2.0M172 468h2.0M172 470.5h2.0M172 480.5h2.0M172 486.5h2.0M172 488h2.0M172 489.5h2.0M172 495h2.0M172 497.5h2.0M172.5 347.5h2.0M172.5 366.5h2.0M172.5 370.5h2.0M172.5 379h2.0M172.5 379.5h2.0M172.5 380.5h2.0M172.5 382h2.0M172.5 386h2.0M172.5 387h2.0M172.5 388.5h2.0M172.5 391.5h2.0M172.5 392h2.0M172.5 394h2.0M172.5 394.5h2.0M172.5 396h2.0M172.5 396.5h2.0M172.5 400.5h2.0M172.5 402.5h2.0M172.5 405h2.0M172.5 408.5h2.0M172.5 410h2.0M172.5 411.5h2.0M172.5 413h2.0M172.5 415h2.0M172.5 417.5h2.0M172.5 419.5h2.0M172.5 421.5h2.0M172.5 422.5h2.0M172.5 425.5h2.0M172.5 426.5h2.0M172.5 427h2.0M172.5 428h2.0M172.5 430.5h2.0M172.5 437.5h2.0M172.5 443.5h2.0M172.5 444h2.0M172.5 448h2.0M172.5 451h2.0M172.5 452.5h2.0M172.5 456h2.0M172.5 460.5h2.0M172.5 463.5h2.0M172.5 474.5h2.0M172.5 475h2.0M172.5 479.5h2.0M172.5 481.5h2.0M172.5 483.5h2.0M172.5 484h2.0M172.5 493.5h2.0M172.5 496.5h2.0M173 362h2.0M173 365.5h2.0M173 367h2.0M173 370h2.0M173 372.5h2.0M173 375.5h2.0M173 377h2.0M173 380h2.0M173 382h2.0M173 384h2.0M173 385h2.0M173 387h2.0M173 388.5h2.0M173 390.5h2.0M173 391.5h2.0M173 392h2.0M173 393.5h2.0M173 401h2.0M173 402h2.0M173 403h2.0M173 408h2.0M173 409h2.0M173 410.5h2.0M173 411.5h2.0M173 413h2.0M173 417h2.0M173 417.5h2.0M173 418h2.0M173 418.5h2.0M173 420.5h2.0M173 425h2.0M173 425.5h2.0M173 426h2.0M173 427h2.0M173 433.5h2.0M173 435h2.0M173 438h2.0M173 443h2.0M173 447h2.0M173 448h2.0M173 449h2.0M173 451h2.0M173 454h2.0M173 456h2.0M173 456.5h2.0M173 458.5h2.0M173 459h2.0M173 462h2.0M173 463h2.0M173 464h2.0M173 467.5h2.0M173 469.5h2.0M173 473.5h2.0M173 476h2.0M173 477.5h2.0M173 479.5h2.0M173 483.5h2.0M173 484.5h2.0M173 490.5h2.0M173 491h2.0M173 494h2.0M173 497h2.0M173 498.5h2.0M173.5 356.5h2.0M173.5 366.5h2.0M173.5 367h2.0M173.5 371.5h2.0M173.5 372.5h2.0M173.5 377h2.0M173.5 378h2.0M173.5 379.5h2.0M173.5 381h2.0M173.5 383.5h2.0M173.5 386.5h2.0M173.5 387h2.0M173.5 389h2.0M173.5 389.5h2.0M173.5 390.5h2.0M173.5 395.5h2.0M173.5 400.5h2.0M173.5 401h2.0M173.5 401.5h2.0M173.5 402.5h2.0M173.5 405h2.0M173.5 406.5h2.0M173.5 408h2.0M173.5 409h2.0M173.5 412h2.0M173.5 417h2.0M173.5 418.5h2.0M173.5 423h2.0M173.5 424h2.0M173.5 424.5h2.0M173.5 425h2.0M173.5 426.5h2.0M173.5 427.5h2.0M173.5 430.5h2.0M173.5 434h2.0M173.5 435h2.0M173.5 438h2.0M173.5 442h2.0M173.5 444h2.0M173.5 446h2.0M173.5 455.5h2.0M173.5 459.5h2.0M173.5 460.5h2.0M173.5 462.5h2.0M173.5 464h2.0M173.5 471.5h2.0M173.5 480h2.0M173.5 481h2.0M173.5 481.5h2.0M173.5 483h2.0M173.5 483.5h2.0M173.5 484h2.0M173.5 484.5h2.0M173.5 488.5h2.0M173.5 493h2.0M173.5 494.5h2.0M174 347.5h2.0M174 363h2.0M174 370.5h2.0M174 371.5h2.0M174 379h2.0M174 380h2.0M174 381h2.0M174 382h2.0M174 383h2.0M174 386h2.0M174 388.5h2.0M174 390.5h2.0M174 394h2.0M174 397h2.0M174 397.5h2.0M174 399.5h2.0M174 400h2.0M174 401h2.0M174 401.5h2.0M174 402.5h2.0M174 404h2.0M174 405.5h2.0M174 407.5h2.0M174 409.5h2.0M174 413h2.0M174 413.5h2.0M174 414.5h2.0M174 423h2.0M174 424h2.0M174 427.5h2.0M174 429h2.0M174 432h2.0M174 434h2.0M174 441.5h2.0M174 444h2.0M174 445.5h2.0M174 447.5h2.0M174 448h2.0M174 449h2.0M174 452.5h2.0M174 453.5h2.0M174 454.5h2.0M174 472.5h2.0M174 477h2.0M174 479.5h2.0M174 482.5h2.0M174 486h2.0M174 488.5h2.0M174 493h2.0M174 496.5h2.0M174 498.5h2.0M174.5 363.5h2.0M174.5 365h2.0M174.5 366h2.0M174.5 370h2.0M174.5 373h2.0M174.5 375h2.0M174.5 376.5h2.0M174.5 379h2.0M174.5 380h2.0M174.5 382h2.0M174.5 382.5h2.0M174.5 384h2.0M174.5 385h2.0M174.5 386.5h2.0M174.5 387h2.0M174.5 391.5h2.0M174.5 392h2.0M174.5 395h2.0M174.5 396h2.0M174.5 398.5h2.0M174.5 399.5h2.0M174.5 400.5h2.0M174.5 402.5h2.0M174.5 406.5h2.0M174.5 407h2.0M174.5 408.5h2.0M174.5 415.5h2.0M174.5 416.5h2.0M174.5 417.5h2.0M174.5 418h2.0M174.5 421h2.0M174.5 422h2.0M174.5 424h2.0M174.5 432h2.0M174.5 432.5h2.0M174.5 440h2.0M174.5 440.5h2.0M174.5 446.5h2.0M174.5 447h2.0M174.5 448.5h2.0M174.5 450h2.0M174.5 450.5h2.0M174.5 459.5h2.0M174.5 460h2.0M174.5 462.5h2.0M174.5 464h2.0M174.5 464.5h2.0M174.5 469h2.0M174.5 473.5h2.0M174.5 480h2.0M174.5 491h2.0M174.5 495.5h2.0M174.5 498.5h2.0M175 364.5h2.0M175 369.5h2.0M175 370h2.0M175 371.5h2.0M175 379h2.0M175 380.5h2.0M175 386.5h2.0M175 387h2.0M175 391h2.0M175 397h2.0M175 398h2.0M175 398.5h2.0M175 400.5h2.0M175 403h2.0M175 405.5h2.0M175 408h2.0M175 416.5h2.0M175 418.5h2.0M175 423.5h2.0M175 425h2.0M175 426h2.0M175 427h2.0M175 428h2.0M175 433h2.0M175 436h2.0M175 440.5h2.0M175 441.5h2.0M175 442h2.0M175 443.5h2.0M175 445h2.0M175 448h2.0M175 452h2.0M175 452.5h2.0M175 454h2.0M175 457.5h2.0M175 458.5h2.0M175 464.5h2.0M175 468h2.0M175 473h2.0M175 474.5h2.0M175 477h2.0M175 493h2.0M175 497.5h2.0M175.5 350h2.0M175.5 355.5h2.0M175.5 368h2.0M175.5 369h2.0M175.5 379h2.0M175.5 393.5h2.0M175.5 394h2.0M175.5 398.5h2.0M175.5 400.5h2.0M175.5 404.5h2.0M175.5 406.5h2.0M175.5 410.5h2.0M175.5 413.5h2.0M175.5 417h2.0M175.5 418h2.0M175.5 418.5h2.0M175.5 419.5h2.0M175.5 420h2.0M175.5 434.5h2.0M175.5 435.5h2.0M175.5 437.5h2.0M175.5 442.5h2.0M175.5 444.5h2.0M175.5 456h2.0M175.5 457h2.0M175.5 459.5h2.0M175.5 471.5h2.0M175.5 477h2.0M175.5 480.5h2.0M175.5 482.5h2.0M176 363.5h2.0M176 364h2.0M176 370h2.0M176 371h2.0M176 376.5h2.0M176 378h2.0M176 385h2.0M176 398.5h2.0M176 400.5h2.0M176 402h2.0M176 415h2.0M176 416h2.0M176 416.5h2.0M176 419h2.0M176 420h2.0M176 420.5h2.0M176 422.5h2.0M176 425h2.0M176 430h2.0M176 432h2.0M176 440.5h2.0M176 441h2.0M176 444h2.0M176 445h2.0M176 446.5h2.0M176 451h2.0M176 452h2.0M176 453h2.0M176 453.5h2.0M176 455h2.0M176 456h2.0M176 456.5h2.0M176 457h2.0M176 457.5h2.0M176 460.5h2.0M176 461h2.0M176 467.5h2.0M176 468.5h2.0M176 474.5h2.0M176 484h2.0M176 485.5h2.0M176 488.5h2.0M176 494.5h2.0M176 498.5h2.0M176.5 368.5h2.0M176.5 370h2.0M176.5 370.5h2.0M176.5 373h2.0M176.5 377h2.0M176.5 382.5h2.0M176.5 385.5h2.0M176.5 392.5h2.0M176.5 396.5h2.0M176.5 397h2.0M176.5 398.5h2.0M176.5 399.5h2.0M176.5 401.5h2.0M176.5 403h2.0M176.5 404.5h2.0M176.5 408h2.0M176.5 417.5h2.0M176.5 418h2.0M176.5 423.5h2.0M176.5 425h2.0M176.5 426h2.0M176.5 431.5h2.0M176.5 432.5h2.0M176.5 433h2.0M176.5 435h2.0M176.5 437h2.0M176.5 438.5h2.0M176.5 440h2.0M176.5 440.5h2.0M176.5 443h2.0M176.5 445.5h2.0M176.5 447h2.0M176.5 450.5h2.0M176.5 454.5h2.0M176.5 462.5h2.0M176.5 466.5h2.0M176.5 471.5h2.0M176.5 473.5h2.0M176.5 480.5h2.0M176.5 486h2.0M176.5 488.5h2.0M176.5 498h2.0M177 365h2.0M177 367.5h2.0M177 371.5h2.0M177 375.5h2.0M177 376h2.0M177 381h2.0M177 381.5h2.0M177 384.5h2.0M177 385h2.0M177 387h2.0M177 390.5h2.0M177 396h2.0M177 399h2.0M177 406.5h2.0M177 409h2.0M177 409.5h2.0M177 412.5h2.0M177 414h2.0M177 415.5h2.0M177 416h2.0M177 417h2.0M177 427h2.0M177 430.5h2.0M177 432.5h2.0M177 442h2.0M177 445.5h2.0M177 446h2.0M177 447h2.0M177 450.5h2.0M177 455h2.0M177 458.5h2.0M177 459.5h2.0M177 462.5h2.0M177 464.5h2.0M177 466.5h2.0M177 469h2.0M177 472h2.0M177 475.5h2.0M177 476h2.0M177 486.5h2.0M177 489h2.0M177 498.5h2.0M177.5 358h2.0M177.5 362h2.0M177.5 366h2.0M177.5 370h2.0M177.5 370.5h2.0M177.5 371.5h2.0M177.5 376h2.0M177.5 377.5h2.0M177.5 381h2.0M177.5 382h2.0M177.5 386.5h2.0M177.5 389.5h2.0M177.5 392.5h2.0M177.5 393.5h2.0M177.5 396.5h2.0M177.5 398.5h2.0M177.5 403h2.0M177.5 403.5h2.0M177.5 405.5h2.0M177.5 406h2.0M177.5 411h2.0M177.5 415h2.0M177.5 417.5h2.0M177.5 418.5h2.0M177.5 419h2.0M177.5 421.5h2.0M177.5 426.5h2.0M177.5 428h2.0M177.5 429.5h2.0M177.5 430h2.0M177.5 435.5h2.0M177.5 436.5h2.0M177.5 441h2.0M177.5 445h2.0M177.5 446.5h2.0M177.5 448.5h2.0M177.5 450.5h2.0M177.5 452.5h2.0M177.5 456h2.0M177.5 458h2.0M177.5 459h2.0M177.5 465h2.0M177.5 469h2.0M177.5 473.5h2.0M177.5 498.5h2.0M178 367.5h2.0M178 369h2.0M178 370h2.0M178 371.5h2.0M178 372.5h2.0M178 379.5h2.0M178 381h2.0M178 381.5h2.0M178 384h2.0M178 387.5h2.0M178 390.5h2.0M178 392h2.0M178 397.5h2.0M178 399.5h2.0M178 402h2.0M178 403.5h2.0M178 404.5h2.0M178 405h2.0M178 412.5h2.0M178 417.5h2.0M178 418.5h2.0M178 421.5h2.0M178 423.5h2.0M178 424h2.0M178 428.5h2.0M178 430h2.0M178 433h2.0M178 434h2.0M178 434.5h2.0M178 440h2.0M178 441.5h2.0M178 444.5h2.0M178 450h2.0M178 454.5h2.0M178 455h2.0M178 458.5h2.0M178 459h2.0M178 472h2.0M178 475.5h2.0M178 478.5h2.0M178.5 364h2.0M178.5 367.5h2.0M178.5 371h2.0M178.5 372.5h2.0M178.5 380h2.0M178.5 380.5h2.0M178.5 385.5h2.0M178.5 390h2.0M178.5 395h2.0M178.5 395.5h2.0M178.5 396h2.0M178.5 397h2.0M178.5 398h2.0M178.5 400h2.0M178.5 402h2.0M178.5 404h2.0M178.5 405.5h2.0M178.5 406.5h2.0M178.5 410.5h2.0M178.5 411.5h2.0M178.5 415.5h2.0M178.5 417.5h2.0M178.5 420.5h2.0M178.5 421.5h2.0M178.5 427.5h2.0M178.5 431h2.0M178.5 436.5h2.0M178.5 438h2.0M178.5 439.5h2.0M178.5 440.5h2.0M178.5 443.5h2.0M178.5 444.5h2.0M178.5 453.5h2.0M178.5 455.5h2.0M178.5 456h2.0M178.5 457.5h2.0M178.5 464.5h2.0M178.5 474h2.0M178.5 478.5h2.0M178.5 481.5h2.0M178.5 485h2.0M178.5 486h2.0M178.5 487h2.0M178.5 492h2.0M178.5 497h2.0M179 363.5h2.0M179 367.5h2.0M179 378h2.0M179 384h2.0M179 385h2.0M179 386.5h2.0M179 393.5h2.0M179 394.5h2.0M179 397h2.0M179 398.5h2.0M179 402h2.0M179 407h2.0M179 408h2.0M179 408.5h2.0M179 409.5h2.0M179 411.5h2.0M179 412h2.0M179 415h2.0M179 415.5h2.0M179 416h2.0M179 416.5h2.0M179 422h2.0M179 423.5h2.0M179 425.5h2.0M179 428h2.0M179 428.5h2.0M179 433h2.0M179 438h2.0M179 438.5h2.0M179 439h2.0M179 443h2.0M179 445.5h2.0M179 446h2.0M179 446.5h2.0M179 448h2.0M179 449h2.0M179 465.5h2.0M179 468.5h2.0M179 471.5h2.0M179 473h2.0M179 478.5h2.0M179 479h2.0M179 489h2.0M179.5 373.5h2.0M179.5 377.5h2.0M179.5 383h2.0M179.5 383.5h2.0M179.5 384h2.0M179.5 386h2.0M179.5 390.5h2.0M179.5 393h2.0M179.5 394h2.0M179.5 396.5h2.0M179.5 398.5h2.0M179.5 399.5h2.0M179.5 400h2.0M179.5 401.5h2.0M179.5 402.5h2.0M179.5 407.5h2.0M179.5 411.5h2.0M179.5 413.5h2.0M179.5 415h2.0M179.5 416h2.0M179.5 424h2.0M179.5 425h2.0M179.5 427.5h2.0M179.5 429h2.0M179.5 434h2.0M179.5 436h2.0M179.5 441h2.0M179.5 442.5h2.0M179.5 445h2.0M179.5 446.5h2.0M179.5 447h2.0M179.5 451h2.0M179.5 456h2.0M179.5 456.5h2.0M179.5 461.5h2.0M179.5 467h2.0M179.5 471.5h2.0M179.5 473.5h2.0M179.5 475h2.0M179.5 477h2.0M179.5 481h2.0M180 369h2.0M180 373h2.0M180 377.5h2.0M180 378h2.0M180 381h2.0M180 393h2.0M180 395h2.0M180 397.5h2.0M180 401h2.0M180 408h2.0M180 408.5h2.0M180 409h2.0M180 414h2.0M180 414.5h2.0M180 417.5h2.0M180 419h2.0M180 420h2.0M180 422h2.0M180 424.5h2.0M180 433h2.0M180 436h2.0M180 436.5h2.0M180 439h2.0M180 441.5h2.0M180 453.5h2.0M180 454.5h2.0M180 458h2.0M180 459.5h2.0M180 460.5h2.0M180 462.5h2.0M180 463h2.0M180 463.5h2.0M180 465.5h2.0M180 468.5h2.0M180 474h2.0M180 487h2.0M180 487.5h2.0M180.5 364.5h2.0M180.5 368h2.0M180.5 370.5h2.0M180.5 374.5h2.0M180.5 379h2.0M180.5 382h2.0M180.5 383h2.0M180.5 383.5h2.0M180.5 384.5h2.0M180.5 385.5h2.0M180.5 386h2.0M180.5 389.5h2.0M180.5 396.5h2.0M180.5 397h2.0M180.5 397.5h2.0M180.5 410.5h2.0M180.5 413h2.0M180.5 418h2.0M180.5 429h2.0M180.5 431.5h2.0M180.5 432.5h2.0M180.5 435.5h2.0M180.5 439h2.0M180.5 440.5h2.0M180.5 446.5h2.0M180.5 451h2.0M180.5 473h2.0M180.5 475.5h2.0M180.5 476h2.0M180.5 485h2.0M180.5 493.5h2.0M181 372.5h2.0M181 374.5h2.0M181 381h2.0M181 383h2.0M181 384.5h2.0M181 389.5h2.0M181 394.5h2.0M181 395.5h2.0M181 401.5h2.0M181 404h2.0M181 408h2.0M181 409h2.0M181 413h2.0M181 416h2.0M181 416.5h2.0M181 421h2.0M181 421.5h2.0M181 422.5h2.0M181 431h2.0M181 437.5h2.0M181 438h2.0M181 443h2.0M181 444h2.0M181 446h2.0M181 448.5h2.0M181 451.5h2.0M181 455h2.0M181 460h2.0M181 461.5h2.0M181 463h2.0M181 464.5h2.0M181 470.5h2.0M181 484h2.0M181 487.5h2.0M181.5 370.5h2.0M181.5 373h2.0M181.5 381h2.0M181.5 390h2.0M181.5 391.5h2.0M181.5 392h2.0M181.5 393.5h2.0M181.5 397.5h2.0M181.5 401h2.0M181.5 404h2.0M181.5 407.5h2.0M181.5 412h2.0M181.5 415h2.0M181.5 420.5h2.0M181.5 425h2.0M181.5 430.5h2.0M181.5 431.5h2.0M181.5 432.5h2.0M181.5 433.5h2.0M181.5 434h2.0M181.5 442.5h2.0M181.5 446.5h2.0M181.5 447.5h2.0M181.5 448.5h2.0M181.5 451h2.0M181.5 452h2.0M181.5 454.5h2.0M181.5 457h2.0M181.5 467h2.0M181.5 472h2.0M181.5 473h2.0M181.5 473.5h2.0M181.5 480.5h2.0M181.5 498.5h2.0M182 364.5h2.0M182 371.5h2.0M182 376.5h2.0M182 377h2.0M182 380.5h2.0M182 381h2.0M182 381.5h2.0M182 384h2.0M182 388h2.0M182 393.5h2.0M182 402h2.0M182 404.5h2.0M182 411h2.0M182 419.5h2.0M182 423h2.0M182 433.5h2.0M182 435.5h2.0M182 441h2.0M182 442h2.0M182 455h2.0M182.5 371h2.0M182.5 375h2.0M182.5 379.5h2.0M182.5 380.5h2.0M182.5 382.5h2.0M182.5 383.5h2.0M182.5 384.5h2.0M182.5 394.5h2.0M182.5 402h2.0M182.5 407h2.0M182.5 415h2.0M182.5 420h2.0M182.5 420.5h2.0M182.5 421h2.0M182.5 424.5h2.0M182.5 425.5h2.0M182.5 427.5h2.0M182.5 435.5h2.0M182.5 436h2.0M182.5 448.5h2.0M182.5 453.5h2.0M182.5 463h2.0M182.5 463.5h2.0M182.5 465.5h2.0M182.5 498.5h2.0M183 384.5h2.0M183 386h2.0M183 387.5h2.0M183 388h2.0M183 395h2.0M183 400h2.0M183 402.5h2.0M183 403.5h2.0M183 414.5h2.0M183 417h2.0M183 424.5h2.0M183 430h2.0M183 432h2.0M183 440h2.0M183 444h2.0M183 448.5h2.0M183 449.5h2.0M183 461h2.0M183 464h2.0M183 473.5h2.0M183 482.5h2.0M183 498.5h2.0M183.5 363.5h2.0M183.5 374h2.0M183.5 379h2.0M183.5 381h2.0M183.5 383.5h2.0M183.5 384h2.0M183.5 384.5h2.0M183.5 393h2.0M183.5 393.5h2.0M183.5 408.5h2.0M183.5 410.5h2.0M183.5 413.5h2.0M183.5 415.5h2.0M183.5 422h2.0M183.5 423h2.0M183.5 429h2.0M183.5 436h2.0M183.5 454.5h2.0M183.5 469h2.0M183.5 470h2.0M183.5 497.5h2.0M184 381h2.0M184 382h2.0M184 384.5h2.0M184 393h2.0M184 393.5h2.0M184 405h2.0M184 408h2.0M184 410.5h2.0M184 412.5h2.0M184 415h2.0M184 417h2.0M184 428.5h2.0M184 432h2.0M184 441.5h2.0M184 446h2.0M184 447.5h2.0M184 451h2.0M184 454h2.0M184 457.5h2.0M184 458.5h2.0M184 459.5h2.0M184 470.5h2.0M184 475.5h2.0M184 476h2.0M184.5 375h2.0M184.5 398.5h2.0M184.5 401h2.0M184.5 401.5h2.0M184.5 417h2.0M184.5 426h2.0M184.5 434h2.0M184.5 434.5h2.0M184.5 436.5h2.0M184.5 437.5h2.0M184.5 440h2.0M184.5 440.5h2.0M184.5 443h2.0M184.5 450.5h2.0M184.5 451.5h2.0M184.5 459h2.0M184.5 471.5h2.0M184.5 481h2.0M184.5 489.5h2.0M184.5 494h2.0M184.5 498.5h2.0M185 376.5h2.0M185 377.5h2.0M185 394.5h2.0M185 395h2.0M185 402h2.0M185 404h2.0M185 406h2.0M185 406.5h2.0M185 408.5h2.0M185 416.5h2.0M185 418h2.0M185 421h2.0M185 426h2.0M185 436h2.0M185 440h2.0M185 449h2.0M185 452.5h2.0M185 453h2.0M185 475h2.0M185.5 374h2.0M185.5 379.5h2.0M185.5 388h2.0M185.5 391h2.0M185.5 399h2.0M185.5 401h2.0M185.5 404h2.0M185.5 410.5h2.0M185.5 429h2.0M185.5 430h2.0M185.5 440h2.0M185.5 441.5h2.0M185.5 451.5h2.0M185.5 469.5h2.0M185.5 488.5h2.0M185.5 489.5h2.0M186 380h2.0M186 381.5h2.0M186 384h2.0M186 386h2.0M186 393h2.0M186 395h2.0M186 438.5h2.0M186 439.5h2.0M186 441h2.0M186 441.5h2.0M186 449h2.0M186 455h2.0M186 496h2.0M186.5 375.5h2.0M186.5 396.5h2.0M186.5 404h2.0M186.5 408.5h2.0M186.5 415h2.0M186.5 423h2.0M186.5 423.5h2.0M186.5 426h2.0M186.5 427.5h2.0M186.5 428.5h2.0M186.5 438h2.0M186.5 441h2.0M186.5 441.5h2.0M186.5 442.5h2.0M186.5 454h2.0M186.5 467h2.0M186.5 469.5h2.0M186.5 491h2.0M186.5 498.5h2.0M187 394.5h2.0M187 395.5h2.0M187 403.5h2.0M187 412h2.0M187 419.5h2.0M187 423h2.0M187 427h2.0M187 432h2.0M187 437.5h2.0M187 446.5h2.0M187 450.5h2.0M187 451h2.0M187 457.5h2.0M187 458.5h2.0M187 472.5h2.0M187 474.5h2.0M187 481.5h2.0M187 483h2.0M187.5 372h2.0M187.5 374.5h2.0M187.5 381.5h2.0M187.5 382h2.0M187.5 412.5h2.0M187.5 413.5h2.0M187.5 414.5h2.0M187.5 428.5h2.0M187.5 431.5h2.0M187.5 461.5h2.0M187.5 464.5h2.0M187.5 468.5h2.0M188 374.5h2.0M188 380.5h2.0M188 396h2.0M188 400.5h2.0M188 404h2.0M188 430h2.0M188 446h2.0M188 451.5h2.0M188 470h2.0M188 477h2.0M188 485.5h2.0M188.5 388h2.0M188.5 404h2.0M188.5 423.5h2.0M188.5 425.5h2.0M188.5 455h2.0M189 379h2.0M189 386h2.0M189 389h2.0M189 392h2.0M189 414h2.0M189 417h2.0M189 420.5h2.0M189 429.5h2.0M189 452h2.0M189 464.5h2.0M189 488h2.0M189.5 379h2.0M189.5 381h2.0M189.5 413.5h2.0M189.5 415.5h2.0M189.5 427.5h2.0M189.5 443.5h2.0M189.5 448h2.0M189.5 460.5h2.0M189.5 464h2.0M189.5 471h2.0M189.5 475.5h2.0M190 374.5h2.0M190 385.5h2.0M190 386.5h2.0M190 396.5h2.0M190 397.5h2.0M190 427h2.0M190 428.5h2.0M190 431h2.0M190 464h2.0M190 484h2.0M190 485.5h2.0M190 488.5h2.0M190.5 367.5h2.0M190.5 415h2.0M190.5 423.5h2.0M190.5 443.5h2.0M190.5 456.5h2.0M190.5 474.5h2.0M191 361.5h2.0M191 379h2.0M191 416h2.0M191 420h2.0M191 427.5h2.0M191 429.5h2.0M191 435.5h2.0M191 449.5h2.0M191 452.5h2.0M191 457.5h2.0M191.5 398.5h2.0M191.5 404h2.0M191.5 407.5h2.0M191.5 411.5h2.0M191.5 413h2.0M191.5 415h2.0M191.5 431h2.0M191.5 436h2.0M191.5 446.5h2.0M191.5 453h2.0M191.5 457.5h2.0M191.5 498.5h2.0M192 385.5h2.0M192 419h2.0M192 427h2.0M192 442h2.0M192 447h2.0M192 455h2.0M192 489h2.0M192.5 375h2.0M192.5 394h2.0M192.5 399h2.0M192.5 419h2.0M192.5 426.5h2.0M192.5 442.5h2.0M192.5 455.5h2.0M192.5 457h2.0M192.5 458.5h2.0M192.5 469.5h2.0M192.5 479h2.0M192.5 480.5h2.0M193 406.5h2.0M193 418h2.0M193 427h2.0M193 427.5h2.0M193 430h2.0M193 439.5h2.0M193 448.5h2.0M193 455.5h2.0M193 466.5h2.0M193 494.5h2.0M193.5 415h2.0M193.5 424.5h2.0M193.5 426h2.0M193.5 431.5h2.0M193.5 438h2.0M193.5 440h2.0M193.5 445h2.0M193.5 451h2.0M193.5 471.5h2.0M193.5 482h2.0M193.5 498.5h2.0M194 398h2.0M194 414h2.0M194 414.5h2.0M194 432.5h2.0M194 433.5h2.0M194 440.5h2.0M194 443h2.0M194 455h2.0M194 468.5h2.0M194.5 377.5h2.0M194.5 400h2.0M194.5 410h2.0M194.5 424h2.0M194.5 428.5h2.0M194.5 432.5h2.0M194.5 436h2.0M194.5 441.5h2.0M194.5 444h2.0M194.5 467h2.0M194.5 479.5h2.0M194.5 498h2.0M195 408h2.0M195 444h2.0M195 452h2.0M195 469h2.0M195.5 401h2.0M195.5 404h2.0M195.5 412.5h2.0M195.5 416h2.0M195.5 425.5h2.0M195.5 437.5h2.0M195.5 498.5h2.0M196 404.5h2.0M196 418h2.0M196 423h2.0M196 424h2.0M196 429.5h2.0M196 433h2.0M196 451h2.0M196 452h2.0M196 453h2.0M196 456.5h2.0M196 459.5h2.0M196 495h2.0M196.5 378.5h2.0M196.5 402.5h2.0M196.5 422.5h2.0M196.5 430h2.0M196.5 455h2.0M196.5 460h2.0M196.5 463h2.0M196.5 466h2.0M196.5 492.5h2.0M197 422.5h2.0M197 437h2.0M197 442.5h2.0M197 451.5h2.0M197 455h2.0M197 463.5h2.0M197 465h2.0M197 471h2.0M197.5 400.5h2.0M197.5 406.5h2.0M197.5 422.5h2.0M197.5 426.5h2.0M197.5 427h2.0M197.5 435h2.0M197.5 439h2.0M197.5 439.5h2.0M197.5 458.5h2.0M197.5 461h2.0M197.5 462.5h2.0M197.5 470.5h2.0M198 399h2.0M198 410.5h2.0M198 418.5h2.0M198 425.5h2.0M198 427h2.0M198 452.5h2.0M198 456h2.0M198 461h2.0M198 473.5h2.0M198.5 417h2.0M198.5 423.5h2.0M198.5 424h2.0M198.5 431h2.0M198.5 432h2.0M198.5 434.5h2.0M198.5 436.5h2.0M198.5 439h2.0M198.5 459.5h2.0M198.5 465h2.0M199 417h2.0M199 426h2.0M199 426.5h2.0M199 427h2.0M199 428h2.0M199 431.5h2.0M199 432h2.0M199 435h2.0M199 438h2.0M199 443.5h2.0M199 444h2.0M199 444.5h2.0M199 446.5h2.0M199 448h2.0M199 451h2.0M199 457h2.0M199 458h2.0M199 466.5h2.0M199 468h2.0M199 489.5h2.0M199.5 406.5h2.0M199.5 407h2.0M199.5 416.5h2.0M199.5 418h2.0M199.5 421h2.0M199.5 431h2.0M199.5 433h2.0M199.5 439.5h2.0M199.5 443h2.0M199.5 457h2.0M199.5 459h2.0M199.5 475.5h2.0M199.5 487h2.0M199.5 492.5h2.0M200 408h2.0M200 411h2.0M200 411.5h2.0M200 416h2.0M200 422h2.0M200 423h2.0M200 428.5h2.0M200 432h2.0M200 433h2.0M200 434h2.0M200 435.5h2.0M200 436h2.0M200 437h2.0M200 441.5h2.0M200 447h2.0M200 449.5h2.0M200 450.5h2.0M200 452.5h2.0M200 457.5h2.0M200 459.5h2.0M200 460h2.0M200.5 400h2.0M200.5 403.5h2.0M200.5 409h2.0M200.5 414h2.0M200.5 427h2.0M200.5 436h2.0M200.5 437.5h2.0M200.5 440h2.0M200.5 449h2.0M200.5 456h2.0M200.5 464.5h2.0M200.5 465h2.0M200.5 471h2.0M200.5 471.5h2.0M200.5 483.5h2.0M200.5 487.5h2.0M201 405h2.0M201 407.5h2.0M201 411.5h2.0M201 415h2.0M201 417h2.0M201 420h2.0M201 421h2.0M201 421.5h2.0M201 428.5h2.0M201 431h2.0M201 434h2.0M201 434.5h2.0M201 436h2.0M201 438.5h2.0M201 443.5h2.0M201 451.5h2.0M201 452.5h2.0M201 469.5h2.0M201 471h2.0M201 472h2.0M201 480.5h2.0M201 482.5h2.0M201.5 396.5h2.0M201.5 406.5h2.0M201.5 409.5h2.0M201.5 412.5h2.0M201.5 416h2.0M201.5 429.5h2.0M201.5 437h2.0M201.5 439.5h2.0M201.5 444.5h2.0M201.5 455h2.0M201.5 456.5h2.0M201.5 462.5h2.0M201.5 465h2.0M201.5 465.5h2.0M201.5 467h2.0M201.5 473h2.0M201.5 486.5h2.0M202 405.5h2.0M202 413h2.0M202 414.5h2.0M202 425.5h2.0M202 426h2.0M202 431.5h2.0M202 433.5h2.0M202 442h2.0M202 445.5h2.0M202 446h2.0M202 450h2.0M202 452.5h2.0M202 456h2.0M202 462.5h2.0M202 465h2.0M202 467h2.0M202 484h2.0M202.5 400.5h2.0M202.5 406h2.0M202.5 418.5h2.0M202.5 451.5h2.0M202.5 459.5h2.0M202.5 461h2.0M202.5 466h2.0M203 412h2.0M203 413.5h2.0M203 417h2.0M203 418h2.0M203 425h2.0M203 426h2.0M203 426.5h2.0M203 434h2.0M203 440h2.0M203 449h2.0M203 451.5h2.0M203 453h2.0M203 453.5h2.0M203 456.5h2.0M203 457h2.0M203 459h2.0M203 459.5h2.0M203 474h2.0M203 488h2.0M203 498.5h2.0M203.5 375h2.0M203.5 408.5h2.0M203.5 421.5h2.0M203.5 422.5h2.0M203.5 425h2.0M203.5 425.5h2.0M203.5 427.5h2.0M203.5 430h2.0M203.5 444.5h2.0M203.5 447.5h2.0M203.5 448.5h2.0M203.5 462.5h2.0M203.5 464h2.0M203.5 473h2.0M203.5 482.5h2.0M203.5 489.5h2.0M203.5 498h2.0M204 403.5h2.0M204 406h2.0M204 424h2.0M204 428.5h2.0M204 429.5h2.0M204 435h2.0M204 436.5h2.0M204 445.5h2.0M204 448h2.0M204 452.5h2.0M204 453.5h2.0M204 456.5h2.0M204 459.5h2.0M204 465.5h2.0M204 468h2.0M204 468.5h2.0M204 494.5h2.0M204.5 396.5h2.0M204.5 411.5h2.0M204.5 423h2.0M204.5 425h2.0M204.5 429.5h2.0M204.5 433.5h2.0M204.5 436h2.0M204.5 437.5h2.0M204.5 440.5h2.0M204.5 444.5h2.0M204.5 456h2.0M204.5 457.5h2.0M205 411h2.0M205 417h2.0M205 422.5h2.0M205 424.5h2.0M205 425.5h2.0M205 427h2.0M205 430h2.0M205 435h2.0M205 436h2.0M205 444h2.0M205 445.5h2.0M205 451h2.0M205 452.5h2.0M205 454.5h2.0M205 465.5h2.0M205 467.5h2.0M205 474h2.0M205 477h2.0M205 479h2.0M205 498h2.0M205.5 413h2.0M205.5 418.5h2.0M205.5 438h2.0M205.5 450.5h2.0M205.5 453.5h2.0M205.5 465h2.0M205.5 469h2.0M206 403h2.0M206 427.5h2.0M206 431.5h2.0M206 437h2.0M206 437.5h2.0M206 443h2.0M206 444.5h2.0M206 448.5h2.0M206 450h2.0M206 452h2.0M206 453h2.0M206 482h2.0M206.5 416h2.0M206.5 418.5h2.0M206.5 421h2.0M206.5 421.5h2.0M206.5 424.5h2.0M206.5 425h2.0M206.5 427.5h2.0M206.5 429h2.0M206.5 430.5h2.0M206.5 431.5h2.0M206.5 432h2.0M206.5 435h2.0M206.5 437.5h2.0M206.5 440h2.0M206.5 443h2.0M206.5 445h2.0M206.5 451h2.0M206.5 452h2.0M206.5 454.5h2.0M206.5 460.5h2.0M206.5 464.5h2.0M206.5 479.5h2.0M206.5 486.5h2.0M206.5 494h2.0M206.5 498h2.0M207 393.5h2.0M207 410h2.0M207 417.5h2.0M207 429h2.0M207 430h2.0M207 432h2.0M207 433h2.0M207 441.5h2.0M207 444h2.0M207 455h2.0M207 481h2.0M207 482.5h2.0M207 498.5h2.0M207.5 387.5h2.0M207.5 415.5h2.0M207.5 416h2.0M207.5 416.5h2.0M207.5 420h2.0M207.5 429.5h2.0M207.5 436h2.0M207.5 440h2.0M207.5 441.5h2.0M207.5 442h2.0M207.5 444.5h2.0M207.5 451h2.0M207.5 458.5h2.0M207.5 470.5h2.0M208 418h2.0M208 423h2.0M208 435.5h2.0M208 436h2.0M208 439h2.0M208 449h2.0M208 455h2.0M208 468.5h2.0M208 475h2.0M208.5 393h2.0M208.5 418h2.0M208.5 419.5h2.0M208.5 420.5h2.0M208.5 431h2.0M208.5 439.5h2.0M208.5 442.5h2.0M208.5 448.5h2.0M208.5 451.5h2.0M208.5 457.5h2.0M208.5 460h2.0M208.5 464h2.0M208.5 467h2.0M208.5 468.5h2.0M208.5 471.5h2.0M208.5 487h2.0M209 406h2.0M209 416h2.0M209 446h2.0M209.5 411.5h2.0M209.5 413.5h2.0M209.5 416h2.0M209.5 418h2.0M209.5 423h2.0M209.5 425.5h2.0M209.5 427.5h2.0M209.5 433h2.0M209.5 433.5h2.0M209.5 434h2.0M209.5 448.5h2.0M209.5 462h2.0M209.5 464.5h2.0M209.5 465.5h2.0M209.5 466.5h2.0M209.5 477.5h2.0M210 410h2.0M210 416h2.0M210 427.5h2.0M210 450h2.0M210 451.5h2.0M210 466h2.0M210 498.5h2.0M210.5 436h2.0M210.5 439.5h2.0M210.5 443h2.0M210.5 451h2.0M210.5 455.5h2.0M210.5 462.5h2.0M210.5 478h2.0M211 431.5h2.0M211 443h2.0M211 455h2.0M211 462h2.0M211 492h2.0M211 498.5h2.0M211.5 415h2.0M211.5 420h2.0M211.5 433.5h2.0M211.5 448.5h2.0M211.5 449h2.0M211.5 450h2.0M211.5 455.5h2.0M211.5 468h2.0M211.5 479h2.0M212 397.5h2.0M212 419h2.0M212 439.5h2.0M212 450.5h2.0M212 456.5h2.0M212 458h2.0M212 484.5h2.0M212.5 453.5h2.0M212.5 481.5h2.0M213 418.5h2.0M213 422h2.0M213 454h2.0M213 456h2.0M213 465h2.0M213 469.5h2.0M213.5 423h2.0M213.5 498.5h2.0M214 458.5h2.0M214 465h2.0M214 488h2.0M214.5 403h2.0M214.5 448.5h2.0M215 432h2.0M215.5 410.5h2.0M215.5 443h2.0M215.5 445.5h2.0M216 456.5h2.0M217.5 435.5h2.0M218 495h2.0M219 459.5h2.0M219.5 468h2.0M220.5 498.5h2.0M221 431h2.0M221.5 475.5h2.0M222.5 498.5h2.0M225.5 498.5h2.0" stroke="#de0822" stroke-width="2.0" fill="none"/>
<path d="M349 418.5h2.0M349.5 483.5h2.0M351.5 430.5h2.0M352.5 435h2.0M354 484.5h2.0M355.5 433h2.0M355.5 461h2.0M355.5 498.5h2.0M356 428.5h2.0M357 434h2.0M357.5 408h2.0M359 466h2.0M359.5 474h2.0M360.5 471.5h2.0M360.5 479.5h2.0M361 459.5h2.0M361 476.5h2.0M362 441h2.0M362.5 475.5h2.0M362.5 491h2.0M363 437.5h2.0M363 484.5h2.0M363.5 451.5h2.0M363.5 494h2.0M364 426h2.0M364.5 443h2.0M364.5 474h2.0M364.5 487h2.0M365 462h2.0M365 489.5h2.0M365.5 400h2.0M365.5 451.5h2.0M365.5 463.5h2.0M365.5 493h2.0M366 438.5h2.0M366 441.5h2.0M366 449h2.0M366 451.5h2.0M366 452.5h2.0M366 475h2.0M366 497h2.0M366.5 448.5h2.0M366.5 476h2.0M367 422.5h2.0M367 446.5h2.0M367 474h2.0M367 474.5h2.0M367.5 404.5h2.0M367.5 430.5h2.0M367.5 446.5h2.0M367.5 489.5h2.0M368 431h2.0M368 444h2.0M368 463.5h2.0M368.5 409h2.0M368.5 443h2.0M368.5 454.5h2.0M368.5 465.5h2.0M368.5 487h2.0M368.5 498.5h2.0M369 427h2.0M369 450.5h2.0M369 455.5h2.0M369 466.5h2.0M369.5 433h2.0M369.5 462h2.0M370 435.5h2.0M370 467h2.0M370 495h2.0M370.5 415.5h2.0M370.5 417h2.0M370.5 424h2.0M370.5 425h2.0M370.5 428.5h2.0M370.5 453.5h2.0M370.5 460h2.0M370.5 469h2.0M370.5 479.5h2.0M371 425.5h2.0M371 428h2.0M371.5 441h2.0M371.5 447.5h2.0M371.5 456h2.0M371.5 457.5h2.0M371.5 465.5h2.0M371.5 474h2.0M372 432h2.0M372 441.5h2.0M372 488h2.0M372 490.5h2.0M372.5 409.5h2.0M372.5 421.5h2.0M372.5 434h2.0M372.5 434.5h2.0M372.5 437.5h2.0M372.5 445h2.0M372.5 453h2.0M372.5 475h2.0M372.5 479.5h2.0M372.5 490.5h2.0M373 433.5h2.0M373 434.5h2.0M373 438.5h2.0M373 453h2.0M373 461.5h2.0M373 472.5h2.0M373 478h2.0M373 490.5h2.0M373 491.5h2.0M373 493h2.0M373 497.5h2.0M373.5 434.5h2.0M373.5 442h2.0M373.5 447.5h2.0M373.5 451.5h2.0M373.5 457.5h2.0M373.5 478h2.0M373.5 491.5h2.0M373.5 494h2.0M374 440h2.0M374 445.5h2.0M374 455h2.0M374 455.5h2.0M374 481h2.0M374 498.5h2.0M374.5 405h2.0M374.5 417.5h2.0M374.5 426.5h2.0M374.5 431h2.0M374.5 432h2.0M374.5 444h2.0M374.5 446.5h2.0M374.5 449.5h2.0M374.5 456h2.0M374.5 457h2.0M374.5 458h2.0M374.5 462.5h2.0M374.5 473.5h2.0M374.5 477h2.0M374.5 490.5h2.0M374.5 491h2.0M375 390.5h2.0M375 438.5h2.0M375 441.5h2.0M375 452h2.0M375 459.5h2.0M375 468.5h2.0M375 471h2.0M375 471.5h2.0M375 477h2.0M375 484h2.0M375 497h2.0M375 498.5h2.0M375.5 415h2.0M375.5 415.5h2.0M375.5 423.5h2.0M375.5 424.5h2.0M375.5 427.5h2.0M375.5 447h2.0M375.5 463h2.0M375.5 464h2.0M375.5 471h2.0M375.5 471.5h2.0M375.5 473h2.0M375.5 496.5h2.0M376 413h2.0M376 428h2.0M376 430h2.0M376 441h2.0M376 469.5h2.0M376 474.5h2.0M376 476.5h2.0M376 491.5h2.0M376 498.5h2.0M376.5 398.5h2.0M376.5 413.5h2.0M376.5 420.5h2.0M376.5 446.5h2.0M376.5 457h2.0M376.5 459.5h2.0M376.5 460h2.0M376.5 462h2.0M376.5 476h2.0M376.5 491h2.0M376.5 498.5h2.0M377 410h2.0M377 416h2.0M377 423h2.0M377 424h2.0M377 427h2.0M377 444h2.0M377 448.5h2.0M377 453h2.0M377 457.5h2.0M377 459h2.0M377 462h2.0M377 482h2.0M377 494.5h2.0M377 498.5h2.0M377.5 410h2.0M377.5 413.5h2.0M377.5 414.5h2.0M377.5 417h2.0M377.5 420h2.0M377.5 429.5h2.0M377.5 443.5h2.0M377.5 445.5h2.0M377.5 446.5h2.0M377.5 450h2.0M377.5 451.5h2.0M377.5 452.5h2.0M377.5 464h2.0M377.5 467.5h2.0M377.5 472h2.0M377.5 478h2.0M377.5 488.5h2.0M377.5 492h2.0M377.5 497.5h2.0M377.5 498h2.0M378 404h2.0M378 407.5h2.0M378 419h2.0M378 420.5h2.0M378 422h2.0M378 426.5h2.0M378 436h2.0M378 440h2.0M378 440.5h2.0M378 454h2.0M378 457.5h2.0M378 462h2.0M378 469.5h2.0M378 472.5h2.0M378 475.5h2.0M378 480h2.0M378 480.5h2.0M378 483h2.0M378 483.5h2.0M378 487.5h2.0M378 489h2.0M378 493.5h2.0M378 498.5h2.0M378.5 402.5h2.0M378.5 420.5h2.0M378.5 427h2.0M378.5 428h2.0M378.5 432h2.0M378.5 433h2.0M378.5 434h2.0M378.5 436.5h2.0M378.5 437.5h2.0M378.5 439.5h2.0M378.5 440h2.0M378.5 441.5h2.0M378.5 443h2.0M378.5 448h2.0M378.5 449h2.0M378.5 450h2.0M378.5 451.5h2.0M378.5 461.5h2.0M378.5 462.5h2.0M378.5 465.5h2.0M378.5 469h2.0M378.5 470h2.0M378.5 472.5h2.0M378.5 473h2.0M378.5 475.5h2.0M378.5 480h2.0M378.5 482.5h2.0M378.5 485h2.0M378.5 487.5h2.0M378.5 489.5h2.0M378.5 491.5h2.0M378.5 494.5h2.0M378.5 495h2.0M378.5 498.5h2.0M379 407.5h2.0M379 409h2.0M379 410.5h2.0M379 412h2.0M379 413.5h2.0M379 415.5h2.0M379 419h2.0M379 423.5h2.0M379 426.5h2.0M379 430h2.0M379 434.5h2.0M379 439.5h2.0M379 447.5h2.0M379 452.5h2.0M379 464h2.0M379 475.5h2.0M379 484h2.0M379 485h2.0M379 485.5h2.0M379 490h2.0M379 493.5h2.0M379 498h2.0M379 498.5h2.0M379.5 408.5h2.0M379.5 415.5h2.0M379.5 418h2.0M379.5 418.5h2.0M379.5 420.5h2.0M379.5 421.5h2.0M379.5 423h2.0M379.5 427h2.0M379.5 431.5h2.0M379.5 434h2.0M379.5 436h2.0M379.5 440.5h2.0M379.5 449h2.0M379.5 456h2.0M379.5 456.5h2.0M379.5 457.5h2.0M379.5 458.5h2.0M379.5 459h2.0M379.5 459.5h2.0M379.5 460.5h2.0M379.5 462.5h2.0M379.5 471.5h2.0M379.5 478h2.0M379.5 479h2.0M379.5 480h2.0M379.5 486h2.0M379.5 489.5h2.0M379.5 497h2.0M379.5 498.5h2.0M380 409.5h2.0M380 410.5h2.0M380 412h2.0M380 421h2.0M380 423.5h2.0M380 426h2.0M380 428.5h2.0M380 429.5h2.0M380 432h2.0M380 433h2.0M380 436h2.0M380 437h2.0M380 440h2.0M380 440.5h2.0M380 441.5h2.0M380 445.5h2.0M380 446h2.0M380 448h2.0M380 453h2.0M380 453.5h2.0M380 454.5h2.0M380 458h2.0M380 460h2.0M380 465h2.0M380 468.5h2.0M380 469.5h2.0M380 470.5h2.0M380 474.5h2.0M380 476.5h2.0M380 484.5h2.0M380 486h2.0M380 487h2.0M380 492.5h2.0M380 495h2.0M380 496h2.0M380 498.5h2.0M380.5 417.5h2.0M380.5 418.5h2.0M380.5 426h2.0M380.5 429h2.0M380.5 429.5h2.0M380.5 432h2.0M380.5 433h2.0M380.5 434.5h2.0M380.5 438.5h2.0M380.5 439.5h2.0M380.5 441.5h2.0M380.5 445.5h2.0M380.5 451h2.0M380.5 452.5h2.0M380.5 453h2.0M380.5 459.5h2.0M380.5 465h2.0M380.5 472h2.0M380.5 481.5h2.0M380.5 488h2.0M380.5 497h2.0M380.5 498h2.0M381 402h2.0M381 413h2.0M381 413.5h2.0M381 416h2.0M381 416.5h2.0M381 418.5h2.0M381 422h2.0M381 426h2.0M381 428h2.0M381 428.5h2.0M381 429h2.0M381 434.5h2.0M381 435h2.0M381 435.5h2.0M381 441h2.0M381 442.5h2.0M381 449h2.0M381 450h2.0M381 452.5h2.0M381 461.5h2.0M381 464h2.0M381 478h2.0M381 478.5h2.0M381 483h2.0M381 494h2.0M381 498.5h2.0M381.5 407h2.0M381.5 410h2.0M381.5 414h2.0M381.5 415.5h2.0M381.5 416.5h2.0M381.5 419h2.0M381.5 422h2.0M381.5 424.5h2.0M381.5 427h2.0M381.5 430.5h2.0M381.5 434h2.0M381.5 439h2.0M381.5 440h2.0M381.5 441.5h2.0M381.5 442h2.0M381.5 443h2.0M381.5 446.5h2.0M381.5 449h2.0M381.5 449.5h2.0M381.5 457.5h2.0M381.5 459h2.0M381.5 461.5h2.0M381.5 462h2.0M381.5 463.5h2.0M381.5 468h2.0M381.5 472h2.0M381.5 473h2.0M381.5 476.5h2.0M381.5 477h2.0M381.5 481.5h2.0M381.5 486h2.0M381.5 487h2.0M381.5 488.5h2.0M381.5 491.5h2.0M381.5 492.5h2.0M381.5 496h2.0M381.5 498.5h2.0M382 404h2.0M382 414.5h2.0M382 420.5h2.0M382 424h2.0M382 427.5h2.0M382 429.5h2.0M382 431h2.0M382 433.5h2.0M382 439h2.0M382 440h2.0M382 443.5h2.0M382 446h2.0M382 447.5h2.0M382 448h2.0M382 452.5h2.0M382 454.5h2.0M382 455.5h2.0M382 456h2.0M382 458h2.0M382 459.5h2.0M382 467h2.0M382 469.5h2.0M382 470.5h2.0M382 471.5h2.0M382 472.5h2.0M382 480.5h2.0M382 482h2.0M382 482.5h2.0M382 487.5h2.0M382 488.5h2.0M382 489h2.0M382 492h2.0M382 498.5h2.0M382.5 384h2.0M382.5 416h2.0M382.5 417h2.0M382.5 418.5h2.0M382.5 419h2.0M382.5 419.5h2.0M382.5 422h2.0M382.5 424h2.0M382.5 428.5h2.0M382.5 432.5h2.0M382.5 433.5h2.0M382.5 436.5h2.0M382.5 442.5h2.0M382.5 443.5h2.0M382.5 455h2.0M382.5 455.5h2.0M382.5 460.5h2.0M382.5 461h2.0M382.5 462h2.0M382.5 462.5h2.0M382.5 467h2.0M382.5 471h2.0M382.5 473h2.0M382.5 477h2.0M382.5 478h2.0M382.5 479.5h2.0M382.5 481h2.0M382.5 486h2.0M382.5 486.5h2.0M382.5 487.5h2.0M382.5 488.5h2.0M382.5 491h2.0M382.5 492h2.0M382.5 493.5h2.0M382.5 494h2.0M382.5 494.5h2.0M382.5 495.5h2.0M382.5 496.5h2.0M382.5 498.5h2.0M383 406h2.0M383 412.5h2.0M383 413.5h2.0M383 418h2.0M383 423h2.0M383 423.5h2.0M383 425.5h2.0M383 429.5h2.0M383 432h2.0M383 436h2.0M383 437.5h2.0M383 439h2.0M383 439.5h2.0M383 440.5h2.0M383 441h2.0M383 441.5h2.0M383 444.5h2.0M383 447.5h2.0M383 449h2.0M383 453h2.0M383 453.5h2.0M383 456.5h2.0M383 457.5h2.0M383 459h2.0M383 461.5h2.0M383 465h2.0M383 465.5h2.0M383 467h2.0M383 468.5h2.0M383 477h2.0M383 478h2.0M383 478.5h2.0M383 481.5h2.0M383 483h2.0M383 483.5h2.0M383 487.5h2.0M383 489.5h2.0M383 490.5h2.0M383 491h2.0M383 494.5h2.0M383 495h2.0M383 496h2.0M383 497h2.0M383 498.5h2.0M383.5 388h2.0M383.5 402h2.0M383.5 404h2.0M383.5 410.5h2.0M383.5 414h2.0M383.5 415h2.0M383.5 416h2.0M383.5 416.5h2.0M383.5 417h2.0M383.5 417.5h2.0M383.5 418h2.0M383.5 419h2.0M383.5 421.5h2.0M383.5 422.5h2.0M383.5 427.5h2.0M383.5 429.5h2.0M383.5 430h2.0M383.5 432.5h2.0M383.5 433h2.0M383.5 438.5h2.0M383.5 444.5h2.0M383.5 450h2.0M383.5 451.5h2.0M383.5 453h2.0M383.5 453.5h2.0M383.5 456.5h2.0M383.5 458h2.0M383.5 459.5h2.0M383.5 466h2.0M383.5 467.5h2.0M383.5 471h2.0M383.5 473.5h2.0M383.5 474.5h2.0M383.5 478.5h2.0M383.5 480h2.0M383.5 487.5h2.0M383.5 488h2.0M383.5 495.5h2.0M383.5 498.5h2.0M384 402h2.0M384 406.5h2.0M384 408.5h2.0M384 410.5h2.0M384 412h2.0M384 413.5h2.0M384 416.5h2.0M384 418.5h2.0M384 421.5h2.0M384 422.5h2.0M384 423h2.0M384 431h2.0M384 433h2.0M384 436h2.0M384 442h2.0M384 442.5h2.0M384 444.5h2.0M384 448h2.0M384 449h2.0M384 449.5h2.0M384 450h2.0M384 451.5h2.0M384 457h2.0M384 458h2.0M384 458.5h2.0M384 459.5h2.0M384 460h2.0M384 462h2.0M384 464.5h2.0M384 469h2.0M384 472h2.0M384 474.5h2.0M384 476h2.0M384 478.5h2.0M384 484h2.0M384 486.5h2.0M384 493.5h2.0M384 494h2.0M384 494.5h2.0M384 497h2.0M384 497.5h2.0M384 498h2.0M384 498.5h2.0M384.5 389h2.0M384.5 412.5h2.0M384.5 414h2.0M384.5 416.5h2.0M384.5 418.5h2.0M384.5 422h2.0M384.5 424.5h2.0M384.5 426h2.0M384.5 428h2.0M384.5 429h2.0M384.5 436h2.0M384.5 440h2.0M384.5 440.5h2.0M384.5 445h2.0M384.5 446.5h2.0M384.5 450h2.0M384.5 453.5h2.0M384.5 460.5h2.0M384.5 463h2.0M384.5 466h2.0M384.5 467h2.0M384.5 468.5h2.0M384.5 470h2.0M384.5 471h2.0M384.5 473.5h2.0M384.5 474.5h2.0M384.5 475h2.0M384.5 475.5h2.0M384.5 477.5h2.0M384.5 478h2.0M384.5 479.5h2.0M384.5 480h2.0M384.5 483h2.0M384.5 485h2.0M384.5 485.5h2.0M384.5 487h2.0M384.5 489.5h2.0M384.5 490.5h2.0M384.5 495.5h2.0M384.5 497.5h2.0M384.5 498.5h2.0M385 410.5h2.0M385 413.5h2.0M385 415h2.0M385 417h2.0M385 418h2.0M385 419h2.0M385 425h2.0M385 426h2.0M385 427.5h2.0M385 428h2.0M385 432h2.0M385 440h2.0M385 443h2.0M385 445.5h2.0M385 447.5h2.0M385 448h2.0M385 449.5h2.0M385 451h2.0M385 453.5h2.0M385 455h2.0M385 456h2.0M385 461.5h2.0M385 465h2.0M385 466.5h2.0M385 468h2.0M385 469.5h2.0M385 471h2.0M385 473.5h2.0M385 475h2.0M385 476.5h2.0M385 477h2.0M385 477.5h2.0M385 479h2.0M385 480h2.0M385 488h2.0M385 488.5h2.0M385 494h2.0M385 496h2.0M385 497h2.0M385 497.5h2.0M385 498h2.0M385 498.5h2.0M385.5 405.5h2.0M385.5 408.5h2.0M385.5 413.5h2.0M385.5 414.5h2.0M385.5 415h2.0M385.5 416.5h2.0M385.5 420.5h2.0M385.5 421.5h2.0M385.5 424.5h2.0M385.5 426h2.0M385.5 426.5h2.0M385.5 429h2.0M385.5 429.5h2.0M385.5 430h2.0M385.5 431.5h2.0M385.5 432h2.0M385.5 434h2.0M385.5 435h2.0M385.5 436.5h2.0M385.5 438.5h2.0M385.5 439.5h2.0M385.5 440h2.0M385.5 443h2.0M385.5 447h2.0M385.5 448h2.0M385.5 450h2.0M385.5 452.5h2.0M385.5 457h2.0M385.5 457.5h2.0M385.5 459.5h2.0M385.5 460h2.0M385.5 464.5h2.0M385.5 467h2.0M385.5 469.5h2.0M385.5 470h2.0M385.5 471h2.0M385.5 474h2.0M385.5 474.5h2.0M385.5 476.5h2.0M385.5 481h2.0M385.5 482.5h2.0M385.5 485.5h2.0M385.5 487.5h2.0M385.5 489.5h2.0M385.5 490h2.0M385.5 492h2.0M385.5 492.5h2.0M385.5 493h2.0M385.5 494h2.0M385.5 495.5h2.0M385.5 498.5h2.0M386 383h2.0M386 406.5h2.0M386 407.5h2.0M386 408.5h2.0M386 411.5h2.0M386 416.5h2.0M386 417.5h2.0M386 421h2.0M386 422h2.0M386 422.5h2.0M386 423h2.0M386 424h2.0M386 425h2.0M386 426h2.0M386 426.5h2.0M386 427.5h2.0M386 428h2.0M386 430h2.0M386 430.5h2.0M386 432.5h2.0M386 433h2.0M386 434.5h2.0M386 437h2.0M386 437.5h2.0M386 439h2.0M386 441h2.0M386 444h2.0M386 446h2.0M386 447h2.0M386 452.5h2.0M386 455.5h2.0M386 460h2.0M386 461h2.0M386 462h2.0M386 463.5h2.0M386 465.5h2.0M386 466.5h2.0M386 472h2.0M386 473.5h2.0M386 476h2.0M386 476.5h2.0M386 477h2.0M386 479h2.0M386 481h2.0M386 481.5h2.0M386 483h2.0M386 485.5h2.0M386 487.5h2.0M386 493h2.0M386 495.5h2.0M386 496h2.0M386 498h2.0M386 498.5h2.0M386.5 380h2.0M386.5 400.5h2.0M386.5 407h2.0M386.5 408h2.0M386.5 410h2.0M386.5 411.5h2.0M386.5 412h2.0M386.5 413h2.0M386.5 415h2.0M386.5 416h2.0M386.5 418.5h2.0M386.5 419.5h2.0M386.5 420h2.0M386.5 422h2.0M386.5 422.5h2.0M386.5 426h2.0M386.5 428.5h2.0M386.5 429h2.0M386.5 429.5h2.0M386.5 432h2.0M386.5 432.5h2.0M386.5 433.5h2.0M386.5 434h2.0M386.5 434.5h2.0M386.5 436.5h2.0M386.5 437.5h2.0M386.5 438h2.0M386.5 442.5h2.0M386.5 444h2.0M386.5 445.5h2.0M386.5 446h2.0M386.5 447h2.0M386.5 447.5h2.0M386.5 449.5h2.0M386.5 450h2.0M386.5 450.5h2.0M386.5 453.5h2.0M386.5 455.5h2.0M386.5 458h2.0M386.5 462h2.0M386.5 462.5h2.0M386.5 463h2.0M386.5 468h2.0M386.5 469.5h2.0M386.5 470.5h2.0M386.5 471h2.0M386.5 476.5h2.0M386.5 477h2.0M386.5 478h2.0M386.5 478.5h2.0M386.5 479h2.0M386.5 482.5h2.0M386.5 486h2.0M386.5 486.5h2.0M386.5 487h2.0M386.5 488h2.0M386.5 488.5h2.0M386.5 491h2.0M386.5 498.5h2.0M387 390h2.0M387 406.5h2.0M387 408.5h2.0M387 409h2.0M387 412h2.0M387 415h2.0M387 415.5h2.0M387 416.5h2.0M387 417h2.0M387 417.5h2.0M387 418h2.0M387 418.5h2.0M387 422h2.0M387 427.5h2.0M387 430h2.0M387 431h2.0M387 431.5h2.0M387 432.5h2.0M387 436h2.0M387 437h2.0M387 439.5h2.0M387 440h2.0M387 441h2.0M387 441.5h2.0M387 442.5h2.0M387 444h2.0M387 445.5h2.0M387 446h2.0M387 446.5h2.0M387 447h2.0M387 447.5h2.0M387 450h2.0M387 453.5h2.0M387 454.5h2.0M387 455.5h2.0M387 457.5h2.0M387 458h2.0M387 461h2.0M387 463h2.0M387 467h2.0M387 467.5h2.0M387 469h2.0M387 469.5h2.0M387 470h2.0M387 471.5h2.0M387 472.5h2.0M387 475.5h2.0M387 478h2.0M387 482.5h2.0M387 483h2.0M387 485h2.0M387 485.5h2.0M387 486h2.0M387 488.5h2.0M387 490.5h2.0M387 491.5h2.0M387 492h2.0M387 493h2.0M387 494.5h2.0M387 495h2.0M387 497h2.0M387 497.5h2.0M387 498.5h2.0M387.5 393.5h2.0M387.5 406h2.0M387.5 408h2.0M387.5 411.5h2.0M387.5 412.5h2.0M387.5 417h2.0M387.5 418h2.0M387.5 421h2.0M387.5 424h2.0M387.5 424.5h2.0M387.5 425.5h2.0M387.5 427.5h2.0M387.5 431.5h2.0M387.5 432h2.0M387.5 432.5h2.0M387.5 435.5h2.0M387.5 440h2.0M387.5 446h2.0M387.5 447.5h2.0M387.5 450.5h2.0M387.5 452.5h2.0M387.5 454.5h2.0M387.5 456h2.0M387.5 456.5h2.0M387.5 458.5h2.0M387.5 460h2.0M387.5 461h2.0M387.5 461.5h2.0M387.5 464h2.0M387.5 464.5h2.0M387.5 467h2.0M387.5 468.5h2.0M387.5 469.5h2.0M387.5 470.5h2.0M387.5 471h2.0M387.5 472h2.0M387.5 472.5h2.0M387.5 474h2.0M387.5 475h2.0M387.5 475.5h2.0M387.5 477h2.0M387.5 478.5h2.0M387.5 483.5h2.0M387.5 485h2.0M387.5 486h2.0M387.5 486.5h2.0M387.5 489h2.0M387.5 490h2.0M387.5 490.5h2.0M387.5 491h2.0M387.5 492h2.0M387.5 494.5h2.0M387.5 498h2.0M387.5 498.5h2.0M388 388.5h2.0M388 404h2.0M388 404.5h2.0M388 414.5h2.0M388 415h2.0M388 416h2.0M388 416.5h2.0M388 419h2.0M388 421.5h2.0M388 422h2.0M388 423.5h2.0M388 426h2.0M388 427h2.0M388 432h2.0M388 433.5h2.0M388 435h2.0M388 435.5h2.0M388 440h2.0M388 442.5h2.0M388 443.5h2.0M388 444h2.0M388 445h2.0M388 446.5h2.0M388 450h2.0M388 452h2.0M388 455h2.0M388 455.5h2.0M388 456.5h2.0M388 458.5h2.0M388 463.5h2.0M388 464h2.0M388 465.5h2.0M388 468.5h2.0M388 469h2.0M388 471h2.0M388 471.5h2.0M388 473h2.0M388 473.5h2.0M388 476.5h2.0M388 477h2.0M388 478h2.0M388 479.5h2.0M388 480h2.0M388 480.5h2.0M388 482.5h2.0M388 483h2.0M388 484h2.0M388 485.5h2.0M388 488h2.0M388 489.5h2.0M388 490h2.0M388 493h2.0M388 494.5h2.0M388 497h2.0M388 497.5h2.0M388 498.5h2.0M388.5 400h2.0M388.5 406.5h2.0M388.5 407h2.0M388.5 410.5h2.0M388.5 415h2.0M388.5 415.5h2.0M388.5 420.5h2.0M388.5 422.5h2.0M388.5 423.5h2.0M388.5 427h2.0M388.5 428h2.0M388.5 438h2.0M388.5 439h2.0M388.5 439.5h2.0M388.5 440.5h2.0M388.5 442h2.0M388.5 442.5h2.0M388.5 444.5h2.0M388.5 445.5h2.0M388.5 450.5h2.0M388.5 451.5h2.0M388.5 454h2.0M388.5 454.5h2.0M388.5 459h2.0M388.5 462h2.0M388.5 463.5h2.0M388.5 468.5h2.0M388.5 470h2.0M388.5 473.5h2.0M388.5 474h2.0M388.5 474.5h2.0M388.5 476.5h2.0M388.5 478h2.0M388.5 479.5h2.0M388.5 482.5h2.0M388.5 485.5h2.0M388.5 486h2.0M388.5 489h2.0M388.5 490h2.0M388.5 491h2.0M388.5 492.5h2.0M388.5 494h2.0M388.5 496.5h2.0M388.5 498.5h2.0M389 399.5h2.0M389 403.5h2.0M389 404h2.0M389 408.5h2.0M389 410h2.0M389 410.5h2.0M389 412.5h2.0M389 415.5h2.0M389 416.5h2.0M389 417.5h2.0M389 423.5h2.0M389 424h2.0M389 425.5h2.0M389 426.5h2.0M389 427h2.0M389 427.5h2.0M389 428h2.0M389 429h2.0M389 429.5h2.0M389 432h2.0M389 435h2.0M389 436h2.0M389 436.5h2.0M389 439.5h2.0M389 441.5h2.0M389 445h2.0M389 446.5h2.0M389 447h2.0M389 449h2.0M389 450.5h2.0M389 451.5h2.0M389 452h2.0M389 452.5h2.0M389 455.5h2.0M389 456h2.0M389 457h2.0M389 458h2.0M389 461h2.0M389 461.5h2.0M389 463.5h2.0M389 465h2.0M389 465.5h2.0M389 466.5h2.0M389 468.5h2.0M389 470.5h2.0M389 471h2.0M389 472h2.0M389 472.5h2.0M389 473.5h2.0M389 474h2.0M389 475h2.0M389 476h2.0M389 476.5h2.0M389 477h2.0M389 477.5h2.0M389 479.5h2.0M389 480h2.0M389 481.5h2.0M389 483.5h2.0M389 485h2.0M389 485.5h2.0M389 486h2.0M389 488.5h2.0M389 489h2.0M389 490h2.0M389 490.5h2.0M389 491h2.0M389 491.5h2.0M389 493h2.0M389 497h2.0M389 498h2.0M389 498.5h2.0M389.5 390.5h2.0M389.5 405.5h2.0M389.5 408.5h2.0M389.5 413h2.0M389.5 413.5h2.0M389.5 414h2.0M389.5 415h2.0M389.5 415.5h2.0M389.5 418.5h2.0M389.5 419.5h2.0M389.5 421h2.0M389.5 423.5h2.0M389.5 424.5h2.0M389.5 426h2.0M389.5 427.5h2.0M389.5 428.5h2.0M389.5 430h2.0M389.5 430.5h2.0M389.5 433h2.0M389.5 434.5h2.0M389.5 435h2.0M389.5 435.5h2.0M389.5 441.5h2.0M389.5 444.5h2.0M389.5 446h2.0M389.5 446.5h2.0M389.5 447h2.0M389.5 448h2.0M389.5 448.5h2.0M389.5 455h2.0M389.5 455.5h2.0M389.5 456h2.0M389.5 457h2.0M389.5 457.5h2.0M389.5 458.5h2.0M389.5 461.5h2.0M389.5 462h2.0M389.5 462.5h2.0M389.5 463h2.0M389.5 464h2.0M389.5 466h2.0M389.5 467h2.0M389.5 467.5h2.0M389.5 469.5h2.0M389.5 471h2.0M389.5 472.5h2.0M389.5 474h2.0M389.5 476.5h2.0M389.5 479.5h2.0M389.5 480.5h2.0M389.5 481h2.0M389.5 481.5h2.0M389.5 486h2.0M389.5 488.5h2.0M389.5 490h2.0M389.5 491h2.0M389.5 491.5h2.0M389.5 492h2.0M389.5 493.5h2.0M389.5 494h2.0M389.5 496h2.0M389.5 497h2.0M389.5 498h2.0M389.5 498.5h2.0M390 408h2.0M390 411h2.0M390 412.5h2.0M390 413.5h2.0M390 421h2.0M390 422h2.0M390 422.5h2.0M390 423.5h2.0M390 425h2.0M390 425.5h2.0M390 428.5h2.0M390 434h2.0M390 434.5h2.0M390 435h2.0M390 439.5h2.0M390 440.5h2.0M390 441.5h2.0M390 445.5h2.0M390 446h2.0M390 448.5h2.0M390 452.5h2.0M390 453.5h2.0M390 454.5h2.0M390 455h2.0M390 456h2.0M390 459.5h2.0M390 461h2.0M390 462.5h2.0M390 463h2.0M390 465.5h2.0M390 466.5h2.0M390 467h2.0M390 470h2.0M390 474h2.0M390 476.5h2.0M390 478h2.0M390 478.5h2.0M390 479.5h2.0M390 482h2.0M390 483h2.0M390 486h2.0M390 489.5h2.0M390 492.5h2.0M390 498.5h2.0M390.5 405.5h2.0M390.5 407.5h2.0M390.5 408h2.0M390.5 409h2.0M390.5 409.5h2.0M390.5 410.5h2.0M390.5 411h2.0M390.5 412h2.0M390.5 412.5h2.0M390.5 414.5h2.0M390.5 417.5h2.0M390.5 418.5h2.0M390.5 421h2.0M390.5 421.5h2.0M390.5 423h2.0M390.5 424.5h2.0M390.5 425h2.0M390.5 425.5h2.0M390.5 427.5h2.0M390.5 429.5h2.0M390.5 430.5h2.0M390.5 436.5h2.0M390.5 438h2.0M390.5 438.5h2.0M390.5 440h2.0M390.5 440.5h2.0M390.5 442h2.0M390.5 443.5h2.0M390.5 444h2.0M390.5 450.5h2.0M390.5 451h2.0M390.5 451.5h2.0M390.5 453.5h2.0M390.5 454h2.0M390.5 457h2.0M390.5 458h2.0M390.5 458.5h2.0M390.5 459.5h2.0M390.5 460h2.0M390.5 461.5h2.0M390.5 462h2.0M390.5 463h2.0M390.5 464h2.0M390.5 464.5h2.0M390.5 465.5h2.0M390.5 468.5h2.0M390.5 471.5h2.0M390.5 474h2.0M390.5 474.5h2.0M390.5 475h2.0M390.5 476h2.0M390.5 477h2.0M390.5 478h2.0M390.5 478.5h2.0M390.5 479.5h2.0M390.5 480h2.0M390.5 482h2.0M390.5 483h2.0M390.5 484h2.0M390.5 485h2.0M390.5 486h2.0M390.5 490h2.0M390.5 490.5h2.0M390.5 493h2.0M390.5 494h2.0M390.5 494.5h2.0M390.5 497h2.0M390.5 498h2.0M390.5 498.5h2.0M391 404h2.0M391 408h2.0M391 408.5h2.0M391 410h2.0M391 412h2.0M391 414h2.0M391 415h2.0M391 415.5h2.0M391 418h2.0M391 419.5h2.0M391 420.5h2.0M391 424h2.0M391 424.5h2.0M391 425.5h2.0M391 426.5h2.0M391 427h2.0M391 429h2.0M391 429.5h2.0M391 430h2.0M391 432.5h2.0M391 436.5h2.0M391 437h2.0M391 437.5h2.0M391 439h2.0M391 439.5h2.0M391 440.5h2.0M391 441h2.0M391 441.5h2.0M391 442h2.0M391 444h2.0M391 446h2.0M391 447h2.0M391 450.5h2.0M391 453h2.0M391 454h2.0M391 456h2.0M391 457h2.0M391 458h2.0M391 461.5h2.0M391 463h2.0M391 465h2.0M391 467.5h2.0M391 469h2.0M391 471.5h2.0M391 472h2.0M391 472.5h2.0M391 473h2.0M391 475.5h2.0M391 476h2.0M391 477h2.0M391 477.5h2.0M391 478h2.0M391 478.5h2.0M391 480h2.0M391 481.5h2.0M391 482.5h2.0M391 485h2.0M391 485.5h2.0M391 489.5h2.0M391 490.5h2.0M391 492.5h2.0M391 494h2.0M391 494.5h2.0M391 495.5h2.0M391 496h2.0M391 497h2.0M391 498h2.0M391 498.5h2.0M391.5 399h2.0M391.5 399.5h2.0M391.5 409.5h2.0M391.5 413.5h2.0M391.5 414.5h2.0M391.5 417.5h2.0M391.5 424h2.0M391.5 425.5h2.0M391.5 426h2.0M391.5 426.5h2.0M391.5 429.5h2.0M391.5 434h2.0M391.5 434.5h2.0M391.5 435h2.0M391.5 436.5h2.0M391.5 438h2.0M391.5 439h2.0M391.5 441.5h2.0M391.5 442.5h2.0M391.5 445h2.0M391.5 445.5h2.0M391.5 446.5h2.0M391.5 447h2.0M391.5 447.5h2.0M391.5 448h2.0M391.5 448.5h2.0M391.5 449.5h2.0M391.5 450h2.0M391.5 451h2.0M391.5 452h2.0M391.5 452.5h2.0M391.5 453h2.0M391.5 455.5h2.0M391.5 456h2.0M391.5 459.5h2.0M391.5 461h2.0M391.5 462.5h2.0M391.5 463.5h2.0M391.5 464.5h2.0M391.5 465.5h2.0M391.5 466h2.0M391.5 468h2.0M391.5 469h2.0M391.5 470h2.0M391.5 471.5h2.0M391.5 473h2.0M391.5 474h2.0M391.5 475h2.0M391.5 476h2.0M391.5 476.5h2.0M391.5 477h2.0M391.5 477.5h2.0M391.5 478h2.0M391.5 480.5h2.0M391.5 482.5h2.0M391.5 483.5h2.0M391.5 484.5h2.0M391.5 486h2.0M391.5 491.5h2.0M391.5 492.5h2.0M391.5 493h2.0M391.5 493.5h2.0M391.5 494.5h2.0M391.5 498.5h2.0M392 412h2.0M392 415.5h2.0M392 418.5h2.0M392 419.5h2.0M392 420.5h2.0M392 422.5h2.0M392 423h2.0M392 425.5h2.0M392 426h2.0M392 426.5h2.0M392 427h2.0M392 429.5h2.0M392 430h2.0M392 430.5h2.0M392 432.5h2.0M392 434h2.0M392 436h2.0M392 437h2.0M392 437.5h2.0M392 438h2.0M392 441.5h2.0M392 442.5h2.0M392 443.5h2.0M392 444h2.0M392 444.5h2.0M392 445.5h2.0M392 446.5h2.0M392 447h2.0M392 447.5h2.0M392 451h2.0M392 451.5h2.0M392 452h2.0M392 452.5h2.0M392 455h2.0M392 456.5h2.0M392 460.5h2.0M392 463h2.0M392 463.5h2.0M392 464.5h2.0M392 465h2.0M392 465.5h2.0M392 466h2.0M392 468h2.0M392 468.5h2.0M392 469.5h2.0M392 472.5h2.0M392 474h2.0M392 474.5h2.0M392 475.5h2.0M392 476.5h2.0M392 478h2.0M392 479h2.0M392 479.5h2.0M392 480h2.0M392 481h2.0M392 483h2.0M392 483.5h2.0M392 484h2.0M392 484.5h2.0M392 488h2.0M392 489h2.0M392 490.5h2.0M392 494.5h2.0M392 495h2.0M392 495.5h2.0M392 496.5h2.0M392 497.5h2.0M392 498h2.0M392 498.5h2.0M392.5 381h2.0M392.5 385.5h2.0M392.5 388.5h2.0M392.5 401.5h2.0M392.5 402.5h2.0M392.5 405h2.0M392.5 406h2.0M392.5 406.5h2.0M392.5 407.5h2.0M392.5 409h2.0M392.5 410.5h2.0M392.5 411h2.0M392.5 411.5h2.0M392.5 412h2.0M392.5 414.5h2.0M392.5 415h2.0M392.5 416h2.0M392.5 416.5h2.0M392.5 417h2.0M392.5 424h2.0M392.5 425h2.0M392.5 427.5h2.0M392.5 430h2.0M392.5 432h2.0M392.5 436.5h2.0M392.5 437h2.0M392.5 438h2.0M392.5 438.5h2.0M392.5 442h2.0M392.5 443h2.0M392.5 445h2.0M392.5 446h2.0M392.5 446.5h2.0M392.5 450h2.0M392.5 450.5h2.0M392.5 452.5h2.0M392.5 454h2.0M392.5 454.5h2.0M392.5 455h2.0M392.5 456h2.0M392.5 456.5h2.0M392.5 457h2.0M392.5 458h2.0M392.5 459h2.0M392.5 462h2.0M392.5 463.5h2.0M392.5 465.5h2.0M392.5 466h2.0M392.5 467h2.0M392.5 467.5h2.0M392.5 468.5h2.0M392.5 470.5h2.0M392.5 471.5h2.0M392.5 472.5h2.0M392.5 473.5h2.0M392.5 474h2.0M392.5 477h2.0M392.5 477.5h2.0M392.5 478h2.0M392.5 478.5h2.0M392.5 481h2.0M392.5 483.5h2.0M392.5 484.5h2.0M392.5 486.5h2.0M392.5 489h2.0M392.5 489.5h2.0M392.5 491.5h2.0M392.5 492h2.0M392.5 492.5h2.0M392.5 495h2.0M392.5 496h2.0M392.5 497h2.0M392.5 497.5h2.0M392.5 498.5h2.0M393 395h2.0M393 399.5h2.0M393 401.5h2.0M393 406.5h2.0M393 408.5h2.0M393 415.5h2.0M393 417h2.0M393 417.5h2.0M393 419.5h2.0M393 421h2.0M393 424h2.0M393 425.5h2.0M393 426h2.0M393 427h2.0M393 430.5h2.0M393 431h2.0M393 433.5h2.0M393 435h2.0M393 435.5h2.0M393 437h2.0M393 437.5h2.0M393 438h2.0M393 439h2.0M393 440h2.0M393 441.5h2.0M393 443h2.0M393 444.5h2.0M393 447h2.0M393 449h2.0M393 450.5h2.0M393 452h2.0M393 453h2.0M393 454h2.0M393 455h2.0M393 457h2.0M393 458h2.0M393 459h2.0M393 464h2.0M393 466.5h2.0M393 468h2.0M393 468.5h2.0M393 470.5h2.0M393 474h2.0M393 477h2.0M393 480h2.0M393 480.5h2.0M393 481h2.0M393 482h2.0M393 482.5h2.0M393 483.5h2.0M393 484.5h2.0M393 485h2.0M393 487.5h2.0M393 488.5h2.0M393 489.5h2.0M393 492.5h2.0M393 494h2.0M393 496.5h2.0M393 497h2.0M393 498.5h2.0M393.5 400h2.0M393.5 412.5h2.0M393.5 413h2.0M393.5 415h2.0M393.5 417h2.0M393.5 417.5h2.0M393.5 418h2.0M393.5 419.5h2.0M393.5 421h2.0M393.5 421.5h2.0M393.5 422h2.0M393.5 423h2.0M393.5 423.5h2.0M393.5 425.5h2.0M393.5 426h2.0M393.5 429h2.0M393.5 430h2.0M393.5 431.5h2.0M393.5 432h2.0M393.5 437h2.0M393.5 437.5h2.0M393.5 439.5h2.0M393.5 440.5h2.0M393.5 443.5h2.0M393.5 444.5h2.0M393.5 445h2.0M393.5 446.5h2.0M393.5 447.5h2.0M393.5 448h2.0M393.5 449.5h2.0M393.5 451h2.0M393.5 451.5h2.0M393.5 454h2.0M393.5 455h2.0M393.5 455.5h2.0M393.5 456.5h2.0M393.5 457h2.0M393.5 457.5h2.0M393.5 459h2.0M393.5 462h2.0M393.5 464h2.0M393.5 465.5h2.0M393.5 467h2.0M393.5 468h2.0M393.5 470h2.0M393.5 470.5h2.0M393.5 471h2.0M393.5 479h2.0M393.5 480h2.0M393.5 480.5h2.0M393.5 485h2.0M393.5 486h2.0M393.5 486.5h2.0M393.5 488h2.0M393.5 488.5h2.0M393.5 489.5h2.0M393.5 490h2.0M393.5 490.5h2.0M393.5 491h2.0M393.5 492h2.0M393.5 494h2.0M393.5 495h2.0M393.5 495.5h2.0M393.5 496.5h2.0M393.5 497.5h2.0M393.5 498.5h2.0M394 409.5h2.0M394 410h2.0M394 411.5h2.0M394 415h2.0M394 417.5h2.0M394 418.5h2.0M394 419.5h2.0M394 420h2.0M394 421h2.0M394 422.5h2.0M394 423.5h2.0M394 425.5h2.0M394 426h2.0M394 427h2.0M394 432h2.0M394 433h2.0M394 436.5h2.0M394 437h2.0M394 439h2.0M394 441.5h2.0M394 442h2.0M394 442.5h2.0M394 446h2.0M394 447.5h2.0M394 448.5h2.0M394 449h2.0M394 450h2.0M394 450.5h2.0M394 451.5h2.0M394 452.5h2.0M394 453h2.0M394 453.5h2.0M394 456h2.0M394 457.5h2.0M394 458.5h2.0M394 459.5h2.0M394 461.5h2.0M394 462h2.0M394 462.5h2.0M394 465h2.0M394 468h2.0M394 468.5h2.0M394 469h2.0M394 469.5h2.0M394 470.5h2.0M394 471.5h2.0M394 472.5h2.0M394 473h2.0M394 474h2.0M394 474.5h2.0M394 475.5h2.0M394 476.5h2.0M394 479.5h2.0M394 480.5h2.0M394 483h2.0M394 484.5h2.0M394 485h2.0M394 485.5h2.0M394 490h2.0M394 491h2.0M394 492.5h2.0M394 493h2.0M394 493.5h2.0M394 494h2.0M394 496h2.0M394 496.5h2.0M394 498.5h2.0M394.5 403h2.0M394.5 403.5h2.0M394.5 410.5h2.0M394.5 411.5h2.0M394.5 414.5h2.0M394.5 417h2.0M394.5 420.5h2.0M394.5 423h2.0M394.5 423.5h2.0M394.5 426h2.0M394.5 437.5h2.0M394.5 439h2.0M394.5 440h2.0M394.5 442.5h2.0M394.5 443h2.0M394.5 444.5h2.0M394.5 445h2.0M394.5 447.5h2.0M394.5 448.5h2.0M394.5 449.5h2.0M394.5 452.5h2.0M394.5 454.5h2.0M394.5 456h2.0M394.5 457h2.0M394.5 458h2.0M394.5 461.5h2.0M394.5 462.5h2.0M394.5 463.5h2.0M394.5 464h2.0M394.5 464.5h2.0M394.5 467h2.0M394.5 468h2.0M394.5 468.5h2.0M394.5 470.5h2.0M394.5 472h2.0M394.5 472.5h2.0M394.5 473h2.0M394.5 475h2.0M394.5 480h2.0M394.5 481.5h2.0M394.5 484.5h2.0M394.5 486h2.0M394.5 486.5h2.0M394.5 490.5h2.0M394.5 492h2.0M394.5 495h2.0M394.5 496h2.0M394.5 496.5h2.0M394.5 498h2.0M394.5 498.5h2.0M395 381.5h2.0M395 385h2.0M395 403h2.0M395 407.5h2.0M395 409h2.0M395 411h2.0M395 413h2.0M395 415h2.0M395 415.5h2.0M395 423.5h2.0M395 427h2.0M395 427.5h2.0M395 428h2.0M395 430.5h2.0M395 434h2.0M395 435h2.0M395 435.5h2.0M395 437.5h2.0M395 438.5h2.0M395 440.5h2.0M395 441h2.0M395 442.5h2.0M395 443.5h2.0M395 444.5h2.0M395 447.5h2.0M395 448h2.0M395 451.5h2.0M395 452h2.0M395 452.5h2.0M395 454h2.0M395 456h2.0M395 461.5h2.0M395 462.5h2.0M395 469.5h2.0M395 470.5h2.0M395 473h2.0M395 473.5h2.0M395 474h2.0M395 477.5h2.0M395 478h2.0M395 478.5h2.0M395 480.5h2.0M395 482h2.0M395 482.5h2.0M395 483h2.0M395 485.5h2.0M395 487.5h2.0M395 489.5h2.0M395 490.5h2.0M395 493.5h2.0M395 495h2.0M395 495.5h2.0M395 496.5h2.0M395 498.5h2.0M395.5 368.5h2.0M395.5 403.5h2.0M395.5 407.5h2.0M395.5 410.5h2.0M395.5 413h2.0M395.5 413.5h2.0M395.5 416h2.0M395.5 417h2.0M395.5 422.5h2.0M395.5 426h2.0M395.5 426.5h2.0M395.5 428h2.0M395.5 428.5h2.0M395.5 429.5h2.0M395.5 430h2.0M395.5 434.5h2.0M395.5 436h2.0M395.5 438.5h2.0M395.5 442h2.0M395.5 443h2.0M395.5 444h2.0M395.5 445.5h2.0M395.5 446h2.0M395.5 448.5h2.0M395.5 451.5h2.0M395.5 454h2.0M395.5 454.5h2.0M395.5 455.5h2.0M395.5 456h2.0M395.5 458h2.0M395.5 459.5h2.0M395.5 460h2.0M395.5 461.5h2.0M395.5 468h2.0M395.5 469h2.0M395.5 470.5h2.0M395.5 471.5h2.0M395.5 472h2.0M395.5 472.5h2.0M395.5 475.5h2.0M395.5 477h2.0M395.5 478h2.0M395.5 479h2.0M395.5 485.5h2.0M395.5 486h2.0M395.5 487h2.0M395.5 488.5h2.0M395.5 489h2.0M395.5 493h2.0M395.5 497.5h2.0M395.5 498.5h2.0M396 378h2.0M396 402h2.0M396 406.5h2.0M396 410h2.0M396 412h2.0M396 415h2.0M396 415.5h2.0M396 417h2.0M396 417.5h2.0M396 418h2.0M396 419h2.0M396 420.5h2.0M396 424h2.0M396 429h2.0M396 429.5h2.0M396 432h2.0M396 434h2.0M396 439.5h2.0M396 441.5h2.0M396 444h2.0M396 444.5h2.0M396 447h2.0M396 448h2.0M396 448.5h2.0M396 449h2.0M396 455h2.0M396 456h2.0M396 457.5h2.0M396 458h2.0M396 458.5h2.0M396 460.5h2.0M396 462h2.0M396 463h2.0M396 463.5h2.0M396 465h2.0M396 465.5h2.0M396 467h2.0M396 467.5h2.0M396 468.5h2.0M396 470h2.0M396 473.5h2.0M396 475.5h2.0M396 476h2.0M396 478.5h2.0M396 479h2.0M396 479.5h2.0M396 480h2.0M396 481.5h2.0M396 482h2.0M396 482.5h2.0M396 483h2.0M396 484.5h2.0M396 485.5h2.0M396 486h2.0M396 486.5h2.0M396 488h2.0M396 488.5h2.0M396 489.5h2.0M396 490.5h2.0M396 491.5h2.0M396 494.5h2.0M396 495h2.0M396 497h2.0M396 498.5h2.0M396.5 402h2.0M396.5 406.5h2.0M396.5 408h2.0M396.5 410.5h2.0M396.5 413h2.0M396.5 418h2.0M396.5 421h2.0M396.5 423h2.0M396.5 423.5h2.0M396.5 425h2.0M396.5 428.5h2.0M396.5 430h2.0M396.5 430.5h2.0M396.5 431h2.0M396.5 432.5h2.0M396.5 433h2.0M396.5 435h2.0M396.5 438h2.0M396.5 440h2.0M396.5 440.5h2.0M396.5 443h2.0M396.5 443.5h2.0M396.5 446.5h2.0M396.5 447.5h2.0M396.5 451h2.0M396.5 452h2.0M396.5 452.5h2.0M396.5 454h2.0M396.5 455.5h2.0M396.5 456h2.0M396.5 457h2.0M396.5 460.5h2.0M396.5 463h2.0M396.5 464.5h2.0M396.5 465.5h2.0M396.5 467h2.0M396.5 474.5h2.0M396.5 475h2.0M396.5 477h2.0M396.5 479.5h2.0M396.5 481h2.0M396.5 485h2.0M396.5 486h2.0M396.5 489h2.0M396.5 492h2.0M396.5 492.5h2.0M396.5 494.5h2.0M396.5 496h2.0M396.5 498.5h2.0M397 411h2.0M397 412h2.0M397 413h2.0M397 413.5h2.0M397 414h2.0M397 416.5h2.0M397 419h2.0M397 423h2.0M397 425.5h2.0M397 428h2.0M397 429.5h2.0M397 433.5h2.0M397 434h2.0M397 435h2.0M397 435.5h2.0M397 436.5h2.0M397 438.5h2.0M397 439h2.0M397 439.5h2.0M397 442.5h2.0M397 446h2.0M397 448h2.0M397 448.5h2.0M397 449.5h2.0M397 450.5h2.0M397 451h2.0M397 452.5h2.0M397 456h2.0M397 457.5h2.0M397 458h2.0M397 458.5h2.0M397 460.5h2.0M397 462.5h2.0M397 465h2.0M397 467h2.0M397 468.5h2.0M397 469.5h2.0M397 471.5h2.0M397 474h2.0M397 475h2.0M397 478.5h2.0M397 485h2.0M397 488h2.0M397 490h2.0M397 496h2.0M397 498.5h2.0M397.5 406h2.0M397.5 408h2.0M397.5 411.5h2.0M397.5 412h2.0M397.5 413h2.0M397.5 414.5h2.0M397.5 416h2.0M397.5 416.5h2.0M397.5 417.5h2.0M397.5 420h2.0M397.5 423.5h2.0M397.5 426h2.0M397.5 427h2.0M397.5 428.5h2.0M397.5 429h2.0M397.5 433h2.0M397.5 433.5h2.0M397.5 435.5h2.0M397.5 437.5h2.0M397.5 439h2.0M397.5 440.5h2.0M397.5 443.5h2.0M397.5 444h2.0M397.5 448h2.0M397.5 449h2.0M397.5 450.5h2.0M397.5 463.5h2.0M397.5 469h2.0M397.5 469.5h2.0M397.5 471.5h2.0M397.5 473h2.0M397.5 475.5h2.0M397.5 477.5h2.0M397.5 478.5h2.0M397.5 480h2.0M397.5 480.5h2.0M397.5 483h2.0M397.5 483.5h2.0M397.5 486h2.0M397.5 486.5h2.0M397.5 487.5h2.0M397.5 490.5h2.0M397.5 491h2.0M397.5 495h2.0M397.5 495.5h2.0M397.5 496h2.0M397.5 496.5h2.0M397.5 498.5h2.0M398 405h2.0M398 408h2.0M398 409h2.0M398 409.5h2.0M398 412h2.0M398 413.5h2.0M398 414h2.0M398 414.5h2.0M398 415h2.0M398 416.5h2.0M398 418h2.0M398 419.5h2.0M398 420.5h2.0M398 422h2.0M398 422.5h2.0M398 425h2.0M398 426h2.0M398 427.5h2.0M398 428.5h2.0M398 429.5h2.0M398 430h2.0M398 435h2.0M398 438.5h2.0M398 440.5h2.0M398 443h2.0M398 447h2.0M398 448h2.0M398 450h2.0M398 451.5h2.0M398 452h2.0M398 453h2.0M398 454h2.0M398 456h2.0M398 457.5h2.0M398 458.5h2.0M398 460.5h2.0M398 461.5h2.0M398 467h2.0M398 468.5h2.0M398 469.5h2.0M398 476.5h2.0M398 478h2.0M398 478.5h2.0M398 479h2.0M398 480h2.0M398 481.5h2.0M398 482h2.0M398 486h2.0M398 488.5h2.0M398 490.5h2.0M398 491h2.0M398 492.5h2.0M398 498h2.0M398 498.5h2.0M398.5 390.5h2.0M398.5 400h2.0M398.5 401h2.0M398.5 413.5h2.0M398.5 415h2.0M398.5 417.5h2.0M398.5 418.5h2.0M398.5 420h2.0M398.5 420.5h2.0M398.5 421h2.0M398.5 421.5h2.0M398.5 422.5h2.0M398.5 423.5h2.0M398.5 424.5h2.0M398.5 425.5h2.0M398.5 428h2.0M398.5 428.5h2.0M398.5 433h2.0M398.5 434.5h2.0M398.5 436.5h2.0M398.5 440h2.0M398.5 441h2.0M398.5 443.5h2.0M398.5 444h2.0M398.5 445.5h2.0M398.5 453h2.0M398.5 455h2.0M398.5 459h2.0M398.5 460h2.0M398.5 469h2.0M398.5 470h2.0M398.5 471.5h2.0M398.5 472h2.0M398.5 472.5h2.0M398.5 476h2.0M398.5 478h2.0M398.5 479.5h2.0M398.5 488h2.0M398.5 490.5h2.0M398.5 491.5h2.0M398.5 492h2.0M398.5 493.5h2.0M398.5 494h2.0M398.5 495h2.0M398.5 496h2.0M398.5 496.5h2.0M398.5 497.5h2.0M399 404.5h2.0M399 407.5h2.0M399 413.5h2.0M399 417h2.0M399 417.5h2.0M399 422h2.0M399 423.5h2.0M399 425.5h2.0M399 426h2.0M399 426.5h2.0M399 427h2.0M399 429h2.0M399 430.5h2.0M399 431h2.0M399 435h2.0M399 437h2.0M399 439.5h2.0M399 440h2.0M399 441h2.0M399 443h2.0M399 443.5h2.0M399 447h2.0M399 448.5h2.0M399 449.5h2.0M399 450h2.0M399 452h2.0M399 454h2.0M399 454.5h2.0M399 457h2.0M399 460h2.0M399 461h2.0M399 462.5h2.0M399 463h2.0M399 469h2.0M399 469.5h2.0M399 470.5h2.0M399 475h2.0M399 475.5h2.0M399 476h2.0M399 482.5h2.0M399 483.5h2.0M399 486.5h2.0M399 488.5h2.0M399 491.5h2.0M399 498h2.0M399 498.5h2.0M399.5 393h2.0M399.5 404.5h2.0M399.5 409h2.0M399.5 415.5h2.0M399.5 417.5h2.0M399.5 420.5h2.0M399.5 423.5h2.0M399.5 425.5h2.0M399.5 429h2.0M399.5 429.5h2.0M399.5 435.5h2.0M399.5 438h2.0M399.5 439h2.0M399.5 443h2.0M399.5 443.5h2.0M399.5 445h2.0M399.5 445.5h2.0M399.5 446h2.0M399.5 447h2.0M399.5 447.5h2.0M399.5 448h2.0M399.5 450h2.0M399.5 451.5h2.0M399.5 453h2.0M399.5 456h2.0M399.5 457h2.0M399.5 458.5h2.0M399.5 459.5h2.0M399.5 462h2.0M399.5 463h2.0M399.5 465h2.0M399.5 467h2.0M399.5 467.5h2.0M399.5 468h2.0M399.5 472h2.0M399.5 472.5h2.0M399.5 474h2.0M399.5 478h2.0M399.5 480h2.0M399.5 483.5h2.0M399.5 484.5h2.0M399.5 486h2.0M399.5 487h2.0M399.5 487.5h2.0M399.5 488h2.0M399.5 488.5h2.0M399.5 492.5h2.0M399.5 494h2.0M399.5 496h2.0M399.5 498.5h2.0M400 378.5h2.0M400 379.5h2.0M400 399.5h2.0M400 409h2.0M400 410h2.0M400 413h2.0M400 415h2.0M400 421.5h2.0M400 422.5h2.0M400 426h2.0M400 428.5h2.0M400 433h2.0M400 434.5h2.0M400 436h2.0M400 438.5h2.0M400 439.5h2.0M400 444h2.0M400 445.5h2.0M400 447.5h2.0M400 455.5h2.0M400 460h2.0M400 467.5h2.0M400 468h2.0M400 473h2.0M400 474h2.0M400 476h2.0M400 484h2.0M400 490.5h2.0M400 492.5h2.0M400 493.5h2.0M400 498.5h2.0M400.5 400.5h2.0M400.5 405.5h2.0M400.5 415.5h2.0M400.5 420.5h2.0M400.5 421.5h2.0M400.5 430h2.0M400.5 431.5h2.0M400.5 433.5h2.0M400.5 437h2.0M400.5 445.5h2.0M400.5 446h2.0M400.5 448.5h2.0M400.5 453h2.0M400.5 457.5h2.0M400.5 462h2.0M400.5 463.5h2.0M400.5 464.5h2.0M400.5 469h2.0M400.5 473.5h2.0M400.5 474h2.0M400.5 475h2.0M400.5 477h2.0M400.5 477.5h2.0M400.5 478.5h2.0M400.5 481.5h2.0M400.5 485h2.0M400.5 486h2.0M400.5 487.5h2.0M400.5 490.5h2.0M400.5 495h2.0M400.5 496.5h2.0M400.5 498h2.0M400.5 498.5h2.0M401 412.5h2.0M401 414h2.0M401 414.5h2.0M401 420.5h2.0M401 424h2.0M401 430h2.0M401 432h2.0M401 436h2.0M401 439.5h2.0M401 442.5h2.0M401 444h2.0M401 444.5h2.0M401 445h2.0M401 447h2.0M401 449h2.0M401 452h2.0M401 453.5h2.0M401 457h2.0M401 459h2.0M401 460h2.0M401 463h2.0M401 464h2.0M401 468h2.0M401 468.5h2.0M401 471.5h2.0M401 473h2.0M401 474h2.0M401 474.5h2.0M401 476.5h2.0M401 477.5h2.0M401 479h2.0M401 482.5h2.0M401 484h2.0M401 485.5h2.0M401 486h2.0M401 488h2.0M401 492h2.0M401 498.5h2.0M401.5 392.5h2.0M401.5 408h2.0M401.5 409h2.0M401.5 413h2.0M401.5 414.5h2.0M401.5 418.5h2.0M401.5 427.5h2.0M401.5 430.5h2.0M401.5 436.5h2.0M401.5 442h2.0M401.5 442.5h2.0M401.5 447.5h2.0M401.5 450.5h2.0M401.5 451.5h2.0M401.5 453h2.0M401.5 454h2.0M401.5 456.5h2.0M401.5 457h2.0M401.5 457.5h2.0M401.5 458.5h2.0M401.5 462h2.0M401.5 465.5h2.0M401.5 468h2.0M401.5 470.5h2.0M401.5 473.5h2.0M401.5 476h2.0M401.5 478.5h2.0M401.5 479h2.0M401.5 480.5h2.0M401.5 483.5h2.0M401.5 486h2.0M401.5 489.5h2.0M401.5 494h2.0M401.5 495h2.0M401.5 496.5h2.0M401.5 498.5h2.0M402 378.5h2.0M402 409.5h2.0M402 412.5h2.0M402 417h2.0M402 424.5h2.0M402 425h2.0M402 428h2.0M402 432.5h2.0M402 434h2.0M402 434.5h2.0M402 435.5h2.0M402 451.5h2.0M402 453.5h2.0M402 455h2.0M402 457h2.0M402 458.5h2.0M402 461.5h2.0M402 464h2.0M402 469.5h2.0M402 490h2.0M402 491h2.0M402 494.5h2.0M402 497h2.0M402 498.5h2.0M402.5 409h2.0M402.5 411h2.0M402.5 413.5h2.0M402.5 416h2.0M402.5 422.5h2.0M402.5 441.5h2.0M402.5 444.5h2.0M402.5 445.5h2.0M402.5 446h2.0M402.5 446.5h2.0M402.5 448h2.0M402.5 457h2.0M402.5 458.5h2.0M402.5 462.5h2.0M402.5 463h2.0M402.5 464h2.0M402.5 465h2.0M402.5 467.5h2.0M402.5 471.5h2.0M402.5 473h2.0M402.5 474h2.0M402.5 480.5h2.0M402.5 483.5h2.0M402.5 489h2.0M402.5 490h2.0M402.5 491.5h2.0M402.5 494h2.0M402.5 496h2.0M403 412.5h2.0M403 416h2.0M403 429.5h2.0M403 431h2.0M403 434h2.0M403 440h2.0M403 441.5h2.0M403 443h2.0M403 446.5h2.0M403 447.5h2.0M403 449.5h2.0M403 453h2.0M403 454h2.0M403 455h2.0M403 456h2.0M403 469h2.0M403 470.5h2.0M403 471.5h2.0M403 479h2.0M403 485h2.0M403 486.5h2.0M403 488.5h2.0M403 491h2.0M403 497h2.0M403 498.5h2.0M403.5 415.5h2.0M403.5 416.5h2.0M403.5 419.5h2.0M403.5 420.5h2.0M403.5 426.5h2.0M403.5 427.5h2.0M403.5 431h2.0M403.5 432h2.0M403.5 435.5h2.0M403.5 436h2.0M403.5 437.5h2.0M403.5 438h2.0M403.5 451.5h2.0M403.5 454.5h2.0M403.5 456h2.0M403.5 457.5h2.0M403.5 458.5h2.0M403.5 460.5h2.0M403.5 461h2.0M403.5 464h2.0M403.5 467h2.0M403.5 467.5h2.0M403.5 472h2.0M403.5 479h2.0M403.5 480.5h2.0M403.5 483h2.0M403.5 483.5h2.0M403.5 484h2.0M403.5 487h2.0M403.5 487.5h2.0M403.5 498.5h2.0M404 413.5h2.0M404 414.5h2.0M404 416h2.0M404 419h2.0M404 419.5h2.0M404 422h2.0M404 424.5h2.0M404 425h2.0M404 429h2.0M404 431.5h2.0M404 434h2.0M404 435.5h2.0M404 441h2.0M404 442.5h2.0M404 445h2.0M404 445.5h2.0M404 451h2.0M404 457h2.0M404 457.5h2.0M404 459h2.0M404 466.5h2.0M404 469h2.0M404 469.5h2.0M404 472h2.0M404 473.5h2.0M404 477h2.0M404 479.5h2.0M404 487h2.0M404 487.5h2.0M404 488h2.0M404 498.5h2.0M404.5 396h2.0M404.5 402.5h2.0M404.5 408h2.0M404.5 409.5h2.0M404.5 411h2.0M404.5 413h2.0M404.5 414h2.0M404.5 415h2.0M404.5 416h2.0M404.5 432.5h2.0M404.5 435h2.0M404.5 439h2.0M404.5 449.5h2.0M404.5 450h2.0M404.5 452.5h2.0M404.5 456h2.0M404.5 459.5h2.0M404.5 467h2.0M404.5 469h2.0M404.5 469.5h2.0M404.5 471h2.0M404.5 475h2.0M404.5 478.5h2.0M404.5 484h2.0M404.5 486.5h2.0M404.5 487h2.0M404.5 498.5h2.0M405 407.5h2.0M405 420h2.0M405 422h2.0M405 426h2.0M405 427.5h2.0M405 440.5h2.0M405 445h2.0M405 446.5h2.0M405 449h2.0M405 456h2.0M405 458.5h2.0M405 459h2.0M405 461h2.0M405 462h2.0M405 464h2.0M405 465.5h2.0M405 466h2.0M405 467.5h2.0M405 482.5h2.0M405 484h2.0M405 485.5h2.0M405 497h2.0M405 498h2.0M405.5 408h2.0M405.5 416.5h2.0M405.5 417.5h2.0M405.5 423.5h2.0M405.5 424h2.0M405.5 426h2.0M405.5 428h2.0M405.5 428.5h2.0M405.5 436.5h2.0M405.5 447h2.0M405.5 465.5h2.0M405.5 470.5h2.0M405.5 472h2.0M405.5 476h2.0M405.5 482h2.0M405.5 491h2.0M405.5 494h2.0M405.5 495.5h2.0M405.5 498h2.0M406 413h2.0M406 427h2.0M406 434h2.0M406 440.5h2.0M406 441h2.0M406 442.5h2.0M406 447.5h2.0M406 453.5h2.0M406 467h2.0M406 469.5h2.0M406 472h2.0M406 473h2.0M406 477h2.0M406 481.5h2.0M406 496h2.0M406.5 419.5h2.0M406.5 426.5h2.0M406.5 432h2.0M406.5 442h2.0M406.5 447h2.0M406.5 462.5h2.0M406.5 464h2.0M406.5 474.5h2.0M406.5 481.5h2.0M406.5 484h2.0M406.5 489h2.0M407 410.5h2.0M407 415.5h2.0M407 426h2.0M407 442.5h2.0M407 443.5h2.0M407 444.5h2.0M407 446h2.0M407 449h2.0M407 459.5h2.0M407 460h2.0M407 469.5h2.0M407 479h2.0M407 482h2.0M407 486h2.0M407 498.5h2.0M407.5 402h2.0M407.5 406h2.0M407.5 409h2.0M407.5 433.5h2.0M407.5 436h2.0M407.5 437.5h2.0M407.5 438h2.0M407.5 443.5h2.0M407.5 446h2.0M407.5 453h2.0M407.5 456h2.0M407.5 460.5h2.0M407.5 465h2.0M407.5 465.5h2.0M407.5 467h2.0M407.5 478.5h2.0M407.5 484.5h2.0M408 419.5h2.0M408 421h2.0M408 440.5h2.0M408 450.5h2.0M408 452h2.0M408 461.5h2.0M408 478h2.0M408 483.5h2.0M408 498.5h2.0M408.5 418.5h2.0M408.5 427h2.0M408.5 450.5h2.0M408.5 451.5h2.0M408.5 455.5h2.0M408.5 461h2.0M408.5 471h2.0M408.5 472.5h2.0M409 400h2.0M409 421h2.0M409 456h2.0M409 471.5h2.0M409 498h2.0M409.5 407h2.0M409.5 420h2.0M409.5 427.5h2.0M409.5 433.5h2.0M409.5 440.5h2.0M409.5 457h2.0M409.5 482h2.0M410 405h2.0M410 434.5h2.0M410 440.5h2.0M410 464.5h2.0M410 498.5h2.0M410.5 395h2.0M410.5 449.5h2.0M410.5 450h2.0M410.5 460h2.0M410.5 493h2.0M411 420h2.0M411 474.5h2.0M411.5 395.5h2.0M411.5 448.5h2.0M411.5 459.5h2.0M411.5 463.5h2.0M411.5 486h2.0M411.5 498.5h2.0M412 418h2.0M412 423h2.0M412 426.5h2.0M412 442h2.0M412 453h2.0M412 472h2.0M412 473.5h2.0M412.5 453.5h2.0M412.5 454h2.0M412.5 463.5h2.0M412.5 475h2.0M412.5 480h2.0M413 415.5h2.0M413 440.5h2.0M413 498.5h2.0M413.5 391.5h2.0M413.5 435h2.0M414 443.5h2.0M414 498.5h2.0M414.5 458.5h2.0M415 426h2.0M415 493.5h2.0M415.5 447h2.0M415.5 463h2.0M415.5 477.5h2.0M415.5 498.5h2.0M416 441h2.0M416 462.5h2.0M416 469.5h2.0M416 479h2.0M416 498.5h2.0M416.5 416.5h2.0M416.5 424.5h2.0M416.5 434h2.0M416.5 469.5h2.0M416.5 482.5h2.0M417 419.5h2.0M417 498h2.0M417 498.5h2.0M417.5 396h2.0M417.5 424.5h2.0M417.5 432h2.0M417.5 436h2.0M417.5 448h2.0M417.5 463.5h2.0M417.5 483.5h2.0M418 377h2.0M418 382.5h2.0M418 403.5h2.0M418 411.5h2.0M418 413.5h2.0M418 414h2.0M418 423h2.0M418 466h2.0M418 468.5h2.0M418 491.5h2.0M418 498.5h2.0M418.5 431h2.0M419 424h2.0M419 427h2.0M419 433h2.0M419.5 493h2.0M420 397.5h2.0M420 399.5h2.0M420 405.5h2.0M420 417h2.0M420 487.5h2.0M420.5 345.5h2.0M420.5 392.5h2.0M420.5 414.5h2.0M420.5 416h2.0M420.5 417h2.0M420.5 453.5h2.0M420.5 498.5h2.0M421 392h2.0M421 415.5h2.0M421 418.5h2.0M421 438h2.0M421.5 449.5h2.0M421.5 458.5h2.0M422 387h2.0M422 403h2.0M422 404h2.0M422 408.5h2.0M422 411h2.0M422.5 410.5h2.0M422.5 498h2.0M423 415.5h2.0M423 417h2.0M423 418h2.0M423 421h2.0M423 426h2.0M423.5 408.5h2.0M423.5 476h2.0M424 426.5h2.0M424 469.5h2.0M424.5 399.5h2.0M424.5 424h2.0M424.5 498.5h2.0M425 383.5h2.0M425 385h2.0M425 498h2.0M425.5 376.5h2.0M425.5 377.5h2.0M425.5 411h2.0M425.5 434h2.0M426 379.5h2.0M426 391.5h2.0M426 415.5h2.0M426.5 371h2.0M426.5 427h2.0M427 438.5h2.0M427 441h2.0M427 462h2.0M427.5 396h2.0M428 430h2.0M428.5 382.5h2.0M428.5 414.5h2.0M429 411.5h2.0M429 420.5h2.0M429 438h2.0M429.5 374h2.0M431 373.5h2.0M431 435.5h2.0M433 398.5h2.0M433 405.5h2.0M433.5 422h2.0M433.5 498.5h2.0M434 387.5h2.0M434.5 360.5h2.0M434.5 398.5h2.0M434.5 411h2.0M435 434.5h2.0M437 498.5h2.0M438.5 375.5h2.0M439.5 383.5h2.0M440.5 498.5h2.0M441.5 379.5h2.0M443.5 380.5h2.0M444 380.5h2.0M445 388h2.0M445 402h2.0M446 387.5h2.0M448.5 498.5h2.0M450.5 410h2.0M451.5 498h2.0M452 498.5h2.0M454.5 498.5h2.0M455 383.5h2.0M456.5 498h2.0M457.5 498h2.0M458 498.5h2.0M459 374.5h2.0M460.5 411h2.0M467 366.5h2.0M471 358h2.0" stroke="#de0822" stroke-width="2.0" fill="none"/>
<path d="M82.1 27.2L285.6 26V242.9H82.1Z" fill="none" stroke="#000" stroke-width="2.2"/>
<path d="M198.5 26.51V242.9" stroke="#000" stroke-width="2.6" fill="none"/>
<path d="M82.1 174.3H285.6" stroke="#000" stroke-width="2.4" fill="none"/>
<path d="M82.1 242.8h-6.8M82.1 226.63h-3.8M82.1 217.18h-3.8M82.1 210.47h-3.8M82.1 205.27h-3.8M82.1 201.01h-3.8M82.1 197.42h-3.8M82.1 194.3h-3.8M82.1 191.56h-3.8M82.1 189.1h-6.8M82.1 172.93h-3.8M82.1 163.48h-3.8M82.1 156.77h-3.8M82.1 151.57h-3.8M82.1 147.31h-3.8M82.1 143.72h-3.8M82.1 140.6h-3.8M82.1 137.86h-3.8M82.1 135.4h-6.8M82.1 119.23h-3.8M82.1 109.78h-3.8M82.1 103.07h-3.8M82.1 97.87h-3.8M82.1 93.61h-3.8M82.1 90.02h-3.8M82.1 86.9h-3.8M82.1 84.16h-3.8M82.1 81.7h-6.8M82.1 65.53h-3.8M82.1 56.08h-3.8M82.1 49.37h-3.8M82.1 44.17h-3.8M82.1 39.91h-3.8M82.1 36.32h-3.8M82.1 33.2h-3.8M82.1 30.46h-3.8M82.1 28h-6.8M82.1 242.9v4.4M97.41 242.9v3.6M106.37 242.9v3.6M112.73 242.9v3.6M117.66 242.9v3.6M121.69 242.9v3.6M125.09 242.9v3.6M128.04 242.9v3.6M130.65 242.9v3.6M132.97 242.9v4.4M148.29 242.9v3.6M157.25 242.9v3.6M163.6 242.9v3.6M168.54 242.9v3.6M172.56 242.9v3.6M175.97 242.9v3.6M178.92 242.9v3.6M181.52 242.9v3.6M183.85 242.9v4.4M199.16 242.9v3.6M208.12 242.9v3.6M214.48 242.9v3.6M219.41 242.9v3.6M223.44 242.9v3.6M226.84 242.9v3.6M229.79 242.9v3.6M232.4 242.9v3.6M234.73 242.9v4.4M250.04 242.9v3.6M259 242.9v3.6M265.35 242.9v3.6M270.29 242.9v3.6M274.31 242.9v3.6M277.72 242.9v3.6M280.67 242.9v3.6M283.27 242.9v3.6M285.6 242.9v4.4" stroke="#000" stroke-width="1.7" fill="none"/>
<path d="M303.2 27L507.5 26.1V243.1H303.2Z" fill="none" stroke="#000" stroke-width="2.2"/>
<path d="M398.2 26.58V243.1" stroke="#000" stroke-width="2.6" fill="none"/>
<path d="M303.2 172.6H507.5" stroke="#000" stroke-width="2.4" fill="none"/>
<path d="M303.2 243.1h-2.8M303.2 226.84h-2.4M303.2 217.32h-2.4M303.2 210.57h-2.4M303.2 205.34h-2.4M303.2 201.06h-2.4M303.2 197.44h-2.4M303.2 194.31h-2.4M303.2 191.55h-2.4M303.2 189.07h-2.8M303.2 172.81h-2.4M303.2 163.3h-2.4M303.2 156.55h-2.4M303.2 151.31h-2.4M303.2 147.04h-2.4M303.2 143.42h-2.4M303.2 140.29h-2.4M303.2 137.52h-2.4M303.2 135.05h-2.8M303.2 118.79h-2.4M303.2 109.27h-2.4M303.2 102.52h-2.4M303.2 97.29h-2.4M303.2 93.01h-2.4M303.2 89.39h-2.4M303.2 86.26h-2.4M303.2 83.5h-2.4M303.2 81.03h-2.8M303.2 64.76h-2.4M303.2 55.25h-2.4M303.2 48.5h-2.4M303.2 43.26h-2.4M303.2 38.99h-2.4M303.2 35.37h-2.4M303.2 32.24h-2.4M303.2 29.47h-2.4M303.2 27h-2.8M303.2 243.1v4.4M318.58 243.1v3.6M327.57 243.1v3.6M333.95 243.1v3.6M338.9 243.1v3.6M342.94 243.1v3.6M346.36 243.1v3.6M349.33 243.1v3.6M351.94 243.1v3.6M354.27 243.1v4.4M369.65 243.1v3.6M378.64 243.1v3.6M385.03 243.1v3.6M389.97 243.1v3.6M394.02 243.1v3.6M397.44 243.1v3.6M400.4 243.1v3.6M403.01 243.1v3.6M405.35 243.1v4.4M420.73 243.1v3.6M429.72 243.1v3.6M436.1 243.1v3.6M441.05 243.1v3.6M445.09 243.1v3.6M448.51 243.1v3.6M451.48 243.1v3.6M454.09 243.1v3.6M456.43 243.1v4.4M471.8 243.1v3.6M480.79 243.1v3.6M487.18 243.1v3.6M492.12 243.1v3.6M496.17 243.1v3.6M499.59 243.1v3.6M502.55 243.1v3.6M505.16 243.1v3.6M507.5 243.1v4.4" stroke="#000" stroke-width="1.7" fill="none"/>
<path d="M82.2 285.8L286.9 284.9V500.3H82.2Z" fill="none" stroke="#000" stroke-width="2.2"/>
<path d="M191.6 285.32V500.3" stroke="#000" stroke-width="2.6" fill="none"/>
<path d="M82.2 431.8H286.9" stroke="#000" stroke-width="2.4" fill="none"/>
<path d="M82.2 500.3h-6.8M82.2 484.16h-3.8M82.2 474.71h-3.8M82.2 468.01h-3.8M82.2 462.82h-3.8M82.2 458.57h-3.8M82.2 454.98h-3.8M82.2 451.87h-3.8M82.2 449.13h-3.8M82.2 446.68h-6.8M82.2 430.53h-3.8M82.2 421.09h-3.8M82.2 414.39h-3.8M82.2 409.19h-3.8M82.2 404.95h-3.8M82.2 401.36h-3.8M82.2 398.25h-3.8M82.2 395.5h-3.8M82.2 393.05h-6.8M82.2 376.91h-3.8M82.2 367.46h-3.8M82.2 360.76h-3.8M82.2 355.57h-3.8M82.2 351.32h-3.8M82.2 347.73h-3.8M82.2 344.62h-3.8M82.2 341.88h-3.8M82.2 339.43h-6.8M82.2 323.28h-3.8M82.2 313.84h-3.8M82.2 307.14h-3.8M82.2 301.94h-3.8M82.2 297.7h-3.8M82.2 294.11h-3.8M82.2 291h-3.8M82.2 288.25h-3.8M82.2 285.8h-6.8M82.2 500.3v7.0M97.61 500.3v4.6M106.62 500.3v4.6M113.01 500.3v4.6M117.97 500.3v4.6M122.02 500.3v4.6M125.45 500.3v4.6M128.42 500.3v4.6M131.03 500.3v4.6M133.38 500.3v7.0M148.78 500.3v4.6M157.79 500.3v4.6M164.19 500.3v4.6M169.14 500.3v4.6M173.2 500.3v4.6M176.62 500.3v4.6M179.59 500.3v4.6M182.21 500.3v4.6M184.55 500.3v7.0M199.96 500.3v4.6M208.97 500.3v4.6M215.36 500.3v4.6M220.32 500.3v4.6M224.37 500.3v4.6M227.8 500.3v4.6M230.77 500.3v4.6M233.38 500.3v4.6M235.72 500.3v7.0M251.13 500.3v4.6M260.14 500.3v4.6M266.54 500.3v4.6M271.49 500.3v4.6M275.55 500.3v4.6M278.97 500.3v4.6M281.94 500.3v4.6M284.56 500.3v4.6M286.9 500.3v7.0" stroke="#000" stroke-width="1.7" fill="none"/>
<path d="M303.2 285.2L507.6 284.5V500.2H303.2Z" fill="none" stroke="#000" stroke-width="2.2"/>
<path d="M412.3 284.83V500.2" stroke="#000" stroke-width="2.6" fill="none"/>
<path d="M303.2 432.8H507.6" stroke="#000" stroke-width="2.4" fill="none"/>
<path d="M303.2 500.2h-2.8M303.2 484.02h-2.4M303.2 474.55h-2.4M303.2 467.84h-2.4M303.2 462.63h-2.4M303.2 458.37h-2.4M303.2 454.78h-2.4M303.2 451.66h-2.4M303.2 448.91h-2.4M303.2 446.45h-2.8M303.2 430.27h-2.4M303.2 420.8h-2.4M303.2 414.09h-2.4M303.2 408.88h-2.4M303.2 404.62h-2.4M303.2 401.03h-2.4M303.2 397.91h-2.4M303.2 395.16h-2.4M303.2 392.7h-2.8M303.2 376.52h-2.4M303.2 367.05h-2.4M303.2 360.34h-2.4M303.2 355.13h-2.4M303.2 350.87h-2.4M303.2 347.28h-2.4M303.2 344.16h-2.4M303.2 341.41h-2.4M303.2 338.95h-2.8M303.2 322.77h-2.4M303.2 313.3h-2.4M303.2 306.59h-2.4M303.2 301.38h-2.4M303.2 297.12h-2.4M303.2 293.53h-2.4M303.2 290.41h-2.4M303.2 287.66h-2.4M303.2 285.2h-2.8M303.2 500.2v7.0M318.58 500.2v4.6M327.58 500.2v4.6M333.97 500.2v4.6M338.92 500.2v4.6M342.96 500.2v4.6M346.38 500.2v4.6M349.35 500.2v4.6M351.96 500.2v4.6M354.3 500.2v7.0M369.68 500.2v4.6M378.68 500.2v4.6M385.07 500.2v4.6M390.02 500.2v4.6M394.06 500.2v4.6M397.48 500.2v4.6M400.45 500.2v4.6M403.06 500.2v4.6M405.4 500.2v7.0M420.78 500.2v4.6M429.78 500.2v4.6M436.17 500.2v4.6M441.12 500.2v4.6M445.16 500.2v4.6M448.58 500.2v4.6M451.55 500.2v4.6M454.16 500.2v4.6M456.5 500.2v7.0M471.88 500.2v4.6M480.88 500.2v4.6M487.27 500.2v4.6M492.22 500.2v4.6M496.26 500.2v4.6M499.68 500.2v4.6M502.65 500.2v4.6M505.26 500.2v4.6M507.6 500.2v7.0" stroke="#000" stroke-width="1.7" fill="none"/>
<text x="81.3" y="19" font-family='"Liberation Sans", Arial, Helvetica, sans-serif' font-size="23.5" font-weight="bold" text-anchor="start" stroke="#000" stroke-width="0.3" >A</text>
<text x="302" y="18.8" font-family='"Liberation Sans", Arial, Helvetica, sans-serif' font-size="23.5" font-weight="bold" text-anchor="start" stroke="#000" stroke-width="0.3" >B</text>
<text x="79.3" y="274.2" font-family='"Liberation Sans", Arial, Helvetica, sans-serif' font-size="23.5" font-weight="bold" text-anchor="start" stroke="#000" stroke-width="0.3" >C</text>
<text x="301.5" y="273.3" font-family='"Liberation Sans", Arial, Helvetica, sans-serif' font-size="23.5" font-weight="bold" text-anchor="start" stroke="#000" stroke-width="0.3" >D</text>
<g transform="translate(70.3 238) rotate(-90)">
<text x="0" y="0" font-family='"Liberation Sans", Arial, Helvetica, sans-serif' font-size="12.2" font-weight="normal" text-anchor="end" stroke="#000" stroke-width="0.6" >0</text>
<text x="0.4" y="-7.4" font-family='"Liberation Sans", Arial, Helvetica, sans-serif' font-size="11.8" font-weight="normal" text-anchor="start" stroke="#000" stroke-width="0.6" >0</text>
</g>
<g transform="translate(70.3 184.95) rotate(-90)">
<text x="0" y="0" font-family='"Liberation Sans", Arial, Helvetica, sans-serif' font-size="12.2" font-weight="normal" text-anchor="end" stroke="#000" stroke-width="0.6" >10</text>
<text x="0.4" y="-7.4" font-family='"Liberation Sans", Arial, Helvetica, sans-serif' font-size="11.8" font-weight="normal" text-anchor="start" stroke="#000" stroke-width="0.6" >1</text>
</g>
<g transform="translate(70.3 131.9) rotate(-90)">
<text x="0" y="0" font-family='"Liberation Sans", Arial, Helvetica, sans-serif' font-size="12.2" font-weight="normal" text-anchor="end" stroke="#000" stroke-width="0.6" >10</text>
<text x="0.4" y="-7.4" font-family='"Liberation Sans", Arial, Helvetica, sans-serif' font-size="11.8" font-weight="normal" text-anchor="start" stroke="#000" stroke-width="0.6" >2</text>
</g>
<g transform="translate(70.3 78.85) rotate(-90)">
<text x="0" y="0" font-family='"Liberation Sans", Arial, Helvetica, sans-serif' font-size="12.2" font-weight="normal" text-anchor="end" stroke="#000" stroke-width="0.6" >10</text>
<text x="0.4" y="-7.4" font-family='"Liberation Sans", Arial, Helvetica, sans-serif' font-size="11.8" font-weight="normal" text-anchor="start" stroke="#000" stroke-width="0.6" >3</text>
</g>
<g transform="translate(70.3 25.8) rotate(-90)">
<text x="0" y="0" font-family='"Liberation Sans", Arial, Helvetica, sans-serif' font-size="12.2" font-weight="normal" text-anchor="end" stroke="#000" stroke-width="0.6" >10</text>
<text x="0.4" y="-7.4" font-family='"Liberation Sans", Arial, Helvetica, sans-serif' font-size="11.8" font-weight="normal" text-anchor="start" stroke="#000" stroke-width="0.6" >4</text>
</g>
<g transform="translate(71 495.2) rotate(-90)">
<text x="0" y="0" font-family='"Liberation Sans", Arial, Helvetica, sans-serif' font-size="12.2" font-weight="normal" text-anchor="end" stroke="#000" stroke-width="0.6" >10</text>
<text x="0.4" y="-7.4" font-family='"Liberation Sans", Arial, Helvetica, sans-serif' font-size="11.8" font-weight="normal" text-anchor="start" stroke="#000" stroke-width="0.6" >0</text>
</g>
<g transform="translate(71 441.9) rotate(-90)">
<text x="0" y="0" font-family='"Liberation Sans", Arial, Helvetica, sans-serif' font-size="12.2" font-weight="normal" text-anchor="end" stroke="#000" stroke-width="0.6" >10</text>
<text x="0.4" y="-7.4" font-family='"Liberation Sans", Arial, Helvetica, sans-serif' font-size="11.8" font-weight="normal" text-anchor="start" stroke="#000" stroke-width="0.6" >1</text>
</g>
<g transform="translate(71 388.6) rotate(-90)">
<text x="0" y="0" font-family='"Liberation Sans", Arial, Helvetica, sans-serif' font-size="12.2" font-weight="normal" text-anchor="end" stroke="#000" stroke-width="0.6" >10</text>
<text x="0.4" y="-7.4" font-family='"Liberation Sans", Arial, Helvetica, sans-serif' font-size="11.8" font-weight="normal" text-anchor="start" stroke="#000" stroke-width="0.6" >2</text>
</g>
<g transform="translate(71 335.3) rotate(-90)">
<text x="0" y="0" font-family='"Liberation Sans", Arial, Helvetica, sans-serif' font-size="12.2" font-weight="normal" text-anchor="end" stroke="#000" stroke-width="0.6" >10</text>
<text x="0.4" y="-7.4" font-family='"Liberation Sans", Arial, Helvetica, sans-serif' font-size="11.8" font-weight="normal" text-anchor="start" stroke="#000" stroke-width="0.6" >3</text>
</g>
<g transform="translate(71 282) rotate(-90)">
<text x="0" y="0" font-family='"Liberation Sans", Arial, Helvetica, sans-serif' font-size="12.2" font-weight="normal" text-anchor="end" stroke="#000" stroke-width="0.6" >10</text>
<text x="0.4" y="-7.4" font-family='"Liberation Sans", Arial, Helvetica, sans-serif' font-size="11.8" font-weight="normal" text-anchor="start" stroke="#000" stroke-width="0.6" >4</text>
</g>
<defs><clipPath id="cropD"><rect x="303.5" y="500" width="30" height="30"/></clipPath></defs>
<text x="73.2 80.2" y="523" font-family='"Liberation Sans", Arial, Helvetica, sans-serif' font-size="14.6" stroke="#000" stroke-width="0.6">10</text>
<text x="87.1" y="516.3" font-family='"Liberation Sans", Arial, Helvetica, sans-serif' font-size="13" font-weight="normal" text-anchor="start" stroke="#000" stroke-width="0.6" >0</text>
<text x="123.5 130.5" y="523" font-family='"Liberation Sans", Arial, Helvetica, sans-serif' font-size="14.6" stroke="#000" stroke-width="0.6">10</text>
<text x="137.4" y="516.3" font-family='"Liberation Sans", Arial, Helvetica, sans-serif' font-size="13" font-weight="normal" text-anchor="start" stroke="#000" stroke-width="0.6" >1</text>
<text x="173.8 180.8" y="523" font-family='"Liberation Sans", Arial, Helvetica, sans-serif' font-size="14.6" stroke="#000" stroke-width="0.6">10</text>
<text x="187.7" y="516.3" font-family='"Liberation Sans", Arial, Helvetica, sans-serif' font-size="13" font-weight="normal" text-anchor="start" stroke="#000" stroke-width="0.6" >2</text>
<text x="224.1 231.1" y="523" font-family='"Liberation Sans", Arial, Helvetica, sans-serif' font-size="14.6" stroke="#000" stroke-width="0.6">10</text>
<text x="238" y="516.3" font-family='"Liberation Sans", Arial, Helvetica, sans-serif' font-size="13" font-weight="normal" text-anchor="start" stroke="#000" stroke-width="0.6" >3</text>
<text x="274.4 281.4" y="523" font-family='"Liberation Sans", Arial, Helvetica, sans-serif' font-size="14.6" stroke="#000" stroke-width="0.6">10</text>
<text x="288.3" y="516.3" font-family='"Liberation Sans", Arial, Helvetica, sans-serif' font-size="13" font-weight="normal" text-anchor="start" stroke="#000" stroke-width="0.6" >4</text>
<text x="294 301" y="523" font-family='"Liberation Sans", Arial, Helvetica, sans-serif' font-size="14.6" stroke="#000" stroke-width="0.6" clip-path="url(#cropD)">10</text>
<text x="307.9" y="516.3" font-family='"Liberation Sans", Arial, Helvetica, sans-serif' font-size="13" font-weight="normal" text-anchor="start" stroke="#000" stroke-width="0.6" >0</text>
<text x="343.7 350.7" y="523" font-family='"Liberation Sans", Arial, Helvetica, sans-serif' font-size="14.6" stroke="#000" stroke-width="0.6">10</text>
<text x="357.6" y="516.3" font-family='"Liberation Sans", Arial, Helvetica, sans-serif' font-size="13" font-weight="normal" text-anchor="start" stroke="#000" stroke-width="0.6" >1</text>
<text x="393.4 400.4" y="523" font-family='"Liberation Sans", Arial, Helvetica, sans-serif' font-size="14.6" stroke="#000" stroke-width="0.6">10</text>
<text x="407.3" y="516.3" font-family='"Liberation Sans", Arial, Helvetica, sans-serif' font-size="13" font-weight="normal" text-anchor="start" stroke="#000" stroke-width="0.6" >2</text>
<text x="443.1 450.1" y="523" font-family='"Liberation Sans", Arial, Helvetica, sans-serif' font-size="14.6" stroke="#000" stroke-width="0.6">10</text>
<text x="457" y="516.3" font-family='"Liberation Sans", Arial, Helvetica, sans-serif' font-size="13" font-weight="normal" text-anchor="start" stroke="#000" stroke-width="0.6" >3</text>
<text x="492.8 499.8" y="523" font-family='"Liberation Sans", Arial, Helvetica, sans-serif' font-size="14.6" stroke="#000" stroke-width="0.6">10</text>
<text x="506.7" y="516.3" font-family='"Liberation Sans", Arial, Helvetica, sans-serif' font-size="13" font-weight="normal" text-anchor="start" stroke="#000" stroke-width="0.6" >4</text>
<text x="167" y="536.2" font-family='"Liberation Sans", Arial, Helvetica, sans-serif' font-size="13.6" font-weight="normal" text-anchor="start" stroke="#000" stroke-width="0.5" textLength="33.6" lengthAdjust="spacingAndGlyphs">FL1-H</text>
<text x="387.7" y="536.2" font-family='"Liberation Sans", Arial, Helvetica, sans-serif' font-size="13.6" font-weight="normal" text-anchor="start" stroke="#000" stroke-width="0.5" textLength="33.6" lengthAdjust="spacingAndGlyphs">FL1-H</text>
<g transform="translate(53.2 153.2) rotate(-90)">
<text x="0" y="0" font-family='"Liberation Sans", Arial, Helvetica, sans-serif' font-size="13.6" font-weight="normal" text-anchor="start" stroke="#000" stroke-width="0.5" textLength="33.6" lengthAdjust="spacingAndGlyphs">FL2-H</text>
</g>
<g transform="translate(53.2 410.6) rotate(-90)">
<text x="0" y="0" font-family='"Liberation Sans", Arial, Helvetica, sans-serif' font-size="13.6" font-weight="normal" text-anchor="start" stroke="#000" stroke-width="0.5" textLength="33.6" lengthAdjust="spacingAndGlyphs">FL2-H</text>
</g>
<text transform="translate(94.6 74.4) skewX(-9)" font-family='"Liberation Serif", "Times New Roman", Times, serif' font-size="17.6" font-weight="bold" stroke="#000" stroke-width="0.8" letter-spacing="0.4">45</text>
<text x="115.64" y="74.4" font-family='"Liberation Serif", "Times New Roman", Times, serif' font-size="17.6" font-weight="bold" font-style="italic" stroke="#000" stroke-width="0.8">%</text>
<text x="235.3" y="74.7" font-family='"Liberation Serif", "Times New Roman", Times, serif' font-size="17.6" font-weight="bold" stroke="#000" stroke-width="0.8" textLength="36.3" lengthAdjust="spacing">39<tspan dx="2" font-style="italic">%</tspan></text>
<text x="225.5" y="203.4" font-family='"Liberation Serif", "Times New Roman", Times, serif' font-size="17.6" font-weight="bold" stroke="#000" stroke-width="0.8" textLength="42.8" lengthAdjust="spacing">0.2<tspan dx="2" font-style="italic">%</tspan></text>
<text transform="translate(317.8 55.2) skewX(-9)" font-family='"Liberation Serif", "Times New Roman", Times, serif' font-size="17.6" font-weight="bold" stroke="#000" stroke-width="0.8" letter-spacing="0.4">32</text>
<text x="338.14" y="55.2" font-family='"Liberation Serif", "Times New Roman", Times, serif' font-size="17.6" font-weight="bold" font-style="italic" stroke="#000" stroke-width="0.8">%</text>
<text x="446" y="58" font-family='"Liberation Serif", "Times New Roman", Times, serif' font-size="17.6" font-weight="bold" stroke="#000" stroke-width="0.8" textLength="36" lengthAdjust="spacing">36<tspan dx="2" font-style="italic">%</tspan></text>
<text x="450" y="224.7" font-family='"Liberation Serif", "Times New Roman", Times, serif' font-size="17.6" font-weight="bold" stroke="#000" stroke-width="0.8" textLength="36" lengthAdjust="spacing">19<tspan dx="2" font-style="italic">%</tspan></text>
<text transform="translate(94.3 322.5) skewX(-9)" font-family='"Liberation Serif", "Times New Roman", Times, serif' font-size="17.6" font-weight="bold" stroke="#000" stroke-width="0.8" letter-spacing="0.4">45</text>
<text x="115.14" y="322.5" font-family='"Liberation Serif", "Times New Roman", Times, serif' font-size="17.6" font-weight="bold" font-style="italic" stroke="#000" stroke-width="0.8">%</text>
<text x="228.8" y="321.4" font-family='"Liberation Serif", "Times New Roman", Times, serif' font-size="17.6" font-weight="bold" stroke="#000" stroke-width="0.8" textLength="36" lengthAdjust="spacing">11<tspan dx="2" font-style="italic">%</tspan></text>
<text x="237.6" y="481.4" font-family='"Liberation Serif", "Times New Roman", Times, serif' font-size="17.6" font-weight="bold" stroke="#000" stroke-width="0.8" textLength="35.6" lengthAdjust="spacing">39<tspan dx="2" font-style="italic">%</tspan></text>
<text transform="translate(321 320.4) skewX(-9)" font-family='"Liberation Serif", "Times New Roman", Times, serif' font-size="17.6" font-weight="bold" stroke="#000" stroke-width="0.8" letter-spacing="0.4">39</text>
<text x="341.84" y="320.4" font-family='"Liberation Serif", "Times New Roman", Times, serif' font-size="17.6" font-weight="bold" font-style="italic" stroke="#000" stroke-width="0.8">%</text>
<text x="443.4" y="319.4" font-family='"Liberation Serif", "Times New Roman", Times, serif' font-size="17.6" font-weight="bold" stroke="#000" stroke-width="0.8" textLength="43.3" lengthAdjust="spacing">1.8<tspan dx="2" font-style="italic">%</tspan></text>
<text x="455" y="481.9" font-family='"Liberation Serif", "Times New Roman", Times, serif' font-size="17.6" font-weight="bold" stroke="#000" stroke-width="0.8" textLength="40" lengthAdjust="spacing">5.1<tspan dx="2" font-style="italic">%</tspan></text>
<text x="91" y="56.5" font-family='"Liberation Serif", "Times New Roman", Times, serif' font-size="22.5" font-weight="bold" text-anchor="start" stroke="#000" stroke-width="0.4" >I</text>
<text x="262.5" y="54.8" font-family='"Liberation Serif", "Times New Roman", Times, serif' font-size="22.5" font-weight="bold" text-anchor="start" stroke="#000" stroke-width="0.4" >II</text>
<text x="250" y="228.6" font-family='"Liberation Serif", "Times New Roman", Times, serif' font-size="22.5" font-weight="bold" text-anchor="start" stroke="#000" stroke-width="0.4" >III</text>
<text font-family='"Liberation Serif", "Times New Roman", Times, serif' font-weight="bold" stroke="#000" stroke-width="0.5"><tspan x="143.2" y="577.8" font-size="20.3" textLength="139" lengthAdjust="spacing">SYNDECAN-1</tspan><tspan x="284" y="573" font-size="22">+</tspan><tspan x="306.8" y="577.8" font-size="20.3" textLength="70.2" lengthAdjust="spacing">CELLS</tspan><tspan x="386.5" y="577.8" font-size="20.3" textLength="34.2" lengthAdjust="spacing">(%)</tspan></text>
<g transform="translate(20.1 430.6) rotate(-90)">
<text font-family='"Liberation Serif", "Times New Roman", Times, serif' font-weight="bold" stroke="#000" stroke-width="0.5"><tspan x="0" y="0" font-size="20.3">IL</tspan><tspan x="23.2" y="0" font-size="20.3">-</tspan><tspan x="30.6" y="0" font-size="20.3">6</tspan><tspan x="42.2" y="0" font-size="20.3">–</tspan><tspan x="53.4" y="0" font-size="20.3" textLength="134.6" lengthAdjust="spacing">PRODUCING</tspan><tspan x="201" y="0" font-size="20.3" textLength="70.4" lengthAdjust="spacing">CELLS</tspan><tspan x="287" y="0" font-size="20.3" textLength="30.6" lengthAdjust="spacing">(%)</tspan></text>
</g>
<path d="M34.4 475.5V44" stroke="#000" stroke-width="2.8" fill="none"/>
<path d="M33.8 29.8L40.5 47.4H27.1Z" fill="#000"/>
<path d="M83 546.3H486" stroke="#000" stroke-width="2.8" fill="none"/>
<path d="M502.3 545.6L484.5 552.2V538.8Z" fill="#000"/>
</svg>
</body>
</html>
